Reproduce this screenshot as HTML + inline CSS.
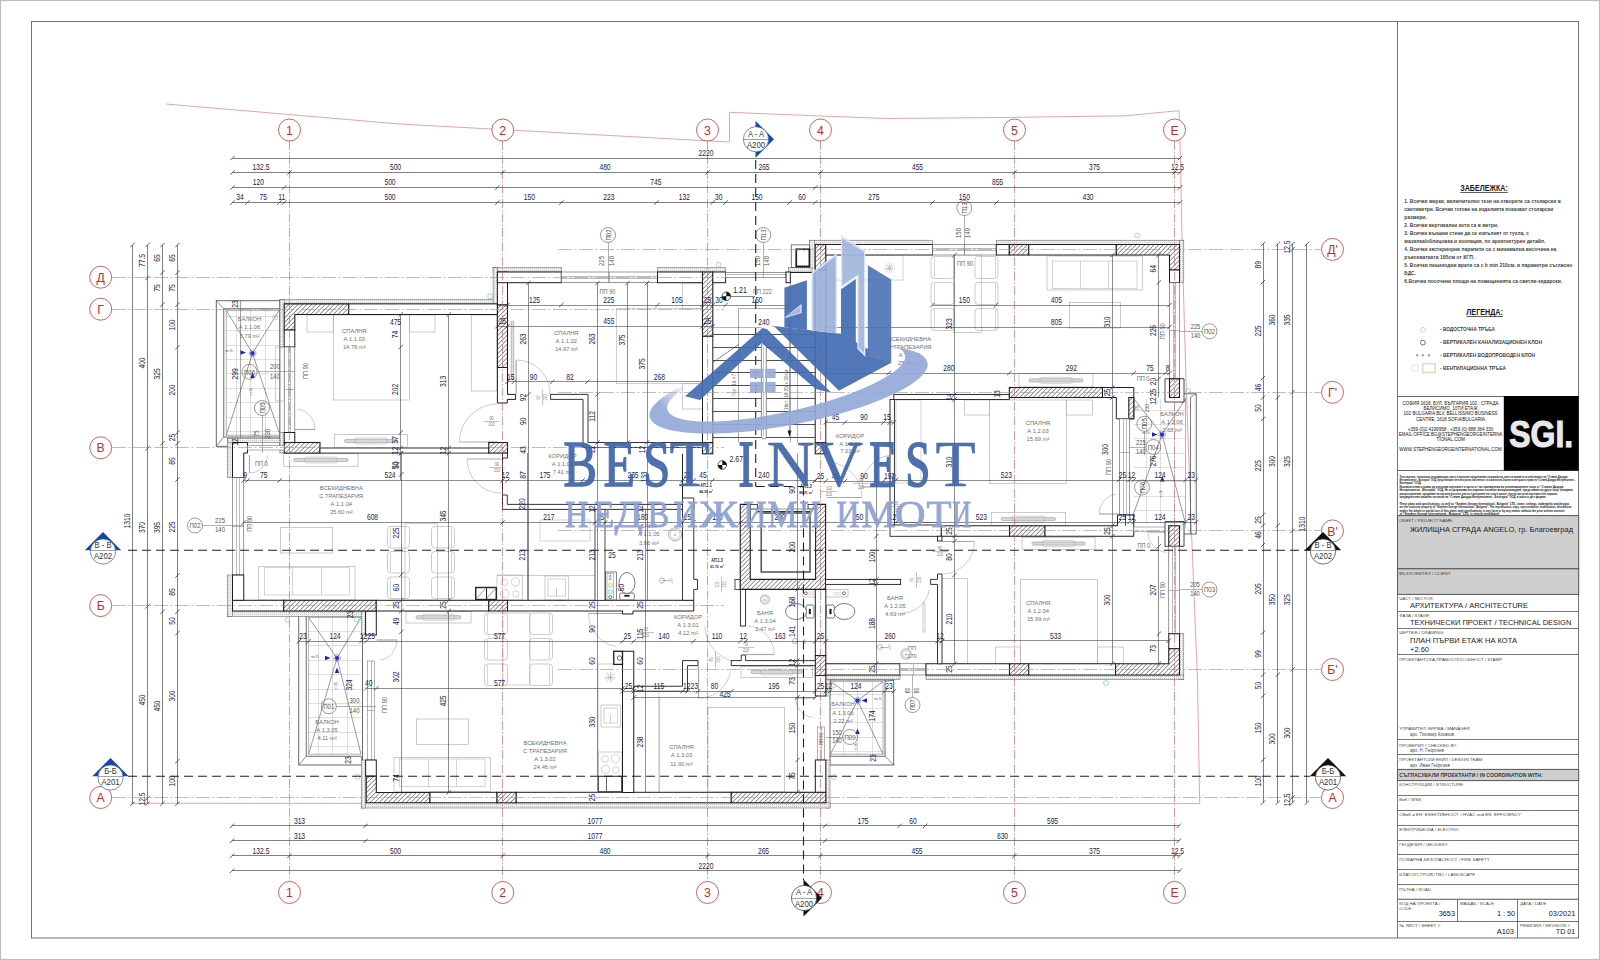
<!DOCTYPE html>
<html><head><meta charset="utf-8"><title>Plan</title>
<style>
html,body{margin:0;padding:0;background:#fff;}
body{width:1600px;height:960px;overflow:hidden;font-family:"Liberation Sans",sans-serif;}
svg{display:block;}
</style></head><body>
<svg width="1600" height="960" viewBox="0 0 1600 960">
<defs>
<pattern id="hat" width="3.2" height="3.2" patternUnits="userSpaceOnUse" patternTransform="rotate(-45)">
<rect width="3.2" height="3.2" fill="#fff"/><line x1="0" y1="0" x2="3.2" y2="0" stroke="#333" stroke-width="1"/></pattern>
<pattern id="ins" width="2" height="2" patternUnits="userSpaceOnUse"><rect width="2" height="2" fill="#f1f1f1"/><rect width="1" height="1" fill="#c8c8c8"/></pattern>
<linearGradient id="swg" x1="0" y1="0" x2="1" y2="0"><stop offset="0" stop-color="#9fb1dc"/><stop offset="1" stop-color="#8ea2d2"/></linearGradient>
</defs>
<rect width="1600" height="960" fill="#fff"/>
<rect x="0.5" y="0.5" width="1599" height="959" fill="none" stroke="#bdbdbd" stroke-width="1.2" />
<rect x="31.5" y="21.5" width="1547" height="916.5" fill="none" stroke="#757575" stroke-width="1.0" />
<line x1="1397.5" y1="21.5" x2="1397.5" y2="938" stroke="#757575" stroke-width="1.0"/>
<path d="M166 104 L400 124 L729.5 142 L729.5 112.3 L800 115.2 L887 118.5 L1000 117.5 L1125 115.8 L1175 111 L1179 111 L1180.5 160 L1182 240 L1186 380 L1191 520 L1197.5 680 L1199.7 803.6 L131 803.3" fill="none" stroke="#d06a6a" stroke-width="0.6" stroke-linejoin="miter" />
<line x1="236.5" y1="310.5" x2="236.5" y2="437" stroke="#c9c9c9" stroke-width="0.6"/>
<line x1="250.5" y1="310.5" x2="250.5" y2="437" stroke="#c9c9c9" stroke-width="0.6"/>
<line x1="265.5" y1="310.5" x2="265.5" y2="437" stroke="#c9c9c9" stroke-width="0.6"/>
<line x1="279.5" y1="310.5" x2="279.5" y2="437" stroke="#c9c9c9" stroke-width="0.6"/>
<line x1="226.3" y1="316.5" x2="279.9" y2="316.5" stroke="#c9c9c9" stroke-width="0.6"/>
<line x1="226.3" y1="330.5" x2="279.9" y2="330.5" stroke="#c9c9c9" stroke-width="0.6"/>
<line x1="226.3" y1="345.5" x2="279.9" y2="345.5" stroke="#c9c9c9" stroke-width="0.6"/>
<line x1="226.3" y1="359.5" x2="279.9" y2="359.5" stroke="#c9c9c9" stroke-width="0.6"/>
<line x1="226.3" y1="373.5" x2="279.9" y2="373.5" stroke="#c9c9c9" stroke-width="0.6"/>
<line x1="226.3" y1="388.5" x2="279.9" y2="388.5" stroke="#c9c9c9" stroke-width="0.6"/>
<line x1="226.3" y1="402.5" x2="279.9" y2="402.5" stroke="#c9c9c9" stroke-width="0.6"/>
<line x1="226.3" y1="417.5" x2="279.9" y2="417.5" stroke="#c9c9c9" stroke-width="0.6"/>
<line x1="226.3" y1="431.5" x2="279.9" y2="431.5" stroke="#c9c9c9" stroke-width="0.6"/>
<rect x="216.25" y="300.75" width="63.65" height="145.5" fill="none" stroke="#444" stroke-width="0.8" />
<path d="M279.9 308.75 L223.75 308.75 L223.75 437 L279.9 437" fill="none" stroke="#444" stroke-width="0.8" stroke-linejoin="miter" />
<path d="M279.9 310.6 L226.3 310.6 L226.3 435.2 L279.9 435.2" fill="none" stroke="#666" stroke-width="0.5" stroke-linejoin="miter" />
<line x1="216.25" y1="300.75" x2="223.75" y2="308.75" stroke="#444" stroke-width="0.6"/>
<line x1="216.25" y1="446.25" x2="223.75" y2="437" stroke="#444" stroke-width="0.6"/>
<line x1="226.3" y1="310.6" x2="252.5" y2="353.3" stroke="#555" stroke-width="0.6"/>
<line x1="279" y1="310.6" x2="252.5" y2="353.3" stroke="#555" stroke-width="0.6"/>
<line x1="226.3" y1="435.2" x2="252.5" y2="353.3" stroke="#555" stroke-width="0.6"/>
<line x1="279" y1="432.5" x2="252.5" y2="353.3" stroke="#555" stroke-width="0.6"/>
<line x1="240.5" y1="300.75" x2="240.5" y2="446.25" stroke="#4a4a4a" stroke-width="0.5"/>
<circle cx="252.5" cy="353.3" r="3.4" fill="none" stroke="#2f35c8" stroke-width="0.6" stroke-dasharray="1 0.8"/>
<circle cx="252.5" cy="353.3" r="2.1" fill="#2a30d0" stroke="#2a30d0" stroke-width="0.4" />
<path d="M246 352.5 L240.5 350.3 L240.5 354.7 Z" fill="#1c22b0" stroke="none" stroke-width="0" stroke-linejoin="miter" />
<path d="M252.5 372.5 L250.3 378 L254.7 378 Z" fill="#1c22b0" stroke="none" stroke-width="0" stroke-linejoin="miter" />
<text transform="translate(229 351.5) scale(0.78 1)" font-family="'Liberation Sans', sans-serif" font-size="2.6" fill="#2a30b0" text-anchor="middle" >min. 1%</text>
<text transform="translate(252 392) rotate(-90) scale(0.78 1)" font-family="'Liberation Sans', sans-serif" font-size="2.6" fill="#2a30b0" text-anchor="middle" >min. 1%</text>
<line x1="318.5" y1="617.5" x2="318.5" y2="754.5" stroke="#c9c9c9" stroke-width="0.6"/>
<line x1="332.5" y1="617.5" x2="332.5" y2="754.5" stroke="#c9c9c9" stroke-width="0.6"/>
<line x1="347.5" y1="617.5" x2="347.5" y2="754.5" stroke="#c9c9c9" stroke-width="0.6"/>
<line x1="308.5" y1="631.5" x2="361.3" y2="631.5" stroke="#c9c9c9" stroke-width="0.6"/>
<line x1="308.5" y1="645.5" x2="361.3" y2="645.5" stroke="#c9c9c9" stroke-width="0.6"/>
<line x1="308.5" y1="660.5" x2="361.3" y2="660.5" stroke="#c9c9c9" stroke-width="0.6"/>
<line x1="308.5" y1="674.5" x2="361.3" y2="674.5" stroke="#c9c9c9" stroke-width="0.6"/>
<line x1="308.5" y1="689.5" x2="361.3" y2="689.5" stroke="#c9c9c9" stroke-width="0.6"/>
<line x1="308.5" y1="703.5" x2="361.3" y2="703.5" stroke="#c9c9c9" stroke-width="0.6"/>
<line x1="308.5" y1="717.5" x2="361.3" y2="717.5" stroke="#c9c9c9" stroke-width="0.6"/>
<line x1="308.5" y1="732.5" x2="361.3" y2="732.5" stroke="#c9c9c9" stroke-width="0.6"/>
<line x1="308.5" y1="746.5" x2="361.3" y2="746.5" stroke="#c9c9c9" stroke-width="0.6"/>
<rect x="298.75" y="615.5" width="63.75" height="149.5" fill="none" stroke="#444" stroke-width="0.8" />
<path d="M306.25 615.5 L306.25 756.25 L361.3 756.25" fill="none" stroke="#444" stroke-width="0.8" stroke-linejoin="miter" />
<path d="M308.6 617.5 L308.6 754.2 L361.3 754.2" fill="none" stroke="#666" stroke-width="0.5" stroke-linejoin="miter" />
<line x1="308.6" y1="617.5" x2="361.3" y2="617.5" stroke="#666" stroke-width="0.5"/>
<line x1="298.75" y1="765" x2="306.25" y2="756.25" stroke="#444" stroke-width="0.6"/>
<line x1="362.5" y1="765" x2="361.3" y2="756.25" stroke="#444" stroke-width="0.6"/>
<line x1="308.6" y1="617.5" x2="337" y2="658" stroke="#555" stroke-width="0.6"/>
<line x1="361" y1="617.5" x2="337" y2="658" stroke="#555" stroke-width="0.6"/>
<line x1="308.6" y1="754.2" x2="337" y2="658" stroke="#555" stroke-width="0.6"/>
<line x1="361" y1="754.2" x2="337" y2="658" stroke="#555" stroke-width="0.6"/>
<circle cx="337" cy="658" r="3.4" fill="none" stroke="#2f35c8" stroke-width="0.6" stroke-dasharray="1 0.8"/>
<circle cx="337" cy="658" r="2.1" fill="#2a30d0" stroke="#2a30d0" stroke-width="0.4" />
<path d="M330.5 658 L325 655.8 L325 660.2 Z" fill="#1c22b0" stroke="none" stroke-width="0" stroke-linejoin="miter" />
<path d="M337 667.5 L334.8 673 L339.2 673 Z" fill="#1c22b0" stroke="none" stroke-width="0" stroke-linejoin="miter" />
<text transform="translate(315 657.5) scale(0.78 1)" font-family="'Liberation Sans', sans-serif" font-size="2.6" fill="#2a30b0" text-anchor="middle" >min. 1%</text>
<text transform="translate(336.5 686) rotate(-90) scale(0.78 1)" font-family="'Liberation Sans', sans-serif" font-size="2.6" fill="#2a30b0" text-anchor="middle" >min. 1%</text>
<line x1="843.5" y1="681.5" x2="843.5" y2="754.5" stroke="#c9c9c9" stroke-width="0.6"/>
<line x1="857.5" y1="681.5" x2="857.5" y2="754.5" stroke="#c9c9c9" stroke-width="0.6"/>
<line x1="872.5" y1="681.5" x2="872.5" y2="754.5" stroke="#c9c9c9" stroke-width="0.6"/>
<line x1="830" y1="694.5" x2="883" y2="694.5" stroke="#c9c9c9" stroke-width="0.6"/>
<line x1="830" y1="708.5" x2="883" y2="708.5" stroke="#c9c9c9" stroke-width="0.6"/>
<line x1="830" y1="722.5" x2="883" y2="722.5" stroke="#c9c9c9" stroke-width="0.6"/>
<line x1="830" y1="737.5" x2="883" y2="737.5" stroke="#c9c9c9" stroke-width="0.6"/>
<line x1="830" y1="751.5" x2="883" y2="751.5" stroke="#c9c9c9" stroke-width="0.6"/>
<rect x="830" y="680" width="63.75" height="85" fill="none" stroke="#444" stroke-width="0.8" />
<path d="M830 756.25 L885 756.25 L885 680" fill="none" stroke="#444" stroke-width="0.8" stroke-linejoin="miter" />
<path d="M830 754.2 L883 754.2 L883 681.6 L830 681.6" fill="none" stroke="#666" stroke-width="0.5" stroke-linejoin="miter" />
<line x1="893.75" y1="765" x2="885" y2="756.25" stroke="#444" stroke-width="0.6"/>
<line x1="893.75" y1="680" x2="885" y2="681.6" stroke="#444" stroke-width="0.6"/>
<line x1="830.5" y1="681.6" x2="857.5" y2="700.5" stroke="#555" stroke-width="0.6"/>
<line x1="883" y1="681.6" x2="857.5" y2="700.5" stroke="#555" stroke-width="0.6"/>
<line x1="830.5" y1="754.2" x2="857.5" y2="700.5" stroke="#555" stroke-width="0.6"/>
<line x1="883" y1="754.2" x2="857.5" y2="700.5" stroke="#555" stroke-width="0.6"/>
<circle cx="857.5" cy="700.5" r="3.4" fill="none" stroke="#2f35c8" stroke-width="0.6" stroke-dasharray="1 0.8"/>
<circle cx="857.5" cy="700.5" r="2.1" fill="#2a30d0" stroke="#2a30d0" stroke-width="0.4" />
<path d="M861.5 700.5 L867 698.3 L867 702.7 Z" fill="#1c22b0" stroke="none" stroke-width="0" stroke-linejoin="miter" />
<path d="M857.5 728.5 L855.3 734 L859.7 734 Z" fill="#1c22b0" stroke="none" stroke-width="0" stroke-linejoin="miter" />
<text transform="translate(878 699.5) scale(0.78 1)" font-family="'Liberation Sans', sans-serif" font-size="2.6" fill="#2a30b0" text-anchor="middle" >min. 1%</text>
<text transform="translate(857 747) rotate(-90) scale(0.78 1)" font-family="'Liberation Sans', sans-serif" font-size="2.6" fill="#2a30b0" text-anchor="middle" >min. 1%</text>
<line x1="1146.5" y1="399" x2="1146.5" y2="523.5" stroke="#c9c9c9" stroke-width="0.6"/>
<line x1="1160.5" y1="399" x2="1160.5" y2="523.5" stroke="#c9c9c9" stroke-width="0.6"/>
<line x1="1174.5" y1="399" x2="1174.5" y2="523.5" stroke="#c9c9c9" stroke-width="0.6"/>
<line x1="1133.8" y1="410.5" x2="1185.5" y2="410.5" stroke="#c9c9c9" stroke-width="0.6"/>
<line x1="1133.8" y1="424.5" x2="1185.5" y2="424.5" stroke="#c9c9c9" stroke-width="0.6"/>
<line x1="1133.8" y1="438.5" x2="1185.5" y2="438.5" stroke="#c9c9c9" stroke-width="0.6"/>
<line x1="1133.8" y1="453.5" x2="1185.5" y2="453.5" stroke="#c9c9c9" stroke-width="0.6"/>
<line x1="1133.8" y1="467.5" x2="1185.5" y2="467.5" stroke="#c9c9c9" stroke-width="0.6"/>
<line x1="1133.8" y1="481.5" x2="1185.5" y2="481.5" stroke="#c9c9c9" stroke-width="0.6"/>
<line x1="1133.8" y1="496.5" x2="1185.5" y2="496.5" stroke="#c9c9c9" stroke-width="0.6"/>
<line x1="1133.8" y1="510.5" x2="1185.5" y2="510.5" stroke="#c9c9c9" stroke-width="0.6"/>
<path d="M1183.8 393.75 L1196.25 393.75 L1196.25 534 L1183.8 534" fill="none" stroke="#444" stroke-width="0.8" stroke-linejoin="miter" />
<line x1="1190.5" y1="397.5" x2="1190.5" y2="534" stroke="#444" stroke-width="0.7"/>
<line x1="1185.5" y1="397.5" x2="1185.5" y2="525.5" stroke="#666" stroke-width="0.5"/>
<line x1="1196.25" y1="393.75" x2="1190" y2="397.5" stroke="#444" stroke-width="0.6"/>
<line x1="1134" y1="399" x2="1162" y2="434.5" stroke="#555" stroke-width="0.6"/>
<line x1="1185.5" y1="399" x2="1162" y2="434.5" stroke="#555" stroke-width="0.6"/>
<line x1="1130" y1="523.5" x2="1162" y2="434.5" stroke="#555" stroke-width="0.6"/>
<line x1="1185.5" y1="523.5" x2="1162" y2="434.5" stroke="#555" stroke-width="0.6"/>
<circle cx="1162" cy="434.5" r="3.4" fill="none" stroke="#2f35c8" stroke-width="0.6" stroke-dasharray="1 0.8"/>
<circle cx="1162" cy="434.5" r="2.1" fill="#2a30d0" stroke="#2a30d0" stroke-width="0.4" />
<path d="M1157.5 434.5 L1152 432.3 L1152 436.7 Z" fill="#1c22b0" stroke="none" stroke-width="0" stroke-linejoin="miter" />
<path d="M1162.3 476 L1160.1 481.5 L1164.5 481.5 Z" fill="#1c22b0" stroke="none" stroke-width="0" stroke-linejoin="miter" />
<text transform="translate(1146 434) scale(0.78 1)" font-family="'Liberation Sans', sans-serif" font-size="2.6" fill="#2a30b0" text-anchor="middle" >min. 1%</text>
<text transform="translate(1161.8 494) rotate(-90) scale(0.78 1)" font-family="'Liberation Sans', sans-serif" font-size="2.6" fill="#2a30b0" text-anchor="middle" >min. 1%</text>
<rect x="279.9" y="299.6" width="217.5" height="4.3" fill="url(#ins)" stroke="#555" stroke-width="0.5" />
<rect x="279.9" y="299.6" width="4.3" height="47.4" fill="url(#ins)" stroke="#555" stroke-width="0.5" />
<rect x="279.9" y="432.5" width="4.3" height="20.5" fill="url(#ins)" stroke="#555" stroke-width="0.5" />
<rect x="493.1" y="267.7" width="68.2" height="4.3" fill="url(#ins)" stroke="#555" stroke-width="0.5" />
<rect x="657.5" y="267.7" width="68.1" height="4.3" fill="url(#ins)" stroke="#555" stroke-width="0.5" />
<rect x="788.4" y="267.7" width="23.6" height="4.3" fill="url(#ins)" stroke="#555" stroke-width="0.5" />
<rect x="493.1" y="267.7" width="4.3" height="36.2" fill="url(#ins)" stroke="#555" stroke-width="0.5" />
<rect x="809.4" y="240.2" width="123.1" height="4.3" fill="url(#ins)" stroke="#555" stroke-width="0.5" />
<rect x="996.3" y="240.2" width="187.5" height="4.3" fill="url(#ins)" stroke="#555" stroke-width="0.5" />
<rect x="809.4" y="240.2" width="5.4" height="27.8" fill="url(#ins)" stroke="#555" stroke-width="0.5" />
<rect x="1179.5" y="240.2" width="4.3" height="42.3" fill="url(#ins)" stroke="#555" stroke-width="0.5" />
<rect x="1179.5" y="378.8" width="4.3" height="23.2" fill="url(#ins)" stroke="#555" stroke-width="0.5" />
<rect x="1179.5" y="521.5" width="4.3" height="24.8" fill="url(#ins)" stroke="#555" stroke-width="0.5" />
<rect x="1179.5" y="633.75" width="4.3" height="45.55" fill="url(#ins)" stroke="#555" stroke-width="0.5" />
<rect x="825.8" y="675" width="74.2" height="4.3" fill="url(#ins)" stroke="#555" stroke-width="0.5" />
<rect x="926" y="675" width="257.8" height="4.3" fill="url(#ins)" stroke="#555" stroke-width="0.5" />
<rect x="825.8" y="679.3" width="4.2" height="16.7" fill="url(#ins)" stroke="#555" stroke-width="0.5" />
<rect x="825.8" y="760" width="4.2" height="48" fill="url(#ins)" stroke="#555" stroke-width="0.5" />
<rect x="361.3" y="802.8" width="468.7" height="5.2" fill="url(#ins)" stroke="#555" stroke-width="0.5" />
<rect x="361.3" y="760" width="4.3" height="48" fill="url(#ins)" stroke="#555" stroke-width="0.5" />
<rect x="227.5" y="611" width="138.1" height="5.3" fill="url(#ins)" stroke="#555" stroke-width="0.5" />
<rect x="227.5" y="438.2" width="5" height="39.3" fill="url(#ins)" stroke="#555" stroke-width="0.5" />
<rect x="227.5" y="575" width="5" height="41.3" fill="url(#ins)" stroke="#555" stroke-width="0.5" />
<rect x="227.5" y="438.2" width="52.4" height="4.3" fill="url(#ins)" stroke="#555" stroke-width="0.5" />
<rect x="361.3" y="611" width="4.3" height="24" fill="url(#ins)" stroke="#555" stroke-width="0.5" />
<rect x="333.25" y="315" width="76.25" height="85" fill="none" stroke="#a9a9a9" stroke-width="0.6" />
<rect x="307" y="315" width="26.25" height="17" fill="none" stroke="#a9a9a9" stroke-width="0.6" />
<rect x="409.5" y="315" width="25.5" height="17" fill="none" stroke="#a9a9a9" stroke-width="0.6" />
<rect x="471.25" y="315" width="25.75" height="76" fill="none" stroke="#a9a9a9" stroke-width="0.6" />
<rect x="334.5" y="434.5" width="73" height="13" fill="none" stroke="#a9a9a9" stroke-width="0.6" />
<rect x="344.5" y="439.4" width="53" height="3.2" fill="#d8d8d8" stroke="#999" stroke-width="0.6" rx="1.5"/>
<rect x="355" y="438" width="32" height="6" fill="none" stroke="#a9a9a9" stroke-width="0.5" rx="1.5"/>
<line x1="294.8" y1="429.5" x2="315.3" y2="429.5" stroke="#a9a9a9" stroke-width="1.2"/>
<path d="M315.3 429.5 A20.5 20.5 0 0 0 297.65 409.2" fill="none" stroke="#a9a9a9" stroke-width="0.6" />
<line x1="497.4" y1="442" x2="459.4" y2="442" stroke="#a9a9a9" stroke-width="1.2"/>
<path d="M459.4 442 A38 38 0 0 1 497.4 404" fill="none" stroke="#a9a9a9" stroke-width="0.6" />
<rect x="616.25" y="308.75" width="86.25" height="75" fill="none" stroke="#a9a9a9" stroke-width="0.6" />
<rect x="682.5" y="283" width="20" height="25.75" fill="none" stroke="#a9a9a9" stroke-width="0.6" />
<rect x="682.5" y="383.75" width="20" height="25.25" fill="none" stroke="#a9a9a9" stroke-width="0.6" />
<rect x="511.2" y="321" width="2.6" height="59" fill="#ddd" stroke="#999" stroke-width="0.6" rx="1.2"/>
<line x1="516.2" y1="394" x2="516.2" y2="360" stroke="#a9a9a9" stroke-width="1.2"/>
<path d="M516.2 360 A34 34 0 0 1 550.2 394" fill="none" stroke="#a9a9a9" stroke-width="0.6" />
<rect x="283.75" y="453.75" width="74.25" height="12.5" fill="none" stroke="#a9a9a9" stroke-width="0.6" />
<rect x="293.75" y="458.4" width="54.25" height="3.2" fill="#d8d8d8" stroke="#999" stroke-width="0.6" rx="1.5"/>
<rect x="304.88" y="457" width="32" height="6" fill="none" stroke="#a9a9a9" stroke-width="0.5" rx="1.5"/>
<rect x="280.5" y="527.5" width="52" height="25.5" fill="none" stroke="#a9a9a9" stroke-width="0.6" />
<rect x="258.75" y="566.25" width="96.25" height="33.75" fill="none" stroke="#a9a9a9" stroke-width="0.6" />
<rect x="264.25" y="567.75" width="85.25" height="27.25" fill="none" stroke="#a9a9a9" stroke-width="0.5" />
<line x1="292.5" y1="567.75" x2="292.5" y2="595" stroke="#a9a9a9" stroke-width="0.5"/>
<line x1="321.5" y1="567.75" x2="321.5" y2="595" stroke="#a9a9a9" stroke-width="0.5"/>
<rect x="405" y="523.75" width="32.5" height="76.25" fill="none" stroke="#a9a9a9" stroke-width="0.6" />
<rect x="387.5" y="526.5" width="22" height="21.5" fill="none" stroke="#a9a9a9" stroke-width="0.6" rx="3.2"/>
<line x1="390.5" y1="527.5" x2="390.5" y2="547" stroke="#a9a9a9" stroke-width="0.5"/>
<rect x="431.5" y="526.5" width="23" height="21.5" fill="none" stroke="#a9a9a9" stroke-width="0.6" rx="3.2"/>
<line x1="451.5" y1="527.5" x2="451.5" y2="547" stroke="#a9a9a9" stroke-width="0.5"/>
<rect x="387.5" y="551.5" width="22" height="21.5" fill="none" stroke="#a9a9a9" stroke-width="0.6" rx="3.2"/>
<line x1="390.5" y1="552.5" x2="390.5" y2="572" stroke="#a9a9a9" stroke-width="0.5"/>
<rect x="431.5" y="551.5" width="23" height="21.5" fill="none" stroke="#a9a9a9" stroke-width="0.6" rx="3.2"/>
<line x1="451.5" y1="552.5" x2="451.5" y2="572" stroke="#a9a9a9" stroke-width="0.5"/>
<rect x="387.5" y="577" width="22" height="21.5" fill="none" stroke="#a9a9a9" stroke-width="0.6" rx="3.2"/>
<line x1="390.5" y1="578" x2="390.5" y2="597.5" stroke="#a9a9a9" stroke-width="0.5"/>
<rect x="431.5" y="577" width="23" height="21.5" fill="none" stroke="#a9a9a9" stroke-width="0.6" rx="3.2"/>
<line x1="451.5" y1="578" x2="451.5" y2="597.5" stroke="#a9a9a9" stroke-width="0.5"/>
<rect x="497" y="575" width="25.5" height="25" fill="none" stroke="#a9a9a9" stroke-width="0.6" />
<circle cx="504.14" cy="582.5" r="3.4" fill="none" stroke="#a9a9a9" stroke-width="0.5" />
<circle cx="515.36" cy="582" r="4.2" fill="none" stroke="#a9a9a9" stroke-width="0.5" />
<circle cx="504.65" cy="593.5" r="4.2" fill="none" stroke="#a9a9a9" stroke-width="0.5" />
<circle cx="515.87" cy="594" r="3.2" fill="none" stroke="#a9a9a9" stroke-width="0.5" />
<line x1="497" y1="575.5" x2="597.5" y2="575.5" stroke="#a9a9a9" stroke-width="0.6"/>
<rect x="545" y="576" width="23.75" height="24" fill="none" stroke="#a9a9a9" stroke-width="0.6" />
<rect x="548" y="579" width="17.75" height="17" fill="none" stroke="#a9a9a9" stroke-width="0.5" />
<line x1="556.5" y1="596" x2="556.5" y2="588" stroke="#a9a9a9" stroke-width="0.6"/>
<rect x="540" y="520" width="50" height="21" fill="none" stroke="#a9a9a9" stroke-width="0.5" />
<line x1="249.5" y1="455" x2="249.5" y2="473" stroke="#a9a9a9" stroke-width="1.2"/>
<path d="M249.5 473 A18 18 0 0 0 267.5 455" fill="none" stroke="#a9a9a9" stroke-width="0.6" />
<line x1="501" y1="459" x2="467" y2="459" stroke="#a9a9a9" stroke-width="1.2"/>
<path d="M467 459 A34 34 0 0 0 501 493" fill="none" stroke="#a9a9a9" stroke-width="0.6" />
<rect x="406" y="611.5" width="65" height="11.5" fill="none" stroke="#a9a9a9" stroke-width="0.6" />
<rect x="416" y="615.65" width="45" height="3.2" fill="#d8d8d8" stroke="#999" stroke-width="0.6" rx="1.5"/>
<rect x="422.5" y="614.25" width="32" height="6" fill="none" stroke="#a9a9a9" stroke-width="0.5" rx="1.5"/>
<rect x="416.5" y="719" width="52" height="25.5" fill="none" stroke="#a9a9a9" stroke-width="0.6" />
<rect x="394" y="757.5" width="96.5" height="34" fill="none" stroke="#a9a9a9" stroke-width="0.6" />
<rect x="399.5" y="759" width="85.5" height="27.5" fill="none" stroke="#a9a9a9" stroke-width="0.5" />
<line x1="428.5" y1="759" x2="428.5" y2="786.5" stroke="#a9a9a9" stroke-width="0.5"/>
<line x1="456.5" y1="759" x2="456.5" y2="786.5" stroke="#a9a9a9" stroke-width="0.5"/>
<rect x="503" y="613" width="27" height="72" fill="none" stroke="#a9a9a9" stroke-width="0.5" />
<rect x="484.5" y="613" width="23" height="21.5" fill="none" stroke="#a9a9a9" stroke-width="0.6" rx="3.2"/>
<line x1="487.5" y1="614" x2="487.5" y2="633.5" stroke="#a9a9a9" stroke-width="0.5"/>
<rect x="529.5" y="613" width="23" height="21.5" fill="none" stroke="#a9a9a9" stroke-width="0.6" rx="3.2"/>
<line x1="549.5" y1="614" x2="549.5" y2="633.5" stroke="#a9a9a9" stroke-width="0.5"/>
<rect x="484.5" y="638.5" width="23" height="21.5" fill="none" stroke="#a9a9a9" stroke-width="0.6" rx="3.2"/>
<line x1="487.5" y1="639.5" x2="487.5" y2="659" stroke="#a9a9a9" stroke-width="0.5"/>
<rect x="529.5" y="638.5" width="23" height="21.5" fill="none" stroke="#a9a9a9" stroke-width="0.6" rx="3.2"/>
<line x1="549.5" y1="639.5" x2="549.5" y2="659" stroke="#a9a9a9" stroke-width="0.5"/>
<rect x="484.5" y="664" width="23" height="21.5" fill="none" stroke="#a9a9a9" stroke-width="0.6" rx="3.2"/>
<line x1="487.5" y1="665" x2="487.5" y2="684.5" stroke="#a9a9a9" stroke-width="0.5"/>
<rect x="529.5" y="664" width="23" height="21.5" fill="none" stroke="#a9a9a9" stroke-width="0.6" rx="3.2"/>
<line x1="549.5" y1="665" x2="549.5" y2="684.5" stroke="#a9a9a9" stroke-width="0.5"/>
<rect x="598" y="664" width="24.5" height="112.5" fill="none" stroke="#a9a9a9" stroke-width="0.6" />
<line x1="604.5" y1="677.5" x2="615.5" y2="677.5" stroke="#a9a9a9" stroke-width="0.5"/>
<line x1="605.24" y1="674.25" x2="614.76" y2="679.75" stroke="#a9a9a9" stroke-width="0.5"/>
<line x1="607.25" y1="672.24" x2="612.75" y2="681.76" stroke="#a9a9a9" stroke-width="0.5"/>
<line x1="610.5" y1="671.5" x2="610.5" y2="682.5" stroke="#a9a9a9" stroke-width="0.5"/>
<line x1="612.75" y1="672.24" x2="607.25" y2="681.76" stroke="#a9a9a9" stroke-width="0.5"/>
<line x1="614.76" y1="674.25" x2="605.24" y2="679.75" stroke="#a9a9a9" stroke-width="0.5"/>
<rect x="601" y="705" width="19.5" height="22" fill="none" stroke="#a9a9a9" stroke-width="0.6" />
<rect x="604" y="708" width="13.5" height="15" fill="none" stroke="#a9a9a9" stroke-width="0.5" />
<line x1="610.5" y1="723" x2="610.5" y2="715" stroke="#a9a9a9" stroke-width="0.6"/>
<rect x="598.5" y="752" width="23.5" height="23.5" fill="none" stroke="#a9a9a9" stroke-width="0.6" />
<circle cx="605.08" cy="759.05" r="3.4" fill="none" stroke="#a9a9a9" stroke-width="0.5" />
<circle cx="615.42" cy="758.58" r="4.2" fill="none" stroke="#a9a9a9" stroke-width="0.5" />
<circle cx="605.55" cy="769.39" r="4.2" fill="none" stroke="#a9a9a9" stroke-width="0.5" />
<circle cx="615.89" cy="769.86" r="3.2" fill="none" stroke="#a9a9a9" stroke-width="0.5" />
<line x1="376.5" y1="640" x2="397" y2="640" stroke="#a9a9a9" stroke-width="1.2"/>
<path d="M397 640 A20.5 20.5 0 0 1 380.06 660.19" fill="none" stroke="#a9a9a9" stroke-width="0.6" />
<line x1="622" y1="613.5" x2="588.5" y2="613.5" stroke="#a9a9a9" stroke-width="1.2"/>
<path d="M588.5 613.5 A33.5 33.5 0 0 0 616.18 646.49" fill="none" stroke="#a9a9a9" stroke-width="0.6" />
<rect x="708" y="707.5" width="76.5" height="84.5" fill="none" stroke="#a9a9a9" stroke-width="0.6" />
<rect x="659" y="697" width="0.5" height="95" fill="none" stroke="#a9a9a9" stroke-width="0.5" />
<rect x="633.75" y="691.25" width="25.25" height="101.05" fill="none" stroke="#a9a9a9" stroke-width="0.5" />
<rect x="741" y="666.5" width="71.5" height="11" fill="none" stroke="#a9a9a9" stroke-width="0.6" />
<rect x="751" y="670.4" width="51.5" height="3.2" fill="#d8d8d8" stroke="#999" stroke-width="0.6" rx="1.5"/>
<rect x="760.75" y="669" width="32" height="6" fill="none" stroke="#a9a9a9" stroke-width="0.5" rx="1.5"/>
<line x1="698.5" y1="665.8" x2="698.5" y2="698.3" stroke="#a9a9a9" stroke-width="1.2"/>
<path d="M698.5 698.3 A32.5 32.5 0 0 0 730.51 671.44" fill="none" stroke="#a9a9a9" stroke-width="0.6" />
<line x1="815" y1="698" x2="795.5" y2="698" stroke="#a9a9a9" stroke-width="1.2"/>
<path d="M795.5 698 A19.5 19.5 0 0 0 812.62 717.35" fill="none" stroke="#a9a9a9" stroke-width="0.6" />
<path d="M705 626 A36 36 0 0 0 734.75 661.45" fill="none" stroke="#a9a9a9" stroke-width="0.6" />
<line x1="745.8" y1="654.5" x2="774.3" y2="654.5" stroke="#a9a9a9" stroke-width="1.2"/>
<path d="M774.3 654.5 A28.5 28.5 0 0 0 748.28 626.11" fill="none" stroke="#a9a9a9" stroke-width="0.6" />
<rect x="953.75" y="255" width="27.5" height="77.5" fill="none" stroke="#a9a9a9" stroke-width="0.6" />
<rect x="931" y="256.5" width="23" height="22" fill="none" stroke="#a9a9a9" stroke-width="0.6" rx="3.2"/>
<line x1="934.5" y1="257.5" x2="934.5" y2="277.5" stroke="#a9a9a9" stroke-width="0.5"/>
<rect x="975" y="256.5" width="23" height="22" fill="none" stroke="#a9a9a9" stroke-width="0.6" rx="3.2"/>
<line x1="995.5" y1="257.5" x2="995.5" y2="277.5" stroke="#a9a9a9" stroke-width="0.5"/>
<rect x="931" y="282.5" width="23" height="22" fill="none" stroke="#a9a9a9" stroke-width="0.6" rx="3.2"/>
<line x1="934.5" y1="283.5" x2="934.5" y2="303.5" stroke="#a9a9a9" stroke-width="0.5"/>
<rect x="975" y="282.5" width="23" height="22" fill="none" stroke="#a9a9a9" stroke-width="0.6" rx="3.2"/>
<line x1="995.5" y1="283.5" x2="995.5" y2="303.5" stroke="#a9a9a9" stroke-width="0.5"/>
<rect x="931" y="308.5" width="23" height="22" fill="none" stroke="#a9a9a9" stroke-width="0.6" rx="3.2"/>
<line x1="934.5" y1="309.5" x2="934.5" y2="329.5" stroke="#a9a9a9" stroke-width="0.5"/>
<rect x="975" y="308.5" width="23" height="22" fill="none" stroke="#a9a9a9" stroke-width="0.6" rx="3.2"/>
<line x1="995.5" y1="309.5" x2="995.5" y2="329.5" stroke="#a9a9a9" stroke-width="0.5"/>
<rect x="1047" y="256" width="95.5" height="34" fill="none" stroke="#a9a9a9" stroke-width="0.6" />
<rect x="1052.5" y="261" width="84.5" height="27.5" fill="none" stroke="#a9a9a9" stroke-width="0.5" />
<line x1="1080.5" y1="261" x2="1080.5" y2="288.5" stroke="#a9a9a9" stroke-width="0.5"/>
<line x1="1108.5" y1="261" x2="1108.5" y2="288.5" stroke="#a9a9a9" stroke-width="0.5"/>
<rect x="1069.5" y="302.5" width="51" height="25.5" fill="none" stroke="#a9a9a9" stroke-width="0.6" />
<rect x="1019" y="373.75" width="74" height="13.25" fill="none" stroke="#a9a9a9" stroke-width="0.6" />
<rect x="1029" y="378.77" width="54" height="3.2" fill="#d8d8d8" stroke="#999" stroke-width="0.6" rx="1.5"/>
<rect x="1040" y="377.38" width="32" height="6" fill="none" stroke="#a9a9a9" stroke-width="0.5" rx="1.5"/>
<rect x="826" y="255" width="77" height="25" fill="none" stroke="#a9a9a9" stroke-width="0.5" />
<line x1="884" y1="268.5" x2="895" y2="268.5" stroke="#a9a9a9" stroke-width="0.5"/>
<line x1="884.74" y1="265.25" x2="894.26" y2="270.75" stroke="#a9a9a9" stroke-width="0.5"/>
<line x1="886.75" y1="263.24" x2="892.25" y2="272.76" stroke="#a9a9a9" stroke-width="0.5"/>
<line x1="889.5" y1="262.5" x2="889.5" y2="273.5" stroke="#a9a9a9" stroke-width="0.5"/>
<line x1="892.25" y1="263.24" x2="886.75" y2="272.76" stroke="#a9a9a9" stroke-width="0.5"/>
<line x1="894.26" y1="265.25" x2="884.74" y2="270.75" stroke="#a9a9a9" stroke-width="0.5"/>
<rect x="989.5" y="400" width="76.75" height="83.5" fill="none" stroke="#a9a9a9" stroke-width="0.6" />
<rect x="964.5" y="400" width="25" height="15" fill="none" stroke="#a9a9a9" stroke-width="0.6" />
<rect x="1066.25" y="400" width="26.25" height="15" fill="none" stroke="#a9a9a9" stroke-width="0.6" />
<rect x="896" y="400" width="25" height="83" fill="none" stroke="#a9a9a9" stroke-width="0.5" />
<rect x="991.25" y="512.5" width="74.25" height="13" fill="none" stroke="#a9a9a9" stroke-width="0.6" />
<rect x="1001.25" y="517.4" width="54.25" height="3.2" fill="#d8d8d8" stroke="#999" stroke-width="0.6" rx="1.5"/>
<rect x="1012.38" y="516" width="32" height="6" fill="none" stroke="#a9a9a9" stroke-width="0.5" rx="1.5"/>
<line x1="1119" y1="514" x2="1099" y2="514" stroke="#a9a9a9" stroke-width="1.2"/>
<path d="M1099 514 A20 20 0 0 1 1116.22 494.19" fill="none" stroke="#a9a9a9" stroke-width="0.6" />
<rect x="1020.5" y="579.5" width="77" height="84.25" fill="none" stroke="#a9a9a9" stroke-width="0.6" />
<rect x="995.5" y="647" width="25" height="16.75" fill="none" stroke="#a9a9a9" stroke-width="0.6" />
<rect x="1097.5" y="647" width="25.75" height="16.75" fill="none" stroke="#a9a9a9" stroke-width="0.6" />
<rect x="941.25" y="578.75" width="26.25" height="85" fill="none" stroke="#a9a9a9" stroke-width="0.6" />
<rect x="1022" y="537.5" width="73" height="12" fill="none" stroke="#a9a9a9" stroke-width="0.6" />
<rect x="1032" y="541.9" width="53" height="3.2" fill="#d8d8d8" stroke="#999" stroke-width="0.6" rx="1.5"/>
<rect x="1042.5" y="540.5" width="32" height="6" fill="none" stroke="#a9a9a9" stroke-width="0.5" rx="1.5"/>
<line x1="942" y1="541.5" x2="974.5" y2="541.5" stroke="#a9a9a9" stroke-width="1.2"/>
<path d="M974.5 541.5 A32.5 32.5 0 0 1 943.13 573.98" fill="none" stroke="#a9a9a9" stroke-width="0.6" />
<line x1="1168.5" y1="532" x2="1148" y2="532" stroke="#a9a9a9" stroke-width="1.2"/>
<path d="M1148 532 A20.5 20.5 0 0 0 1166.71 552.42" fill="none" stroke="#a9a9a9" stroke-width="0.6" />
<line x1="826.5" y1="497.5" x2="862" y2="497.5" stroke="#a9a9a9" stroke-width="1.2"/>
<path d="M862 497.5 A35.5 35.5 0 0 0 833.88 462.78" fill="none" stroke="#a9a9a9" stroke-width="0.6" />
<line x1="894" y1="487" x2="862" y2="487" stroke="#a9a9a9" stroke-width="1.2"/>
<path d="M862 487 A32 32 0 0 1 889.55 455.31" fill="none" stroke="#a9a9a9" stroke-width="0.6" />
<path d="M900.8 613.5 A29 29 0 0 0 929.36 589.54" fill="none" stroke="#a9a9a9" stroke-width="0.6" />
<rect x="605.6" y="572" width="10.7" height="28" fill="#fff" stroke="#444" stroke-width="0.7" />
<rect x="607" y="573.5" width="6.6" height="26.5" fill="#fff" stroke="#777" stroke-width="0.5" />
<circle cx="610.3" cy="576" r="0.9" fill="none" stroke="#444" stroke-width="0.5" />
<circle cx="610.3" cy="579" r="0.9" fill="none" stroke="#444" stroke-width="0.5" />
<circle cx="610.3" cy="585.3" r="2.3" fill="#f3ecd2" stroke="#d8c890" stroke-width="0.6" />
<circle cx="610.3" cy="592" r="2.3" fill="#cfeef2" stroke="#7fd0dc" stroke-width="0.6" />
<circle cx="610.3" cy="597.3" r="1.6" fill="none" stroke="#333" stroke-width="0.7" />
<rect x="619.7" y="593" width="14.6" height="7" fill="#fff" stroke="#444" stroke-width="0.7" rx="1.5"/>
<ellipse cx="627" cy="583" rx="8" ry="10.5" fill="#fff" stroke="#444" stroke-width="0.7"/>
<rect x="624.5" y="595" width="5" height="1.6" fill="#222" stroke="#222" stroke-width="0.3" />
<circle cx="675" cy="534.4" r="6.6" fill="none" stroke="#777" stroke-width="0.6" />
<circle cx="675" cy="534.4" r="5" fill="none" stroke="#999" stroke-width="0.5" />
<circle cx="675" cy="534.9" r="0.7" fill="#888" stroke="#888" stroke-width="0.3" />
<circle cx="662" cy="580.5" r="2.6" fill="none" stroke="#888" stroke-width="0.6" />
<line x1="662" y1="580.5" x2="670" y2="580.5" stroke="#888" stroke-width="0.6"/>
<line x1="670" y1="577.7" x2="673" y2="580.3" stroke="#999" stroke-width="0.5"/>
<line x1="670" y1="579.2" x2="673" y2="581.8" stroke="#999" stroke-width="0.5"/>
<line x1="670" y1="580.7" x2="673" y2="583.3" stroke="#999" stroke-width="0.5"/>
<circle cx="765" cy="599.5" r="4.6" fill="none" stroke="#777" stroke-width="0.6" />
<circle cx="765" cy="599.5" r="3" fill="none" stroke="#999" stroke-width="0.5" />
<circle cx="765" cy="600" r="0.7" fill="#888" stroke="#888" stroke-width="0.3" />
<rect x="806" y="605" width="8" height="13" fill="#fff" stroke="#444" stroke-width="0.7" rx="1.5"/>
<ellipse cx="796" cy="611.5" rx="10.5" ry="8" fill="#fff" stroke="#444" stroke-width="0.7"/>
<rect x="809" y="609" width="1.8" height="5" fill="#222" stroke="#222" stroke-width="0.3" />
<rect x="826.4" y="605" width="8" height="13" fill="#fff" stroke="#444" stroke-width="0.7" rx="1.5"/>
<ellipse cx="844.4" cy="611.5" rx="10.5" ry="8" fill="#fff" stroke="#444" stroke-width="0.7"/>
<rect x="829.6" y="609" width="1.8" height="5" fill="#222" stroke="#222" stroke-width="0.3" />
<rect x="803" y="589.6" width="45" height="7.4" fill="#fff" stroke="#888" stroke-width="0.5" />
<circle cx="806" cy="593.3" r="1.5" fill="none" stroke="#222" stroke-width="0.6" />
<circle cx="809.5" cy="593.3" r="1.5" fill="none" stroke="#e8b8a0" stroke-width="0.6" />
<circle cx="813" cy="593.3" r="1.5" fill="none" stroke="#e8b8a0" stroke-width="0.6" />
<circle cx="836" cy="593.3" r="1.5" fill="none" stroke="#e8b8a0" stroke-width="0.6" />
<circle cx="840" cy="593.3" r="1.5" fill="none" stroke="#e8b8a0" stroke-width="0.6" />
<circle cx="844" cy="593.3" r="1.5" fill="none" stroke="#222" stroke-width="0.6" />
<circle cx="906" cy="654" r="5.2" fill="none" stroke="#777" stroke-width="0.6" />
<circle cx="906" cy="654" r="3.6" fill="none" stroke="#999" stroke-width="0.5" />
<circle cx="906" cy="654.5" r="0.7" fill="#888" stroke="#888" stroke-width="0.3" />
<circle cx="880" cy="647" r="2.6" fill="none" stroke="#888" stroke-width="0.6" />
<line x1="880" y1="647.5" x2="888" y2="647.5" stroke="#888" stroke-width="0.6"/>
<line x1="888" y1="644.2" x2="891" y2="646.8" stroke="#999" stroke-width="0.5"/>
<line x1="888" y1="645.7" x2="891" y2="648.3" stroke="#999" stroke-width="0.5"/>
<line x1="888" y1="647.2" x2="891" y2="649.8" stroke="#999" stroke-width="0.5"/>
<circle cx="795" cy="641" r="2.6" fill="none" stroke="#888" stroke-width="0.6" />
<line x1="795" y1="641.5" x2="803" y2="641.5" stroke="#888" stroke-width="0.6"/>
<line x1="803" y1="638.2" x2="806" y2="640.8" stroke="#999" stroke-width="0.5"/>
<line x1="803" y1="639.7" x2="806" y2="642.3" stroke="#999" stroke-width="0.5"/>
<line x1="803" y1="641.2" x2="806" y2="643.8" stroke="#999" stroke-width="0.5"/>
<rect x="923" y="603" width="2" height="29" fill="#fff" stroke="#999" stroke-width="0.5" />
<line x1="712.8" y1="334.5" x2="761.4" y2="334.5" stroke="#3c3c3c" stroke-width="0.9"/>
<line x1="766.3" y1="334.5" x2="815.2" y2="334.5" stroke="#3c3c3c" stroke-width="0.9"/>
<line x1="712.8" y1="347.5" x2="761.4" y2="347.5" stroke="#3c3c3c" stroke-width="0.9"/>
<line x1="766.3" y1="347.5" x2="815.2" y2="347.5" stroke="#3c3c3c" stroke-width="0.9"/>
<line x1="712.8" y1="360.5" x2="761.4" y2="360.5" stroke="#3c3c3c" stroke-width="0.9"/>
<line x1="766.3" y1="360.5" x2="815.2" y2="360.5" stroke="#3c3c3c" stroke-width="0.9"/>
<line x1="712.8" y1="372.5" x2="761.4" y2="372.5" stroke="#3c3c3c" stroke-width="0.9"/>
<line x1="766.3" y1="372.5" x2="815.2" y2="372.5" stroke="#3c3c3c" stroke-width="0.9"/>
<line x1="712.8" y1="385.5" x2="761.4" y2="385.5" stroke="#3c3c3c" stroke-width="0.9"/>
<line x1="766.3" y1="385.5" x2="815.2" y2="385.5" stroke="#3c3c3c" stroke-width="0.9"/>
<line x1="712.8" y1="398.5" x2="761.4" y2="398.5" stroke="#3c3c3c" stroke-width="0.9"/>
<line x1="766.3" y1="398.5" x2="815.2" y2="398.5" stroke="#3c3c3c" stroke-width="0.9"/>
<line x1="712.8" y1="411.5" x2="761.4" y2="411.5" stroke="#3c3c3c" stroke-width="0.9"/>
<line x1="766.3" y1="411.5" x2="815.2" y2="411.5" stroke="#3c3c3c" stroke-width="0.9"/>
<line x1="712.8" y1="424.5" x2="761.4" y2="424.5" stroke="#3c3c3c" stroke-width="0.9"/>
<line x1="766.3" y1="424.5" x2="815.2" y2="424.5" stroke="#3c3c3c" stroke-width="0.9"/>
<line x1="712.8" y1="437.5" x2="761.4" y2="437.5" stroke="#3c3c3c" stroke-width="0.9"/>
<line x1="766.3" y1="437.5" x2="815.2" y2="437.5" stroke="#3c3c3c" stroke-width="0.9"/>
<line x1="712.8" y1="327.5" x2="761.4" y2="327.5" stroke="#666" stroke-width="0.5"/>
<line x1="738.5" y1="308.6" x2="738.5" y2="442.5" stroke="#555" stroke-width="0.5"/>
<line x1="738.6" y1="308.5" x2="790" y2="308.5" stroke="#666" stroke-width="0.5"/>
<line x1="790.5" y1="283" x2="790.5" y2="442.5" stroke="#555" stroke-width="0.5"/>
<line x1="797.5" y1="334.4" x2="797.5" y2="442.5" stroke="#666" stroke-width="0.5"/>
<rect x="761.4" y="343.8" width="4.9" height="95" fill="#fff" stroke="#555" stroke-width="0.7" rx="2"/>
<line x1="763.5" y1="346" x2="763.5" y2="436.5" stroke="#888" stroke-width="0.5"/>
<line x1="712.8" y1="362.5" x2="738.6" y2="344.5" stroke="#3c3c3c" stroke-width="0.6"/>
<line x1="789.5" y1="320" x2="789.5" y2="434" stroke="#555" stroke-width="0.5"/>
<path d="M789.5 437 L787.5 430.5 L791.5 430.5 Z" fill="#222" stroke="none" stroke-width="0" stroke-linejoin="miter" />
<text transform="translate(735.5 385) rotate(-90) scale(0.9 1)" font-family="'Liberation Sans', sans-serif" font-size="5.4" fill="#777" text-anchor="middle" >Пот. 16.47</text>
<text transform="translate(787.5 390) rotate(-90) scale(0.9 1)" font-family="'Liberation Sans', sans-serif" font-size="5.4" fill="#666" text-anchor="middle" >16ст. 16.25 x 30см</text>
<circle cx="726.3" cy="296.3" r="4.3" fill="#fff" stroke="#111" stroke-width="0.7" />
<path d="M726.3 296.3 L726.3 292 A4.3 4.3 0 0 1 730.6 296.3 Z" fill="#111" stroke="none" stroke-width="0" />
<path d="M726.3 296.3 L726.3 300.6 A4.3 4.3 0 0 1 722 296.3 Z" fill="#111" stroke="none" stroke-width="0" />
<text transform="translate(740 293) scale(0.85 1)" font-family="'Liberation Sans', sans-serif" font-size="8.2" fill="#222" text-anchor="middle" >1.21</text>
<circle cx="722.3" cy="465" r="4.3" fill="#fff" stroke="#111" stroke-width="0.7" />
<path d="M722.3 465 L722.3 460.7 A4.3 4.3 0 0 1 726.6 465 Z" fill="#111" stroke="none" stroke-width="0" />
<path d="M722.3 465 L722.3 469.3 A4.3 4.3 0 0 1 718 465 Z" fill="#111" stroke="none" stroke-width="0" />
<text transform="translate(736.3 461.5) scale(0.85 1)" font-family="'Liberation Sans', sans-serif" font-size="8.2" fill="#222" text-anchor="middle" >2.67</text>
<line x1="730" y1="296.5" x2="755" y2="296.5" stroke="#333" stroke-width="0.6"/>
<path d="M284.2 303.9 L348.8 303.9 L348.8 314.5 L294.8 314.5 L294.8 330 L284.2 330 Z" fill="url(#hat)" stroke="#1e1e1e" stroke-width="1.1" stroke-linejoin="miter" />
<rect x="348.8" y="303.9" width="148.6" height="10.6" fill="#fff" stroke="#1e1e1e" stroke-width="1.0" />
<rect x="284.2" y="330" width="10.6" height="17" fill="#fff" stroke="#1e1e1e" stroke-width="1.0" />
<rect x="284.2" y="347" width="10.6" height="85.5" fill="#fff" stroke="#555" stroke-width="0.6" />
<line x1="288.5" y1="347" x2="288.5" y2="432.5" stroke="#777" stroke-width="0.5"/>
<line x1="290.5" y1="347" x2="290.5" y2="432.5" stroke="#777" stroke-width="0.5"/>
<line x1="284.2" y1="389.5" x2="294.8" y2="389.5" stroke="#777" stroke-width="0.5"/>
<rect x="275.5" y="347" width="8.7" height="54" fill="none" stroke="#999" stroke-width="0.5" />
<rect x="284.2" y="432.5" width="10.6" height="10" fill="#fff" stroke="#1e1e1e" stroke-width="1.0" />
<rect x="284.2" y="442.5" width="35.8" height="10.6" fill="url(#hat)" stroke="#1e1e1e" stroke-width="1.1" />
<rect x="320" y="448" width="168.75" height="5.1" fill="#fff" stroke="#1e1e1e" stroke-width="0.9" />
<rect x="488.75" y="442.5" width="18.75" height="10.6" fill="url(#hat)" stroke="#1e1e1e" stroke-width="1.1" />
<rect x="497.4" y="272" width="10.1" height="33" fill="#fff" stroke="#1e1e1e" stroke-width="1.0" />
<rect x="497.4" y="305" width="10.1" height="62.5" fill="url(#hat)" stroke="#1e1e1e" stroke-width="1.1" />
<path d="M497.4 367.5 L507.5 367.5 L507.5 394.4 L515.6 394.4 L515.6 399.4 L507.3 399.4 L507.3 403 L497.4 403 Z" fill="#fff" stroke="#1e1e1e" stroke-width="1.0" stroke-linejoin="miter" />
<rect x="497.4" y="272" width="63.9" height="10.7" fill="#fff" stroke="#1e1e1e" stroke-width="1.0" />
<rect x="561.3" y="272" width="96.2" height="10.7" fill="#fff" stroke="#555" stroke-width="0.6" />
<line x1="561.3" y1="276.5" x2="657.5" y2="276.5" stroke="#777" stroke-width="0.5"/>
<line x1="561.3" y1="278.5" x2="657.5" y2="278.5" stroke="#777" stroke-width="0.5"/>
<line x1="609.5" y1="272" x2="609.5" y2="282.7" stroke="#777" stroke-width="0.5"/>
<rect x="657.5" y="272" width="45" height="10.7" fill="#fff" stroke="#1e1e1e" stroke-width="1.0" />
<rect x="702.5" y="272" width="10.3" height="64.3" fill="url(#hat)" stroke="#1e1e1e" stroke-width="1.1" />
<rect x="702.5" y="336.3" width="10.3" height="106.2" fill="#fff" stroke="#1e1e1e" stroke-width="1.0" />
<rect x="702.5" y="442.5" width="10.3" height="11.3" fill="url(#hat)" stroke="#1e1e1e" stroke-width="1.1" />
<rect x="712.8" y="272" width="12.8" height="10.7" fill="#fff" stroke="#1e1e1e" stroke-width="1.0" />
<rect x="725.6" y="272.3" width="60.4" height="5" fill="#fff" stroke="#555" stroke-width="0.6" />
<line x1="725.6" y1="274.5" x2="786" y2="274.5" stroke="#777" stroke-width="0.5"/>
<rect x="786" y="272" width="4.3" height="10.7" fill="#fff" stroke="#1e1e1e" stroke-width="1.0" />
<line x1="790.3" y1="272.5" x2="812" y2="272.5" stroke="#1e1e1e" stroke-width="1.0"/>
<rect x="791.25" y="244.9" width="18.15" height="22.6" fill="#fff" stroke="#444" stroke-width="0.7" />
<rect x="796.25" y="249.25" width="13.15" height="17.15" fill="#fff" stroke="#1e1e1e" stroke-width="1.7" />
<rect x="815.2" y="244.5" width="10.6" height="25.5" fill="url(#hat)" stroke="#1e1e1e" stroke-width="1.1" />
<rect x="815.2" y="270" width="10.6" height="172.5" fill="#fff" stroke="#1e1e1e" stroke-width="1.0" />
<rect x="815.2" y="442.5" width="10.6" height="11.3" fill="url(#hat)" stroke="#1e1e1e" stroke-width="1.1" />
<rect x="825.8" y="244.5" width="106.7" height="10.5" fill="#fff" stroke="#1e1e1e" stroke-width="1.0" />
<rect x="932.5" y="244.5" width="63.8" height="10.5" fill="#fff" stroke="#555" stroke-width="0.6" />
<line x1="932.5" y1="248.5" x2="996.3" y2="248.5" stroke="#777" stroke-width="0.5"/>
<line x1="932.5" y1="250.5" x2="996.3" y2="250.5" stroke="#777" stroke-width="0.5"/>
<line x1="964.5" y1="244.5" x2="964.5" y2="255" stroke="#777" stroke-width="0.5"/>
<rect x="996.3" y="244.5" width="13" height="10.5" fill="#fff" stroke="#1e1e1e" stroke-width="1.0" />
<rect x="1009.3" y="244.5" width="19.5" height="10.5" fill="url(#hat)" stroke="#1e1e1e" stroke-width="1.1" />
<rect x="1028.8" y="244.5" width="87.5" height="10.5" fill="#fff" stroke="#1e1e1e" stroke-width="1.0" />
<path d="M1116.3 244.5 L1179.5 244.5 L1179.5 270 L1169.5 270 L1169.5 255 L1116.3 255 Z" fill="url(#hat)" stroke="#1e1e1e" stroke-width="1.1" stroke-linejoin="miter" />
<rect x="1169.5" y="270" width="10" height="12.5" fill="#fff" stroke="#1e1e1e" stroke-width="1.0" />
<rect x="1169.5" y="282.5" width="10" height="96.3" fill="#fff" stroke="#555" stroke-width="0.6" />
<line x1="1173.5" y1="282.5" x2="1173.5" y2="378.8" stroke="#777" stroke-width="0.5"/>
<line x1="1175.5" y1="282.5" x2="1175.5" y2="378.8" stroke="#777" stroke-width="0.5"/>
<line x1="1169.5" y1="330.5" x2="1179.5" y2="330.5" stroke="#777" stroke-width="0.5"/>
<path d="M1165 378.8 L1184 378.8 L1184 402 L1165 402 Z" fill="#fff" stroke="#1e1e1e" stroke-width="0.8" stroke-linejoin="miter" />
<rect x="1169.5" y="378.8" width="10" height="18.7" fill="url(#hat)" stroke="#1e1e1e" stroke-width="1.1" />
<rect x="893.8" y="394.5" width="115.5" height="5" fill="#fff" stroke="#1e1e1e" stroke-width="0.9" />
<rect x="1009.3" y="387.5" width="93.2" height="10" fill="url(#hat)" stroke="#1e1e1e" stroke-width="1.1" />
<path d="M1102.5 387.5 L1133.8 387.5 L1133.8 418.8 L1116.3 418.8 L1116.3 397.5 L1102.5 397.5 Z" fill="#fff" stroke="#1e1e1e" stroke-width="1.0" stroke-linejoin="miter" />
<rect x="1128.8" y="397.5" width="5" height="21.3" fill="url(#hat)" stroke="#1e1e1e" stroke-width="1.1" />
<rect x="1119.5" y="418.8" width="10" height="96.2" fill="#fff" stroke="#555" stroke-width="0.6" />
<line x1="1123.5" y1="418.8" x2="1123.5" y2="515" stroke="#777" stroke-width="0.5"/>
<line x1="1126.5" y1="418.8" x2="1126.5" y2="515" stroke="#777" stroke-width="0.5"/>
<line x1="1119.5" y1="452.5" x2="1129.5" y2="452.5" stroke="#777" stroke-width="0.5"/>
<rect x="890" y="525" width="51.3" height="11.3" fill="#fff" stroke="#1e1e1e" stroke-width="0.9" />
<rect x="941.3" y="525.75" width="68.2" height="10.5" fill="#fff" stroke="#1e1e1e" stroke-width="1.0" />
<rect x="1009.5" y="525.75" width="35.5" height="10.5" fill="url(#hat)" stroke="#1e1e1e" stroke-width="1.1" />
<path d="M1045 525.75 L1117.5 525.75 L1117.5 515 L1133.75 515 L1133.75 536.25 L1045 536.25 Z" fill="#fff" stroke="#1e1e1e" stroke-width="1.0" stroke-linejoin="miter" />
<line x1="1125.5" y1="515" x2="1125.5" y2="525.75" stroke="#1e1e1e" stroke-width="0.8"/>
<rect x="1133.75" y="527" width="35" height="4.5" fill="#fff" stroke="#666" stroke-width="0.5" />
<path d="M1165 521.5 L1184 521.5 L1184 546.3 L1165 546.3 Z" fill="#fff" stroke="#1e1e1e" stroke-width="0.8" stroke-linejoin="miter" />
<rect x="1168.75" y="525.75" width="10.75" height="20.55" fill="url(#hat)" stroke="#1e1e1e" stroke-width="1.1" />
<rect x="1168.75" y="546.3" width="10.75" height="87.45" fill="#fff" stroke="#555" stroke-width="0.6" />
<line x1="1172.5" y1="546.3" x2="1172.5" y2="633.75" stroke="#777" stroke-width="0.5"/>
<line x1="1175.5" y1="546.3" x2="1175.5" y2="633.75" stroke="#777" stroke-width="0.5"/>
<line x1="1168.75" y1="590.5" x2="1179.5" y2="590.5" stroke="#777" stroke-width="0.5"/>
<rect x="1168.75" y="633.75" width="10.75" height="15" fill="#fff" stroke="#1e1e1e" stroke-width="1.0" />
<path d="M1168.75 648.75 L1179.5 648.75 L1179.5 675 L1115.5 675 L1115.5 663.75 L1168.75 663.75 Z" fill="url(#hat)" stroke="#1e1e1e" stroke-width="1.1" stroke-linejoin="miter" />
<rect x="825.6" y="663.75" width="74.4" height="11.25" fill="#fff" stroke="#1e1e1e" stroke-width="1.0" />
<rect x="900" y="663.75" width="26" height="11.25" fill="#fff" stroke="#555" stroke-width="0.6" />
<line x1="900" y1="668.5" x2="926" y2="668.5" stroke="#777" stroke-width="0.5"/>
<line x1="900" y1="670.5" x2="926" y2="670.5" stroke="#777" stroke-width="0.5"/>
<line x1="913.5" y1="663.75" x2="913.5" y2="675" stroke="#777" stroke-width="0.5"/>
<rect x="926" y="663.75" width="83.5" height="11.25" fill="#fff" stroke="#1e1e1e" stroke-width="1.0" />
<rect x="1009.5" y="663.75" width="19.25" height="11.25" fill="url(#hat)" stroke="#1e1e1e" stroke-width="1.1" />
<rect x="1028.75" y="663.75" width="86.75" height="11.25" fill="#fff" stroke="#1e1e1e" stroke-width="1.0" />
<rect x="815.3" y="589.4" width="10.5" height="66.2" fill="#fff" stroke="#1e1e1e" stroke-width="1.0" />
<rect x="815.3" y="655.6" width="10.5" height="20" fill="url(#hat)" stroke="#1e1e1e" stroke-width="1.1" />
<rect x="815.3" y="675.6" width="10.5" height="20.4" fill="#fff" stroke="#1e1e1e" stroke-width="1.0" />
<rect x="817.5" y="727" width="7" height="33" fill="#fff" stroke="#666" stroke-width="0.5" />
<line x1="821.5" y1="727" x2="821.5" y2="760" stroke="#777" stroke-width="0.5"/>
<rect x="815.3" y="760" width="10.5" height="32.5" fill="#fff" stroke="#1e1e1e" stroke-width="1.0" />
<path d="M366.25 776 L376.3 776 L376.3 792.5 L430 792.5 L430 802.8 L366.25 802.8 Z" fill="url(#hat)" stroke="#1e1e1e" stroke-width="1.1" stroke-linejoin="miter" />
<rect x="430" y="792.3" width="67" height="10.5" fill="#fff" stroke="#1e1e1e" stroke-width="1.0" />
<rect x="497" y="792.3" width="19.25" height="10.5" fill="url(#hat)" stroke="#1e1e1e" stroke-width="1.1" />
<rect x="516.25" y="792.3" width="215" height="10.5" fill="#fff" stroke="#1e1e1e" stroke-width="1.0" />
<rect x="731.25" y="792.3" width="94.55" height="10.5" fill="url(#hat)" stroke="#1e1e1e" stroke-width="1.1" />
<rect x="365.6" y="611" width="10.7" height="24" fill="#fff" stroke="#1e1e1e" stroke-width="1.0" />
<rect x="367.5" y="661" width="7" height="99" fill="#fff" stroke="#666" stroke-width="0.5" />
<line x1="371.5" y1="661" x2="371.5" y2="760" stroke="#777" stroke-width="0.5"/>
<line x1="367.5" y1="710.5" x2="374.5" y2="710.5" stroke="#777" stroke-width="0.5"/>
<rect x="365.6" y="760" width="10.7" height="16" fill="#fff" stroke="#1e1e1e" stroke-width="1.0" />
<rect x="232.5" y="600.3" width="51.25" height="10.7" fill="#fff" stroke="#1e1e1e" stroke-width="1.0" />
<rect x="283.75" y="600.3" width="92.5" height="10.7" fill="url(#hat)" stroke="#1e1e1e" stroke-width="1.1" />
<rect x="376.25" y="600.3" width="112.5" height="10.7" fill="#fff" stroke="#1e1e1e" stroke-width="1.0" />
<rect x="488.75" y="600.3" width="18.75" height="10.7" fill="url(#hat)" stroke="#1e1e1e" stroke-width="1.1" />
<path d="M507.5 600.3 L693.75 600.3 L693.75 611 L633 611 L633 614 L622.5 614 L622.5 611 L507.5 611 Z" fill="#fff" stroke="#1e1e1e" stroke-width="1.0" stroke-linejoin="miter" />
<path d="M232.5 442.5 L247.5 442.5 L247.5 453 L243.75 453 L243.75 477.5 L232.5 477.5 Z" fill="#fff" stroke="#1e1e1e" stroke-width="1.0" stroke-linejoin="miter" />
<rect x="232.5" y="477.5" width="11.25" height="97.5" fill="#fff" stroke="#555" stroke-width="0.6" />
<line x1="236.5" y1="477.5" x2="236.5" y2="575" stroke="#777" stroke-width="0.5"/>
<line x1="239.5" y1="477.5" x2="239.5" y2="575" stroke="#777" stroke-width="0.5"/>
<line x1="232.5" y1="526.5" x2="243.75" y2="526.5" stroke="#777" stroke-width="0.5"/>
<rect x="232.5" y="575" width="11.25" height="25.3" fill="#fff" stroke="#1e1e1e" stroke-width="1.0" />
<rect x="247.5" y="445.5" width="36.7" height="4.5" fill="#fff" stroke="#666" stroke-width="0.5" />
<path d="M550.6 394.4 L588 394.4 L588 442.5 L702.5 442.5 L702.5 447.5 L583 447.5 L583 399.4 L550.6 399.4 Z" fill="#fff" stroke="#1e1e1e" stroke-width="0.9" stroke-linejoin="miter" />
<path d="M502.5 495 L507.3 495 L507.3 504.4 L693.75 504.4 L693.75 509.4 L502.5 509.4 Z" fill="#fff" stroke="#1e1e1e" stroke-width="0.9" stroke-linejoin="miter" />
<line x1="502.5" y1="453.1" x2="502.5" y2="509.4" stroke="#1e1e1e" stroke-width="1.0"/>
<rect x="502.5" y="453.1" width="5" height="4.9" fill="#fff" stroke="#1e1e1e" stroke-width="0.9" />
<rect x="595" y="509.4" width="10" height="90.9" fill="#fff" stroke="#1e1e1e" stroke-width="0.8" />
<path d="M682.5 498 L693.75 498 L693.75 579.4 L697.5 579.4 L697.5 589.4 L693.75 589.4 L693.75 600.3 L682.5 600.3 Z" fill="#fff" stroke="#1e1e1e" stroke-width="0.9" stroke-linejoin="miter" />
<line x1="682.5" y1="453.8" x2="682.5" y2="498" stroke="#1e1e1e" stroke-width="1.0"/>
<rect x="735" y="579.4" width="5.25" height="10" fill="#fff" stroke="#1e1e1e" stroke-width="0.8" />
<path d="M740.25 504.4 L750.25 504.4 L750.25 579.4 L815.6 579.4 L815.6 504.4 L825.6 504.4 L825.6 589.4 L740.25 589.4 Z" fill="url(#hat)" stroke="#1e1e1e" stroke-width="1.1" stroke-linejoin="miter" />
<rect x="750.25" y="504.4" width="7.25" height="4.6" fill="#fff" stroke="#1e1e1e" stroke-width="0.8" />
<rect x="808" y="504.4" width="7.6" height="4.6" fill="#fff" stroke="#1e1e1e" stroke-width="0.8" />
<rect x="757.5" y="509" width="52.5" height="4" fill="#fff" stroke="#555" stroke-width="0.6" />
<line x1="757.5" y1="511.5" x2="810" y2="511.5" stroke="#333" stroke-width="1.0"/>
<rect x="761.25" y="513" width="48.75" height="59" fill="none" stroke="#5a5a5a" stroke-width="1.6" />
<rect x="622.5" y="651.25" width="11.25" height="141.25" fill="#fff" stroke="#1e1e1e" stroke-width="1.0" />
<rect x="613.75" y="651.25" width="8.75" height="13.15" fill="#fff" stroke="#1e1e1e" stroke-width="1.3" />
<circle cx="619.5" cy="658" r="2.2" fill="none" stroke="#333" stroke-width="0.7" />
<path d="M682.5 660.6 L698 660.6 L698 665.6 L687.5 665.6 L687.5 691.25 L633.75 691.25 L633.75 686.25 L682.5 686.25 Z" fill="#fff" stroke="#1e1e1e" stroke-width="0.9" stroke-linejoin="miter" />
<rect x="740.4" y="589.4" width="5.2" height="36.6" fill="#fff" stroke="#1e1e1e" stroke-width="0.9" />
<path d="M731.25 660.6 L741.25 660.6 L741.25 655 L745.6 655 L745.6 660.6 L815.3 660.6 L815.3 665.6 L731.25 665.6 Z" fill="#fff" stroke="#1e1e1e" stroke-width="0.9" stroke-linejoin="miter" />
<rect x="890" y="399.5" width="4.4" height="125.5" fill="#fff" stroke="#1e1e1e" stroke-width="0.9" />
<rect x="825.6" y="579.4" width="75" height="5" fill="#fff" stroke="#1e1e1e" stroke-width="0.9" />
<path d="M937.5 574 L942 574 L942 663.75 L937.5 663.75 L937.5 584.4 L930.6 584.4 L930.6 579.4 L937.5 579.4 Z" fill="#fff" stroke="#1e1e1e" stroke-width="0.9" stroke-linejoin="miter" />
<rect x="937.5" y="536.25" width="4.5" height="4.75" fill="#fff" stroke="#1e1e1e" stroke-width="0.9" />
<rect x="475.75" y="587.5" width="20.5" height="12" fill="#fff" stroke="#222" stroke-width="1.4" />
<line x1="486.5" y1="587.5" x2="486.5" y2="599.5" stroke="#222" stroke-width="1.0"/>
<line x1="477" y1="598" x2="485" y2="589" stroke="#555" stroke-width="0.6"/>
<line x1="487" y1="598" x2="495" y2="589" stroke="#555" stroke-width="0.6"/>
<rect x="598.5" y="776.5" width="23" height="15" fill="#fff" stroke="#444" stroke-width="0.9" />
<line x1="606.5" y1="776.5" x2="606.5" y2="791.5" stroke="#444" stroke-width="0.8"/>
<circle cx="608" cy="235" r="7.5" fill="none" stroke="#555" stroke-width="0.6" />
<text transform="translate(610.7 235) rotate(-90) scale(0.8 1)" font-family="'Liberation Sans', sans-serif" font-size="7.6" fill="#555" text-anchor="middle" >П02</text>
<line x1="608.5" y1="242.5" x2="608.5" y2="283" stroke="#666" stroke-width="0.5"/>
<text transform="translate(604 261) rotate(-90) scale(0.78 1)" font-family="'Liberation Sans', sans-serif" font-size="7.6" fill="#555" text-anchor="middle" >225</text>
<text transform="translate(613.5 261) rotate(-90) scale(0.78 1)" font-family="'Liberation Sans', sans-serif" font-size="7.6" fill="#555" text-anchor="middle" >140</text>
<circle cx="763.3" cy="235" r="7.5" fill="none" stroke="#555" stroke-width="0.6" />
<text transform="translate(766 235) rotate(-90) scale(0.8 1)" font-family="'Liberation Sans', sans-serif" font-size="7.6" fill="#555" text-anchor="middle" >П13</text>
<line x1="763.5" y1="242.5" x2="763.5" y2="277" stroke="#666" stroke-width="0.5"/>
<text transform="translate(759.5 261) rotate(-90) scale(0.78 1)" font-family="'Liberation Sans', sans-serif" font-size="7.6" fill="#555" text-anchor="middle" >150</text>
<text transform="translate(769 261) rotate(-90) scale(0.78 1)" font-family="'Liberation Sans', sans-serif" font-size="7.6" fill="#555" text-anchor="middle" >140</text>
<circle cx="964.3" cy="208" r="7.5" fill="none" stroke="#555" stroke-width="0.6" />
<text transform="translate(967 208) rotate(-90) scale(0.8 1)" font-family="'Liberation Sans', sans-serif" font-size="7.6" fill="#555" text-anchor="middle" >П13</text>
<line x1="964.5" y1="215.5" x2="964.5" y2="255" stroke="#666" stroke-width="0.5"/>
<text transform="translate(960.5 233) rotate(-90) scale(0.78 1)" font-family="'Liberation Sans', sans-serif" font-size="7.6" fill="#555" text-anchor="middle" >150</text>
<text transform="translate(970 233) rotate(-90) scale(0.78 1)" font-family="'Liberation Sans', sans-serif" font-size="7.6" fill="#555" text-anchor="middle" >140</text>
<circle cx="195" cy="525.5" r="7.5" fill="none" stroke="#555" stroke-width="0.6" />
<text transform="translate(195 528.2) scale(0.8 1)" font-family="'Liberation Sans', sans-serif" font-size="7.6" fill="#555" text-anchor="middle" >П02</text>
<line x1="202.5" y1="525.5" x2="243.75" y2="525.5" stroke="#666" stroke-width="0.5"/>
<text transform="translate(220 522.5) scale(0.78 1)" font-family="'Liberation Sans', sans-serif" font-size="7.6" fill="#555" text-anchor="middle" >225</text>
<text transform="translate(220 532.3) scale(0.78 1)" font-family="'Liberation Sans', sans-serif" font-size="7.6" fill="#555" text-anchor="middle" >140</text>
<circle cx="249.5" cy="371.8" r="7.5" fill="none" stroke="#555" stroke-width="0.6" />
<text transform="translate(249.5 374.5) scale(0.8 1)" font-family="'Liberation Sans', sans-serif" font-size="7.6" fill="#555" text-anchor="middle" >П06</text>
<line x1="257" y1="371.5" x2="294.8" y2="371.5" stroke="#666" stroke-width="0.5"/>
<text transform="translate(275 368.8) scale(0.78 1)" font-family="'Liberation Sans', sans-serif" font-size="7.6" fill="#555" text-anchor="middle" >200</text>
<text transform="translate(275 378.6) scale(0.78 1)" font-family="'Liberation Sans', sans-serif" font-size="7.6" fill="#555" text-anchor="middle" >140</text>
<circle cx="262" cy="408" r="7.5" fill="none" stroke="#555" stroke-width="0.6" />
<text transform="translate(264.7 408) rotate(-90) scale(0.8 1)" font-family="'Liberation Sans', sans-serif" font-size="7.6" fill="#555" text-anchor="middle" >П05</text>
<line x1="262.5" y1="415.5" x2="262.5" y2="453" stroke="#666" stroke-width="0.5"/>
<text transform="translate(258.8 433.8) rotate(-90) scale(0.78 1)" font-family="'Liberation Sans', sans-serif" font-size="7.6" fill="#555" text-anchor="middle" >75</text>
<text transform="translate(269.5 433.8) rotate(-90) scale(0.78 1)" font-family="'Liberation Sans', sans-serif" font-size="7.6" fill="#555" text-anchor="middle" >230</text>
<circle cx="328.8" cy="706.3" r="7.5" fill="none" stroke="#555" stroke-width="0.6" />
<text transform="translate(328.8 709) scale(0.8 1)" font-family="'Liberation Sans', sans-serif" font-size="7.6" fill="#555" text-anchor="middle" >П01</text>
<line x1="336.3" y1="706.5" x2="376.3" y2="706.5" stroke="#666" stroke-width="0.5"/>
<text transform="translate(354.5 703.3) scale(0.78 1)" font-family="'Liberation Sans', sans-serif" font-size="7.6" fill="#555" text-anchor="middle" >300</text>
<text transform="translate(354.5 713) scale(0.78 1)" font-family="'Liberation Sans', sans-serif" font-size="7.6" fill="#555" text-anchor="middle" >140</text>
<circle cx="1209.5" cy="331.3" r="7.5" fill="none" stroke="#555" stroke-width="0.6" />
<text transform="translate(1209.5 334) scale(0.8 1)" font-family="'Liberation Sans', sans-serif" font-size="7.6" fill="#555" text-anchor="middle" >П02</text>
<line x1="1179.5" y1="331.5" x2="1202" y2="331.5" stroke="#666" stroke-width="0.5"/>
<text transform="translate(1195.5 328.8) scale(0.78 1)" font-family="'Liberation Sans', sans-serif" font-size="7.4" fill="#555" text-anchor="middle" >225</text>
<text transform="translate(1195.5 338) scale(0.78 1)" font-family="'Liberation Sans', sans-serif" font-size="7.4" fill="#555" text-anchor="middle" >140</text>
<circle cx="1209.5" cy="589.5" r="7.5" fill="none" stroke="#555" stroke-width="0.6" />
<text transform="translate(1209.5 592.2) scale(0.8 1)" font-family="'Liberation Sans', sans-serif" font-size="7.6" fill="#555" text-anchor="middle" >П03</text>
<line x1="1179.5" y1="589.5" x2="1202" y2="589.5" stroke="#666" stroke-width="0.5"/>
<text transform="translate(1195 586.8) scale(0.78 1)" font-family="'Liberation Sans', sans-serif" font-size="7.4" fill="#555" text-anchor="middle" >205</text>
<text transform="translate(1195 596) scale(0.78 1)" font-family="'Liberation Sans', sans-serif" font-size="7.4" fill="#555" text-anchor="middle" >140</text>
<circle cx="1144.3" cy="423.8" r="7.5" fill="none" stroke="#555" stroke-width="0.6" />
<text transform="translate(1147 423.8) rotate(-90) scale(0.8 1)" font-family="'Liberation Sans', sans-serif" font-size="7.6" fill="#555" text-anchor="middle" >П05</text>
<line x1="1144.5" y1="431.3" x2="1144.5" y2="455" stroke="#666" stroke-width="0.5"/>
<text transform="translate(1138.5 408) rotate(-90) scale(0.78 1)" font-family="'Liberation Sans', sans-serif" font-size="6" fill="#555" text-anchor="middle" >75</text>
<text transform="translate(1149 408) rotate(-90) scale(0.78 1)" font-family="'Liberation Sans', sans-serif" font-size="6" fill="#555" text-anchor="middle" >230</text>
<circle cx="1153.3" cy="447" r="7.5" fill="none" stroke="#555" stroke-width="0.6" />
<text transform="translate(1153.3 449.7) scale(0.8 1)" font-family="'Liberation Sans', sans-serif" font-size="7.6" fill="#555" text-anchor="middle" >П04</text>
<line x1="1129.5" y1="447.5" x2="1145.8" y2="447.5" stroke="#666" stroke-width="0.5"/>
<text transform="translate(1140.8 445) scale(0.78 1)" font-family="'Liberation Sans', sans-serif" font-size="7.4" fill="#555" text-anchor="middle" >225</text>
<text transform="translate(1140.8 453.5) scale(0.78 1)" font-family="'Liberation Sans', sans-serif" font-size="7.4" fill="#555" text-anchor="middle" >140</text>
<circle cx="1142" cy="487.5" r="7.5" fill="none" stroke="#555" stroke-width="0.6" />
<text transform="translate(1144.7 487.5) rotate(-90) scale(0.8 1)" font-family="'Liberation Sans', sans-serif" font-size="7.6" fill="#555" text-anchor="middle" >П06</text>
<circle cx="850" cy="737" r="7.5" fill="none" stroke="#555" stroke-width="0.6" />
<text transform="translate(850 739.7) scale(0.8 1)" font-family="'Liberation Sans', sans-serif" font-size="7.6" fill="#555" text-anchor="middle" >П09</text>
<line x1="825.8" y1="737.5" x2="842.5" y2="737.5" stroke="#666" stroke-width="0.5"/>
<text transform="translate(837 734.5) scale(0.78 1)" font-family="'Liberation Sans', sans-serif" font-size="7.4" fill="#555" text-anchor="middle" >150</text>
<text transform="translate(837 743.3) scale(0.78 1)" font-family="'Liberation Sans', sans-serif" font-size="7.4" fill="#555" text-anchor="middle" >140</text>
<circle cx="912.5" cy="705" r="7.5" fill="none" stroke="#555" stroke-width="0.6" />
<text transform="translate(915.2 705) rotate(-90) scale(0.8 1)" font-family="'Liberation Sans', sans-serif" font-size="7.6" fill="#555" text-anchor="middle" >П07</text>
<line x1="912.5" y1="675" x2="912.5" y2="697.5" stroke="#666" stroke-width="0.5"/>
<text transform="translate(909.5 690.5) rotate(-90) scale(0.78 1)" font-family="'Liberation Sans', sans-serif" font-size="6.4" fill="#555" text-anchor="middle" >60</text>
<text transform="translate(918.5 690.5) rotate(-90) scale(0.78 1)" font-family="'Liberation Sans', sans-serif" font-size="6.4" fill="#555" text-anchor="middle" >60</text>
<circle cx="490" cy="296.3" r="2.4" fill="none" stroke="#7fd8c6" stroke-width="0.8" />
<circle cx="718.5" cy="264.8" r="2.4" fill="none" stroke="#7fd8c6" stroke-width="0.8" />
<circle cx="1137" cy="235.5" r="2.4" fill="none" stroke="#7fd8c6" stroke-width="0.8" />
<circle cx="1188" cy="390.8" r="2.4" fill="none" stroke="#7fd8c6" stroke-width="0.8" />
<circle cx="1106" cy="683" r="2.4" fill="none" stroke="#7fd8c6" stroke-width="0.8" />
<circle cx="834" cy="777" r="2.4" fill="none" stroke="#7fd8c6" stroke-width="0.8" />
<circle cx="357.5" cy="777" r="2.4" fill="none" stroke="#7fd8c6" stroke-width="0.8" />
<circle cx="287.5" cy="620" r="2.4" fill="none" stroke="#7fd8c6" stroke-width="0.8" />
<circle cx="356.5" cy="619.5" r="2.4" fill="none" stroke="#7fd8c6" stroke-width="0.8" />
<circle cx="275" cy="317.5" r="2.4" fill="none" stroke="#7fd8c6" stroke-width="0.8" />
<circle cx="833" cy="685.5" r="2.4" fill="none" stroke="#7fd8c6" stroke-width="0.8" />
<circle cx="1183" cy="527" r="2.4" fill="none" stroke="#7fd8c6" stroke-width="0.8" />
<line x1="289.5" y1="141" x2="289.5" y2="881" stroke="#b06060" stroke-width="0.6" stroke-dasharray="9 2 1.5 2"/>
<circle cx="289.5" cy="130" r="11" fill="#fff" stroke="#b8403a" stroke-width="0.8" />
<text transform="translate(289.5 134.6) scale(0.95 1)" font-family="'Liberation Sans', sans-serif" font-size="13" fill="#c0302a" text-anchor="middle" >1</text>
<circle cx="289.5" cy="892.5" r="11" fill="#fff" stroke="#b8403a" stroke-width="0.8" />
<text transform="translate(289.5 897.1) scale(0.95 1)" font-family="'Liberation Sans', sans-serif" font-size="13" fill="#c0302a" text-anchor="middle" >1</text>
<line x1="502.5" y1="141" x2="502.5" y2="881" stroke="#b06060" stroke-width="0.6" stroke-dasharray="9 2 1.5 2"/>
<circle cx="502.75" cy="130" r="11" fill="#fff" stroke="#b8403a" stroke-width="0.8" />
<text transform="translate(502.75 134.6) scale(0.95 1)" font-family="'Liberation Sans', sans-serif" font-size="13" fill="#c0302a" text-anchor="middle" >2</text>
<circle cx="502.75" cy="892.5" r="11" fill="#fff" stroke="#b8403a" stroke-width="0.8" />
<text transform="translate(502.75 897.1) scale(0.95 1)" font-family="'Liberation Sans', sans-serif" font-size="13" fill="#c0302a" text-anchor="middle" >2</text>
<line x1="707.5" y1="141" x2="707.5" y2="881" stroke="#b06060" stroke-width="0.6" stroke-dasharray="9 2 1.5 2"/>
<circle cx="707.5" cy="130" r="11" fill="#fff" stroke="#b8403a" stroke-width="0.8" />
<text transform="translate(707.5 134.6) scale(0.95 1)" font-family="'Liberation Sans', sans-serif" font-size="13" fill="#c0302a" text-anchor="middle" >3</text>
<circle cx="707.5" cy="892.5" r="11" fill="#fff" stroke="#b8403a" stroke-width="0.8" />
<text transform="translate(707.5 897.1) scale(0.95 1)" font-family="'Liberation Sans', sans-serif" font-size="13" fill="#c0302a" text-anchor="middle" >3</text>
<line x1="820.5" y1="141" x2="820.5" y2="881" stroke="#b06060" stroke-width="0.6" stroke-dasharray="9 2 1.5 2"/>
<circle cx="820.5" cy="130" r="11" fill="#fff" stroke="#b8403a" stroke-width="0.8" />
<text transform="translate(820.5 134.6) scale(0.95 1)" font-family="'Liberation Sans', sans-serif" font-size="13" fill="#c0302a" text-anchor="middle" >4</text>
<circle cx="820.5" cy="892.5" r="11" fill="#fff" stroke="#b8403a" stroke-width="0.8" />
<text transform="translate(820.5 897.1) scale(0.95 1)" font-family="'Liberation Sans', sans-serif" font-size="13" fill="#c0302a" text-anchor="middle" >4</text>
<line x1="1014.5" y1="141" x2="1014.5" y2="881" stroke="#b06060" stroke-width="0.6" stroke-dasharray="9 2 1.5 2"/>
<circle cx="1014.5" cy="130" r="11" fill="#fff" stroke="#b8403a" stroke-width="0.8" />
<text transform="translate(1014.5 134.6) scale(0.95 1)" font-family="'Liberation Sans', sans-serif" font-size="13" fill="#c0302a" text-anchor="middle" >5</text>
<circle cx="1014.5" cy="892.5" r="11" fill="#fff" stroke="#b8403a" stroke-width="0.8" />
<text transform="translate(1014.5 897.1) scale(0.95 1)" font-family="'Liberation Sans', sans-serif" font-size="13" fill="#c0302a" text-anchor="middle" >5</text>
<line x1="1174.5" y1="141" x2="1174.5" y2="881" stroke="#b06060" stroke-width="0.6" stroke-dasharray="9 2 1.5 2"/>
<circle cx="1174.5" cy="130" r="11" fill="#fff" stroke="#b8403a" stroke-width="0.8" />
<text transform="translate(1174.5 134.6) scale(0.95 1)" font-family="'Liberation Sans', sans-serif" font-size="13" fill="#c0302a" text-anchor="middle" >E</text>
<circle cx="1174.5" cy="892.5" r="11" fill="#fff" stroke="#b8403a" stroke-width="0.8" />
<text transform="translate(1174.5 897.1) scale(0.95 1)" font-family="'Liberation Sans', sans-serif" font-size="13" fill="#c0302a" text-anchor="middle" >E</text>
<circle cx="100.7" cy="277.2" r="11" fill="#fff" stroke="#b8403a" stroke-width="0.8" />
<text transform="translate(100.7 281.8) scale(0.95 1)" font-family="'Liberation Sans', sans-serif" font-size="13" fill="#c0302a" text-anchor="middle" >Д</text>
<circle cx="100.7" cy="309.2" r="11" fill="#fff" stroke="#b8403a" stroke-width="0.8" />
<text transform="translate(100.7 313.8) scale(0.95 1)" font-family="'Liberation Sans', sans-serif" font-size="13" fill="#c0302a" text-anchor="middle" >Г</text>
<circle cx="100.7" cy="447.8" r="11" fill="#fff" stroke="#b8403a" stroke-width="0.8" />
<text transform="translate(100.7 452.4) scale(0.95 1)" font-family="'Liberation Sans', sans-serif" font-size="13" fill="#c0302a" text-anchor="middle" >В</text>
<circle cx="100.7" cy="605.6" r="11" fill="#fff" stroke="#b8403a" stroke-width="0.8" />
<text transform="translate(100.7 610.2) scale(0.95 1)" font-family="'Liberation Sans', sans-serif" font-size="13" fill="#c0302a" text-anchor="middle" >Б</text>
<circle cx="100.7" cy="797.5" r="11" fill="#fff" stroke="#b8403a" stroke-width="0.8" />
<text transform="translate(100.7 802.1) scale(0.95 1)" font-family="'Liberation Sans', sans-serif" font-size="13" fill="#c0302a" text-anchor="middle" >А</text>
<circle cx="1332.5" cy="249.4" r="11" fill="#fff" stroke="#b8403a" stroke-width="0.8" />
<text transform="translate(1332.5 254) scale(0.95 1)" font-family="'Liberation Sans', sans-serif" font-size="13" fill="#c0302a" text-anchor="middle" >Д'</text>
<circle cx="1332.5" cy="392.3" r="11" fill="#fff" stroke="#b8403a" stroke-width="0.8" />
<text transform="translate(1332.5 396.9) scale(0.95 1)" font-family="'Liberation Sans', sans-serif" font-size="13" fill="#c0302a" text-anchor="middle" >Г'</text>
<circle cx="1332.5" cy="530.9" r="11" fill="#fff" stroke="#b8403a" stroke-width="0.8" />
<text transform="translate(1332.5 535.5) scale(0.95 1)" font-family="'Liberation Sans', sans-serif" font-size="13" fill="#c0302a" text-anchor="middle" >В'</text>
<circle cx="1332.5" cy="669.5" r="11" fill="#fff" stroke="#b8403a" stroke-width="0.8" />
<text transform="translate(1332.5 674.1) scale(0.95 1)" font-family="'Liberation Sans', sans-serif" font-size="13" fill="#c0302a" text-anchor="middle" >Б'</text>
<circle cx="1332.5" cy="797.5" r="11" fill="#fff" stroke="#b8403a" stroke-width="0.8" />
<text transform="translate(1332.5 802.1) scale(0.95 1)" font-family="'Liberation Sans', sans-serif" font-size="13" fill="#c0302a" text-anchor="middle" >А</text>
<line x1="112" y1="277.5" x2="726" y2="277.5" stroke="#9a8f8f" stroke-width="0.6" stroke-dasharray="14 2.5 2 2.5"/>
<line x1="112" y1="309.5" x2="724" y2="309.5" stroke="#9a8f8f" stroke-width="0.6" stroke-dasharray="14 2.5 2 2.5"/>
<line x1="112" y1="447.5" x2="724" y2="447.5" stroke="#9a8f8f" stroke-width="0.6" stroke-dasharray="14 2.5 2 2.5"/>
<line x1="112" y1="605.5" x2="724" y2="605.5" stroke="#9a8f8f" stroke-width="0.6" stroke-dasharray="14 2.5 2 2.5"/>
<line x1="112" y1="797.5" x2="1321" y2="797.5" stroke="#b08888" stroke-width="0.6" stroke-dasharray="14 2.5 2 2.5"/>
<line x1="558" y1="249.5" x2="1321" y2="249.5" stroke="#9a8f8f" stroke-width="0.6" stroke-dasharray="14 2.5 2 2.5"/>
<line x1="558" y1="392.5" x2="1321" y2="392.5" stroke="#9a8f8f" stroke-width="0.6" stroke-dasharray="14 2.5 2 2.5"/>
<line x1="558" y1="530.5" x2="1321" y2="530.5" stroke="#9a8f8f" stroke-width="0.6" stroke-dasharray="14 2.5 2 2.5"/>
<line x1="558" y1="669.5" x2="1321" y2="669.5" stroke="#9a8f8f" stroke-width="0.6" stroke-dasharray="14 2.5 2 2.5"/>
<line x1="232.5" y1="158.5" x2="1180" y2="158.5" stroke="#4a4a4a" stroke-width="0.7"/>
<line x1="230.3" y1="160.2" x2="234.7" y2="155.8" stroke="#333" stroke-width="0.8"/>
<line x1="1177.8" y1="160.2" x2="1182.2" y2="155.8" stroke="#333" stroke-width="0.8"/>
<text transform="translate(706 155.7) scale(0.78 1)" font-family="'Liberation Sans', sans-serif" font-size="8.6" fill="#1b1b4d" text-anchor="middle" >2220</text>
<line x1="232.5" y1="172.5" x2="1180" y2="172.5" stroke="#4a4a4a" stroke-width="0.7"/>
<line x1="230.3" y1="174.7" x2="234.7" y2="170.3" stroke="#333" stroke-width="0.8"/>
<line x1="287.3" y1="174.7" x2="291.7" y2="170.3" stroke="#333" stroke-width="0.8"/>
<line x1="500.55" y1="174.7" x2="504.95" y2="170.3" stroke="#333" stroke-width="0.8"/>
<line x1="705.3" y1="174.7" x2="709.7" y2="170.3" stroke="#333" stroke-width="0.8"/>
<line x1="818.3" y1="174.7" x2="822.7" y2="170.3" stroke="#333" stroke-width="0.8"/>
<line x1="1012.3" y1="174.7" x2="1016.7" y2="170.3" stroke="#333" stroke-width="0.8"/>
<line x1="1172.3" y1="174.7" x2="1176.7" y2="170.3" stroke="#333" stroke-width="0.8"/>
<line x1="1177.8" y1="174.7" x2="1182.2" y2="170.3" stroke="#333" stroke-width="0.8"/>
<text transform="translate(261 170.2) scale(0.78 1)" font-family="'Liberation Sans', sans-serif" font-size="8.6" fill="#1b1b4d" text-anchor="middle" >132.5</text>
<text transform="translate(395.5 170.2) scale(0.78 1)" font-family="'Liberation Sans', sans-serif" font-size="8.6" fill="#1b1b4d" text-anchor="middle" >500</text>
<text transform="translate(605 170.2) scale(0.78 1)" font-family="'Liberation Sans', sans-serif" font-size="8.6" fill="#1b1b4d" text-anchor="middle" >480</text>
<text transform="translate(764 170.2) scale(0.78 1)" font-family="'Liberation Sans', sans-serif" font-size="8.6" fill="#1b1b4d" text-anchor="middle" >265</text>
<text transform="translate(917.5 170.2) scale(0.78 1)" font-family="'Liberation Sans', sans-serif" font-size="8.6" fill="#1b1b4d" text-anchor="middle" >455</text>
<text transform="translate(1094.5 170.2) scale(0.78 1)" font-family="'Liberation Sans', sans-serif" font-size="8.6" fill="#1b1b4d" text-anchor="middle" >375</text>
<text transform="translate(1177.5 170.2) scale(0.78 1)" font-family="'Liberation Sans', sans-serif" font-size="8.6" fill="#1b1b4d" text-anchor="middle" >12.5</text>
<line x1="232.5" y1="187.5" x2="1180" y2="187.5" stroke="#4a4a4a" stroke-width="0.7"/>
<line x1="230.3" y1="189.7" x2="234.7" y2="185.3" stroke="#333" stroke-width="0.8"/>
<line x1="282" y1="189.7" x2="286.4" y2="185.3" stroke="#333" stroke-width="0.8"/>
<line x1="495.2" y1="189.7" x2="499.6" y2="185.3" stroke="#333" stroke-width="0.8"/>
<line x1="813" y1="189.7" x2="817.4" y2="185.3" stroke="#333" stroke-width="0.8"/>
<line x1="1177.8" y1="189.7" x2="1182.2" y2="185.3" stroke="#333" stroke-width="0.8"/>
<text transform="translate(258.3 185.2) scale(0.78 1)" font-family="'Liberation Sans', sans-serif" font-size="8.6" fill="#1b1b4d" text-anchor="middle" >120</text>
<text transform="translate(390 185.2) scale(0.78 1)" font-family="'Liberation Sans', sans-serif" font-size="8.6" fill="#1b1b4d" text-anchor="middle" >500</text>
<text transform="translate(655.8 185.2) scale(0.78 1)" font-family="'Liberation Sans', sans-serif" font-size="8.6" fill="#1b1b4d" text-anchor="middle" >745</text>
<text transform="translate(997.5 185.2) scale(0.78 1)" font-family="'Liberation Sans', sans-serif" font-size="8.6" fill="#1b1b4d" text-anchor="middle" >855</text>
<line x1="232.5" y1="202.5" x2="1180" y2="202.5" stroke="#4a4a4a" stroke-width="0.7"/>
<line x1="230.3" y1="204.7" x2="234.7" y2="200.3" stroke="#333" stroke-width="0.8"/>
<line x1="245.3" y1="204.7" x2="249.7" y2="200.3" stroke="#333" stroke-width="0.8"/>
<line x1="277.3" y1="204.7" x2="281.7" y2="200.3" stroke="#333" stroke-width="0.8"/>
<line x1="282" y1="204.7" x2="286.4" y2="200.3" stroke="#333" stroke-width="0.8"/>
<line x1="495.2" y1="204.7" x2="499.6" y2="200.3" stroke="#333" stroke-width="0.8"/>
<line x1="559.2" y1="204.7" x2="563.6" y2="200.3" stroke="#333" stroke-width="0.8"/>
<line x1="654.3" y1="204.7" x2="658.7" y2="200.3" stroke="#333" stroke-width="0.8"/>
<line x1="710.6" y1="204.7" x2="715" y2="200.3" stroke="#333" stroke-width="0.8"/>
<line x1="723.4" y1="204.7" x2="727.8" y2="200.3" stroke="#333" stroke-width="0.8"/>
<line x1="787.4" y1="204.7" x2="791.8" y2="200.3" stroke="#333" stroke-width="0.8"/>
<line x1="813" y1="204.7" x2="817.4" y2="200.3" stroke="#333" stroke-width="0.8"/>
<line x1="930.3" y1="204.7" x2="934.7" y2="200.3" stroke="#333" stroke-width="0.8"/>
<line x1="994.3" y1="204.7" x2="998.7" y2="200.3" stroke="#333" stroke-width="0.8"/>
<line x1="1177.8" y1="204.7" x2="1182.2" y2="200.3" stroke="#333" stroke-width="0.8"/>
<text transform="translate(240 200.2) scale(0.78 1)" font-family="'Liberation Sans', sans-serif" font-size="8.6" fill="#1b1b4d" text-anchor="middle" >34</text>
<text transform="translate(263.3 200.2) scale(0.78 1)" font-family="'Liberation Sans', sans-serif" font-size="8.6" fill="#1b1b4d" text-anchor="middle" >75</text>
<text transform="translate(281.8 200.2) scale(0.78 1)" font-family="'Liberation Sans', sans-serif" font-size="8.6" fill="#1b1b4d" text-anchor="middle" >11</text>
<text transform="translate(390 200.2) scale(0.78 1)" font-family="'Liberation Sans', sans-serif" font-size="8.6" fill="#1b1b4d" text-anchor="middle" >500</text>
<text transform="translate(529.3 200.2) scale(0.78 1)" font-family="'Liberation Sans', sans-serif" font-size="8.6" fill="#1b1b4d" text-anchor="middle" >150</text>
<text transform="translate(608.8 200.2) scale(0.78 1)" font-family="'Liberation Sans', sans-serif" font-size="8.6" fill="#1b1b4d" text-anchor="middle" >223</text>
<text transform="translate(684.3 200.2) scale(0.78 1)" font-family="'Liberation Sans', sans-serif" font-size="8.6" fill="#1b1b4d" text-anchor="middle" >132</text>
<text transform="translate(718.8 200.2) scale(0.78 1)" font-family="'Liberation Sans', sans-serif" font-size="8.6" fill="#1b1b4d" text-anchor="middle" >30</text>
<text transform="translate(757 200.2) scale(0.78 1)" font-family="'Liberation Sans', sans-serif" font-size="8.6" fill="#1b1b4d" text-anchor="middle" >150</text>
<text transform="translate(802 200.2) scale(0.78 1)" font-family="'Liberation Sans', sans-serif" font-size="8.6" fill="#1b1b4d" text-anchor="middle" >60</text>
<text transform="translate(873.8 200.2) scale(0.78 1)" font-family="'Liberation Sans', sans-serif" font-size="8.6" fill="#1b1b4d" text-anchor="middle" >275</text>
<text transform="translate(964.3 200.2) scale(0.78 1)" font-family="'Liberation Sans', sans-serif" font-size="8.6" fill="#1b1b4d" text-anchor="middle" >150</text>
<text transform="translate(1088 200.2) scale(0.78 1)" font-family="'Liberation Sans', sans-serif" font-size="8.6" fill="#1b1b4d" text-anchor="middle" >430</text>
<line x1="232" y1="825.5" x2="1179" y2="825.5" stroke="#4a4a4a" stroke-width="0.7"/>
<line x1="229.8" y1="828" x2="234.2" y2="823.6" stroke="#333" stroke-width="0.8"/>
<line x1="363.4" y1="828" x2="367.8" y2="823.6" stroke="#333" stroke-width="0.8"/>
<line x1="822.8" y1="828" x2="827.2" y2="823.6" stroke="#333" stroke-width="0.8"/>
<line x1="897.4" y1="828" x2="901.8" y2="823.6" stroke="#333" stroke-width="0.8"/>
<line x1="923" y1="828" x2="927.4" y2="823.6" stroke="#333" stroke-width="0.8"/>
<line x1="1176.8" y1="828" x2="1181.2" y2="823.6" stroke="#333" stroke-width="0.8"/>
<text transform="translate(299.5 823.5) scale(0.78 1)" font-family="'Liberation Sans', sans-serif" font-size="8.6" fill="#1b1b4d" text-anchor="middle" >313</text>
<text transform="translate(595 823.5) scale(0.78 1)" font-family="'Liberation Sans', sans-serif" font-size="8.6" fill="#1b1b4d" text-anchor="middle" >1077</text>
<text transform="translate(863 823.5) scale(0.78 1)" font-family="'Liberation Sans', sans-serif" font-size="8.6" fill="#1b1b4d" text-anchor="middle" >175</text>
<text transform="translate(913 823.5) scale(0.78 1)" font-family="'Liberation Sans', sans-serif" font-size="8.6" fill="#1b1b4d" text-anchor="middle" >60</text>
<text transform="translate(1052.5 823.5) scale(0.78 1)" font-family="'Liberation Sans', sans-serif" font-size="8.6" fill="#1b1b4d" text-anchor="middle" >595</text>
<line x1="232" y1="840.5" x2="1179" y2="840.5" stroke="#4a4a4a" stroke-width="0.7"/>
<line x1="229.8" y1="843" x2="234.2" y2="838.6" stroke="#333" stroke-width="0.8"/>
<line x1="363.4" y1="843" x2="367.8" y2="838.6" stroke="#333" stroke-width="0.8"/>
<line x1="822.8" y1="843" x2="827.2" y2="838.6" stroke="#333" stroke-width="0.8"/>
<line x1="1176.8" y1="843" x2="1181.2" y2="838.6" stroke="#333" stroke-width="0.8"/>
<text transform="translate(299.5 838.5) scale(0.78 1)" font-family="'Liberation Sans', sans-serif" font-size="8.6" fill="#1b1b4d" text-anchor="middle" >313</text>
<text transform="translate(595 838.5) scale(0.78 1)" font-family="'Liberation Sans', sans-serif" font-size="8.6" fill="#1b1b4d" text-anchor="middle" >1077</text>
<text transform="translate(1002.5 838.5) scale(0.78 1)" font-family="'Liberation Sans', sans-serif" font-size="8.6" fill="#1b1b4d" text-anchor="middle" >830</text>
<line x1="232" y1="855.5" x2="1179.8" y2="855.5" stroke="#4a4a4a" stroke-width="0.7"/>
<line x1="229.8" y1="858" x2="234.2" y2="853.6" stroke="#333" stroke-width="0.8"/>
<line x1="287.3" y1="858" x2="291.7" y2="853.6" stroke="#333" stroke-width="0.8"/>
<line x1="500.55" y1="858" x2="504.95" y2="853.6" stroke="#333" stroke-width="0.8"/>
<line x1="705.3" y1="858" x2="709.7" y2="853.6" stroke="#333" stroke-width="0.8"/>
<line x1="818.3" y1="858" x2="822.7" y2="853.6" stroke="#333" stroke-width="0.8"/>
<line x1="1012.3" y1="858" x2="1016.7" y2="853.6" stroke="#333" stroke-width="0.8"/>
<line x1="1172.3" y1="858" x2="1176.7" y2="853.6" stroke="#333" stroke-width="0.8"/>
<line x1="1177.6" y1="858" x2="1182" y2="853.6" stroke="#333" stroke-width="0.8"/>
<text transform="translate(261 853.5) scale(0.78 1)" font-family="'Liberation Sans', sans-serif" font-size="8.6" fill="#1b1b4d" text-anchor="middle" >132.5</text>
<text transform="translate(395.5 853.5) scale(0.78 1)" font-family="'Liberation Sans', sans-serif" font-size="8.6" fill="#1b1b4d" text-anchor="middle" >500</text>
<text transform="translate(605 853.5) scale(0.78 1)" font-family="'Liberation Sans', sans-serif" font-size="8.6" fill="#1b1b4d" text-anchor="middle" >480</text>
<text transform="translate(763.5 853.5) scale(0.78 1)" font-family="'Liberation Sans', sans-serif" font-size="8.6" fill="#1b1b4d" text-anchor="middle" >265</text>
<text transform="translate(917 853.5) scale(0.78 1)" font-family="'Liberation Sans', sans-serif" font-size="8.6" fill="#1b1b4d" text-anchor="middle" >455</text>
<text transform="translate(1094.5 853.5) scale(0.78 1)" font-family="'Liberation Sans', sans-serif" font-size="8.6" fill="#1b1b4d" text-anchor="middle" >375</text>
<text transform="translate(1177.5 853.5) scale(0.78 1)" font-family="'Liberation Sans', sans-serif" font-size="8.6" fill="#1b1b4d" text-anchor="middle" >12.5</text>
<line x1="232" y1="870.5" x2="1179.8" y2="870.5" stroke="#4a4a4a" stroke-width="0.7"/>
<line x1="229.8" y1="873" x2="234.2" y2="868.6" stroke="#333" stroke-width="0.8"/>
<line x1="1177.6" y1="873" x2="1182" y2="868.6" stroke="#333" stroke-width="0.8"/>
<text transform="translate(706 868.5) scale(0.78 1)" font-family="'Liberation Sans', sans-serif" font-size="8.6" fill="#1b1b4d" text-anchor="middle" >2220</text>
<line x1="132.5" y1="245" x2="132.5" y2="803.7" stroke="#4a4a4a" stroke-width="0.7"/>
<line x1="130.3" y1="247.2" x2="134.7" y2="242.8" stroke="#333" stroke-width="0.8"/>
<line x1="130.3" y1="805.9" x2="134.7" y2="801.5" stroke="#333" stroke-width="0.8"/>
<text transform="translate(130.1 521) rotate(-90) scale(0.78 1)" font-family="'Liberation Sans', sans-serif" font-size="8.6" fill="#1b1b4d" text-anchor="middle" >1310</text>
<line x1="147.5" y1="245" x2="147.5" y2="803.7" stroke="#4a4a4a" stroke-width="0.7"/>
<line x1="145.3" y1="247.2" x2="149.7" y2="242.8" stroke="#333" stroke-width="0.8"/>
<line x1="145.3" y1="280.2" x2="149.7" y2="275.8" stroke="#333" stroke-width="0.8"/>
<line x1="145.3" y1="450.8" x2="149.7" y2="446.4" stroke="#333" stroke-width="0.8"/>
<line x1="145.3" y1="608.6" x2="149.7" y2="604.2" stroke="#333" stroke-width="0.8"/>
<line x1="145.3" y1="800.5" x2="149.7" y2="796.1" stroke="#333" stroke-width="0.8"/>
<line x1="145.3" y1="805.9" x2="149.7" y2="801.5" stroke="#333" stroke-width="0.8"/>
<text transform="translate(145.1 260.5) rotate(-90) scale(0.78 1)" font-family="'Liberation Sans', sans-serif" font-size="8.6" fill="#1b1b4d" text-anchor="middle" >77.5</text>
<text transform="translate(145.1 363) rotate(-90) scale(0.78 1)" font-family="'Liberation Sans', sans-serif" font-size="8.6" fill="#1b1b4d" text-anchor="middle" >400</text>
<text transform="translate(145.1 527.5) rotate(-90) scale(0.78 1)" font-family="'Liberation Sans', sans-serif" font-size="8.6" fill="#1b1b4d" text-anchor="middle" >370</text>
<text transform="translate(145.1 700) rotate(-90) scale(0.78 1)" font-family="'Liberation Sans', sans-serif" font-size="8.6" fill="#1b1b4d" text-anchor="middle" >450</text>
<text transform="translate(145.1 799) rotate(-90) scale(0.78 1)" font-family="'Liberation Sans', sans-serif" font-size="8.6" fill="#1b1b4d" text-anchor="middle" >12.5</text>
<line x1="162.5" y1="245" x2="162.5" y2="803.7" stroke="#4a4a4a" stroke-width="0.7"/>
<line x1="160.3" y1="247.2" x2="164.7" y2="242.8" stroke="#333" stroke-width="0.8"/>
<line x1="160.3" y1="274.9" x2="164.7" y2="270.5" stroke="#333" stroke-width="0.8"/>
<line x1="160.3" y1="306.9" x2="164.7" y2="302.5" stroke="#333" stroke-width="0.8"/>
<line x1="160.3" y1="445.5" x2="164.7" y2="441.1" stroke="#333" stroke-width="0.8"/>
<line x1="160.3" y1="614" x2="164.7" y2="609.6" stroke="#333" stroke-width="0.8"/>
<line x1="160.3" y1="805.9" x2="164.7" y2="801.5" stroke="#333" stroke-width="0.8"/>
<text transform="translate(160.1 258) rotate(-90) scale(0.78 1)" font-family="'Liberation Sans', sans-serif" font-size="8.6" fill="#1b1b4d" text-anchor="middle" >65</text>
<text transform="translate(160.1 288) rotate(-90) scale(0.78 1)" font-family="'Liberation Sans', sans-serif" font-size="8.6" fill="#1b1b4d" text-anchor="middle" >75</text>
<text transform="translate(160.1 373.8) rotate(-90) scale(0.78 1)" font-family="'Liberation Sans', sans-serif" font-size="8.6" fill="#1b1b4d" text-anchor="middle" >325</text>
<text transform="translate(160.1 527.5) rotate(-90) scale(0.78 1)" font-family="'Liberation Sans', sans-serif" font-size="8.6" fill="#1b1b4d" text-anchor="middle" >395</text>
<text transform="translate(160.1 706) rotate(-90) scale(0.78 1)" font-family="'Liberation Sans', sans-serif" font-size="8.6" fill="#1b1b4d" text-anchor="middle" >450</text>
<line x1="177.5" y1="245" x2="177.5" y2="803.7" stroke="#4a4a4a" stroke-width="0.7"/>
<line x1="175.3" y1="247.2" x2="179.7" y2="242.8" stroke="#333" stroke-width="0.8"/>
<line x1="175.3" y1="274.9" x2="179.7" y2="270.5" stroke="#333" stroke-width="0.8"/>
<line x1="175.3" y1="306.9" x2="179.7" y2="302.5" stroke="#333" stroke-width="0.8"/>
<line x1="175.3" y1="349.5" x2="179.7" y2="345.1" stroke="#333" stroke-width="0.8"/>
<line x1="175.3" y1="434.8" x2="179.7" y2="430.4" stroke="#333" stroke-width="0.8"/>
<line x1="175.3" y1="445.5" x2="179.7" y2="441.1" stroke="#333" stroke-width="0.8"/>
<line x1="175.3" y1="481.7" x2="179.7" y2="477.3" stroke="#333" stroke-width="0.8"/>
<line x1="175.3" y1="577.7" x2="179.7" y2="573.3" stroke="#333" stroke-width="0.8"/>
<line x1="175.3" y1="613.9" x2="179.7" y2="609.5" stroke="#333" stroke-width="0.8"/>
<line x1="175.3" y1="635.2" x2="179.7" y2="630.8" stroke="#333" stroke-width="0.8"/>
<line x1="175.3" y1="763.2" x2="179.7" y2="758.8" stroke="#333" stroke-width="0.8"/>
<line x1="175.3" y1="805.9" x2="179.7" y2="801.5" stroke="#333" stroke-width="0.8"/>
<text transform="translate(175.1 258) rotate(-90) scale(0.78 1)" font-family="'Liberation Sans', sans-serif" font-size="8.6" fill="#1b1b4d" text-anchor="middle" >65</text>
<text transform="translate(175.1 288) rotate(-90) scale(0.78 1)" font-family="'Liberation Sans', sans-serif" font-size="8.6" fill="#1b1b4d" text-anchor="middle" >75</text>
<text transform="translate(175.1 325) rotate(-90) scale(0.78 1)" font-family="'Liberation Sans', sans-serif" font-size="8.6" fill="#1b1b4d" text-anchor="middle" >100</text>
<text transform="translate(175.1 390) rotate(-90) scale(0.78 1)" font-family="'Liberation Sans', sans-serif" font-size="8.6" fill="#1b1b4d" text-anchor="middle" >200</text>
<text transform="translate(175.1 437.5) rotate(-90) scale(0.78 1)" font-family="'Liberation Sans', sans-serif" font-size="8.6" fill="#1b1b4d" text-anchor="middle" >25</text>
<text transform="translate(175.1 461) rotate(-90) scale(0.78 1)" font-family="'Liberation Sans', sans-serif" font-size="8.6" fill="#1b1b4d" text-anchor="middle" >85</text>
<text transform="translate(175.1 527) rotate(-90) scale(0.78 1)" font-family="'Liberation Sans', sans-serif" font-size="8.6" fill="#1b1b4d" text-anchor="middle" >225</text>
<text transform="translate(175.1 592) rotate(-90) scale(0.78 1)" font-family="'Liberation Sans', sans-serif" font-size="8.6" fill="#1b1b4d" text-anchor="middle" >85</text>
<text transform="translate(175.1 621) rotate(-90) scale(0.78 1)" font-family="'Liberation Sans', sans-serif" font-size="8.6" fill="#1b1b4d" text-anchor="middle" >50</text>
<text transform="translate(175.1 696) rotate(-90) scale(0.78 1)" font-family="'Liberation Sans', sans-serif" font-size="8.6" fill="#1b1b4d" text-anchor="middle" >300</text>
<text transform="translate(175.1 781) rotate(-90) scale(0.78 1)" font-family="'Liberation Sans', sans-serif" font-size="8.6" fill="#1b1b4d" text-anchor="middle" >100</text>
<line x1="1263.5" y1="244" x2="1263.5" y2="802.7" stroke="#4a4a4a" stroke-width="0.7"/>
<line x1="1260.8" y1="246.2" x2="1265.2" y2="241.8" stroke="#333" stroke-width="0.8"/>
<line x1="1260.8" y1="284.2" x2="1265.2" y2="279.8" stroke="#333" stroke-width="0.8"/>
<line x1="1260.8" y1="380.2" x2="1265.2" y2="375.8" stroke="#333" stroke-width="0.8"/>
<line x1="1260.8" y1="399.8" x2="1265.2" y2="395.4" stroke="#333" stroke-width="0.8"/>
<line x1="1260.8" y1="421.1" x2="1265.2" y2="416.7" stroke="#333" stroke-width="0.8"/>
<line x1="1260.8" y1="517.1" x2="1265.2" y2="512.7" stroke="#333" stroke-width="0.8"/>
<line x1="1260.8" y1="527.7" x2="1265.2" y2="523.3" stroke="#333" stroke-width="0.8"/>
<line x1="1260.8" y1="547.2" x2="1265.2" y2="542.8" stroke="#333" stroke-width="0.8"/>
<line x1="1260.8" y1="634.8" x2="1265.2" y2="630.4" stroke="#333" stroke-width="0.8"/>
<line x1="1260.8" y1="677" x2="1265.2" y2="672.6" stroke="#333" stroke-width="0.8"/>
<line x1="1260.8" y1="698.2" x2="1265.2" y2="693.8" stroke="#333" stroke-width="0.8"/>
<line x1="1260.8" y1="762.2" x2="1265.2" y2="757.8" stroke="#333" stroke-width="0.8"/>
<line x1="1260.8" y1="804.9" x2="1265.2" y2="800.5" stroke="#333" stroke-width="0.8"/>
<text transform="translate(1260.6 264.7) rotate(-90) scale(0.78 1)" font-family="'Liberation Sans', sans-serif" font-size="8.6" fill="#1b1b4d" text-anchor="middle" >89</text>
<text transform="translate(1260.6 331) rotate(-90) scale(0.78 1)" font-family="'Liberation Sans', sans-serif" font-size="8.6" fill="#1b1b4d" text-anchor="middle" >225</text>
<text transform="translate(1260.6 387.5) rotate(-90) scale(0.78 1)" font-family="'Liberation Sans', sans-serif" font-size="8.6" fill="#1b1b4d" text-anchor="middle" >46</text>
<text transform="translate(1260.6 408) rotate(-90) scale(0.78 1)" font-family="'Liberation Sans', sans-serif" font-size="8.6" fill="#1b1b4d" text-anchor="middle" >50</text>
<text transform="translate(1260.6 465.6) rotate(-90) scale(0.78 1)" font-family="'Liberation Sans', sans-serif" font-size="8.6" fill="#1b1b4d" text-anchor="middle" >225</text>
<text transform="translate(1260.6 520) rotate(-90) scale(0.78 1)" font-family="'Liberation Sans', sans-serif" font-size="8.6" fill="#1b1b4d" text-anchor="middle" >25</text>
<text transform="translate(1260.6 535) rotate(-90) scale(0.78 1)" font-family="'Liberation Sans', sans-serif" font-size="8.6" fill="#1b1b4d" text-anchor="middle" >46</text>
<text transform="translate(1260.6 588.8) rotate(-90) scale(0.78 1)" font-family="'Liberation Sans', sans-serif" font-size="8.6" fill="#1b1b4d" text-anchor="middle" >205</text>
<text transform="translate(1260.6 654) rotate(-90) scale(0.78 1)" font-family="'Liberation Sans', sans-serif" font-size="8.6" fill="#1b1b4d" text-anchor="middle" >99</text>
<text transform="translate(1260.6 685.6) rotate(-90) scale(0.78 1)" font-family="'Liberation Sans', sans-serif" font-size="8.6" fill="#1b1b4d" text-anchor="middle" >50</text>
<text transform="translate(1260.6 728) rotate(-90) scale(0.78 1)" font-family="'Liberation Sans', sans-serif" font-size="8.6" fill="#1b1b4d" text-anchor="middle" >150</text>
<text transform="translate(1260.6 781) rotate(-90) scale(0.78 1)" font-family="'Liberation Sans', sans-serif" font-size="8.6" fill="#1b1b4d" text-anchor="middle" >100</text>
<line x1="1277.5" y1="244" x2="1277.5" y2="802.7" stroke="#4a4a4a" stroke-width="0.7"/>
<line x1="1275.6" y1="246.2" x2="1280" y2="241.8" stroke="#333" stroke-width="0.8"/>
<line x1="1275.6" y1="399.7" x2="1280" y2="395.3" stroke="#333" stroke-width="0.8"/>
<line x1="1275.6" y1="527.7" x2="1280" y2="523.3" stroke="#333" stroke-width="0.8"/>
<line x1="1275.6" y1="676.9" x2="1280" y2="672.5" stroke="#333" stroke-width="0.8"/>
<line x1="1275.6" y1="804.9" x2="1280" y2="800.5" stroke="#333" stroke-width="0.8"/>
<text transform="translate(1275.4 320) rotate(-90) scale(0.78 1)" font-family="'Liberation Sans', sans-serif" font-size="8.6" fill="#1b1b4d" text-anchor="middle" >360</text>
<text transform="translate(1275.4 461.5) rotate(-90) scale(0.78 1)" font-family="'Liberation Sans', sans-serif" font-size="8.6" fill="#1b1b4d" text-anchor="middle" >300</text>
<text transform="translate(1275.4 599.7) rotate(-90) scale(0.78 1)" font-family="'Liberation Sans', sans-serif" font-size="8.6" fill="#1b1b4d" text-anchor="middle" >350</text>
<text transform="translate(1275.4 738.8) rotate(-90) scale(0.78 1)" font-family="'Liberation Sans', sans-serif" font-size="8.6" fill="#1b1b4d" text-anchor="middle" >300</text>
<line x1="1292.5" y1="244" x2="1292.5" y2="802.7" stroke="#4a4a4a" stroke-width="0.7"/>
<line x1="1290.3" y1="246.2" x2="1294.7" y2="241.8" stroke="#333" stroke-width="0.8"/>
<line x1="1290.3" y1="251.5" x2="1294.7" y2="247.1" stroke="#333" stroke-width="0.8"/>
<line x1="1290.3" y1="394.4" x2="1294.7" y2="390" stroke="#333" stroke-width="0.8"/>
<line x1="1290.3" y1="533" x2="1294.7" y2="528.6" stroke="#333" stroke-width="0.8"/>
<line x1="1290.3" y1="671.6" x2="1294.7" y2="667.2" stroke="#333" stroke-width="0.8"/>
<line x1="1290.3" y1="799.6" x2="1294.7" y2="795.2" stroke="#333" stroke-width="0.8"/>
<line x1="1290.3" y1="804.9" x2="1294.7" y2="800.5" stroke="#333" stroke-width="0.8"/>
<text transform="translate(1290.1 247) rotate(-90) scale(0.78 1)" font-family="'Liberation Sans', sans-serif" font-size="8.6" fill="#1b1b4d" text-anchor="middle" >12.5</text>
<text transform="translate(1290.1 320) rotate(-90) scale(0.78 1)" font-family="'Liberation Sans', sans-serif" font-size="8.6" fill="#1b1b4d" text-anchor="middle" >335</text>
<text transform="translate(1290.1 461.5) rotate(-90) scale(0.78 1)" font-family="'Liberation Sans', sans-serif" font-size="8.6" fill="#1b1b4d" text-anchor="middle" >325</text>
<text transform="translate(1290.1 599.7) rotate(-90) scale(0.78 1)" font-family="'Liberation Sans', sans-serif" font-size="8.6" fill="#1b1b4d" text-anchor="middle" >325</text>
<text transform="translate(1290.1 733) rotate(-90) scale(0.78 1)" font-family="'Liberation Sans', sans-serif" font-size="8.6" fill="#1b1b4d" text-anchor="middle" >300</text>
<text transform="translate(1290.1 800) rotate(-90) scale(0.78 1)" font-family="'Liberation Sans', sans-serif" font-size="8.6" fill="#1b1b4d" text-anchor="middle" >12.5</text>
<line x1="1306.5" y1="244" x2="1306.5" y2="802.7" stroke="#4a4a4a" stroke-width="0.7"/>
<line x1="1304.7" y1="246.2" x2="1309.1" y2="241.8" stroke="#333" stroke-width="0.8"/>
<line x1="1304.7" y1="804.9" x2="1309.1" y2="800.5" stroke="#333" stroke-width="0.8"/>
<text transform="translate(1304.5 524) rotate(-90) scale(0.78 1)" font-family="'Liberation Sans', sans-serif" font-size="8.6" fill="#1b1b4d" text-anchor="middle" >1310</text>
<line x1="128" y1="550.3" x2="1310" y2="550.3" stroke="#222" stroke-width="1.1" stroke-dasharray="9 5"/>
<line x1="128" y1="776.3" x2="1310" y2="776.3" stroke="#222" stroke-width="1.1" stroke-dasharray="9 5"/>
<path d="M84.8 550.3 L103 531.9 L121.2 550.3 Z" fill="#1747a6" stroke="none" stroke-width="0" stroke-linejoin="miter" />
<circle cx="103" cy="551.5" r="12.6" fill="#fff" stroke="#3a5f9e" stroke-width="0.7" />
<line x1="90.4" y1="550.5" x2="115.6" y2="550.5" stroke="#445" stroke-width="0.5"/>
<text transform="translate(103 547.7) scale(0.85 1)" font-family="'Liberation Sans', sans-serif" font-size="9" fill="#333" text-anchor="middle" >В - В</text>
<text transform="translate(103 558.9) scale(0.85 1)" font-family="'Liberation Sans', sans-serif" font-size="9.2" fill="#333" text-anchor="middle" >A202</text>
<path d="M92.3 776.3 L110.5 757.9 L128.7 776.3 Z" fill="#1747a6" stroke="none" stroke-width="0" stroke-linejoin="miter" />
<circle cx="110.5" cy="777.5" r="12.6" fill="#fff" stroke="#3a5f9e" stroke-width="0.7" />
<line x1="97.9" y1="776.5" x2="123.1" y2="776.5" stroke="#445" stroke-width="0.5"/>
<text transform="translate(110.5 773.7) scale(0.85 1)" font-family="'Liberation Sans', sans-serif" font-size="9" fill="#333" text-anchor="middle" >Б-Б</text>
<text transform="translate(110.5 784.9) scale(0.85 1)" font-family="'Liberation Sans', sans-serif" font-size="9.2" fill="#333" text-anchor="middle" >A201</text>
<path d="M1304.8 550.3 L1323 531.9 L1341.2 550.3 Z" fill="#111" stroke="none" stroke-width="0" stroke-linejoin="miter" />
<circle cx="1323" cy="551.5" r="12.6" fill="#fff" stroke="#333" stroke-width="0.7" />
<line x1="1310.4" y1="550.5" x2="1335.6" y2="550.5" stroke="#445" stroke-width="0.5"/>
<text transform="translate(1323 547.7) scale(0.85 1)" font-family="'Liberation Sans', sans-serif" font-size="9" fill="#333" text-anchor="middle" >В - В</text>
<text transform="translate(1323 558.9) scale(0.85 1)" font-family="'Liberation Sans', sans-serif" font-size="9.2" fill="#333" text-anchor="middle" >A202</text>
<path d="M1309.8 776.3 L1328 757.9 L1346.2 776.3 Z" fill="#111" stroke="none" stroke-width="0" stroke-linejoin="miter" />
<circle cx="1328" cy="777.5" r="12.6" fill="#fff" stroke="#333" stroke-width="0.7" />
<line x1="1315.4" y1="776.5" x2="1340.6" y2="776.5" stroke="#445" stroke-width="0.5"/>
<text transform="translate(1328 773.7) scale(0.85 1)" font-family="'Liberation Sans', sans-serif" font-size="9" fill="#333" text-anchor="middle" >Б-Б</text>
<text transform="translate(1328 784.9) scale(0.85 1)" font-family="'Liberation Sans', sans-serif" font-size="9.2" fill="#333" text-anchor="middle" >A201</text>
<line x1="755.7" y1="160" x2="755.7" y2="486.5" stroke="#222" stroke-width="1.1" stroke-dasharray="9 5"/>
<line x1="755.7" y1="486.5" x2="803.5" y2="486.5" stroke="#222" stroke-width="1.1" stroke-dasharray="9 5"/>
<line x1="803.5" y1="486.5" x2="803.5" y2="880" stroke="#222" stroke-width="1.1" stroke-dasharray="9 5"/>
<path d="M755.5 120.9 L774 139.3 L755.5 157.7 Z" fill="#1747a6" stroke="none" stroke-width="0" stroke-linejoin="miter" />
<circle cx="756" cy="139.3" r="12.6" fill="#fff" stroke="#3a5f9e" stroke-width="0.7" />
<line x1="743.4" y1="139.5" x2="768.6" y2="139.5" stroke="#445" stroke-width="0.5"/>
<text transform="translate(756 136.7) scale(0.85 1)" font-family="'Liberation Sans', sans-serif" font-size="9" fill="#333" text-anchor="middle" >A - A</text>
<text transform="translate(756 147.9) scale(0.85 1)" font-family="'Liberation Sans', sans-serif" font-size="9.2" fill="#333" text-anchor="middle" >A200</text>
<path d="M803.5 879.6 L822 898 L803.5 916.4 Z" fill="#111" stroke="none" stroke-width="0" stroke-linejoin="miter" />
<circle cx="804" cy="898" r="12.6" fill="#fff" stroke="#333" stroke-width="0.7" />
<line x1="791.4" y1="898.5" x2="816.6" y2="898.5" stroke="#445" stroke-width="0.5"/>
<text transform="translate(804 895.4) scale(0.85 1)" font-family="'Liberation Sans', sans-serif" font-size="9" fill="#333" text-anchor="middle" >A - A</text>
<text transform="translate(804 906.6) scale(0.85 1)" font-family="'Liberation Sans', sans-serif" font-size="9.2" fill="#333" text-anchor="middle" >A200</text>
<text transform="translate(249.5 321.3) scale(0.95 1)" font-family="'Liberation Sans', sans-serif" font-size="6.1" fill="#6f6f6f" text-anchor="middle" >БАЛКОН</text>
<text transform="translate(249.5 329.3) scale(0.95 1)" font-family="'Liberation Sans', sans-serif" font-size="6.1" fill="#6f6f6f" text-anchor="middle" >А 1.1.06</text>
<text transform="translate(249.5 337.5) scale(0.95 1)" font-family="'Liberation Sans', sans-serif" font-size="6.1" fill="#6f6f6f" text-anchor="middle" >3.79 m²</text>
<text transform="translate(354.3 333) scale(0.95 1)" font-family="'Liberation Sans', sans-serif" font-size="6.1" fill="#6f6f6f" text-anchor="middle" >СПАЛНЯ</text>
<text transform="translate(354.3 341) scale(0.95 1)" font-family="'Liberation Sans', sans-serif" font-size="6.1" fill="#6f6f6f" text-anchor="middle" >А 1.1.03</text>
<text transform="translate(354.3 349.3) scale(0.95 1)" font-family="'Liberation Sans', sans-serif" font-size="6.1" fill="#6f6f6f" text-anchor="middle" >14.76 m²</text>
<text transform="translate(566.3 334.5) scale(0.95 1)" font-family="'Liberation Sans', sans-serif" font-size="6.1" fill="#6f6f6f" text-anchor="middle" >СПАЛНЯ</text>
<text transform="translate(566.3 342.5) scale(0.95 1)" font-family="'Liberation Sans', sans-serif" font-size="6.1" fill="#6f6f6f" text-anchor="middle" >А 1.1.02</text>
<text transform="translate(566.3 350.8) scale(0.95 1)" font-family="'Liberation Sans', sans-serif" font-size="6.1" fill="#6f6f6f" text-anchor="middle" >14.97 m²</text>
<text transform="translate(341.3 489.5) scale(0.95 1)" font-family="'Liberation Sans', sans-serif" font-size="6.1" fill="#6f6f6f" text-anchor="middle" >ВСЕКИДНЕВНА</text>
<text transform="translate(341.3 498) scale(0.95 1)" font-family="'Liberation Sans', sans-serif" font-size="6.1" fill="#6f6f6f" text-anchor="middle" >С ТРАПЕЗАРИЯ</text>
<text transform="translate(341.3 506.3) scale(0.95 1)" font-family="'Liberation Sans', sans-serif" font-size="6.1" fill="#6f6f6f" text-anchor="middle" >А 1.1.04</text>
<text transform="translate(341.3 514.3) scale(0.95 1)" font-family="'Liberation Sans', sans-serif" font-size="6.1" fill="#6f6f6f" text-anchor="middle" >25.60 m²</text>
<text transform="translate(562.5 458) scale(0.95 1)" font-family="'Liberation Sans', sans-serif" font-size="6.1" fill="#6f6f6f" text-anchor="middle" >КОРИДОР</text>
<text transform="translate(562.5 465.8) scale(0.95 1)" font-family="'Liberation Sans', sans-serif" font-size="6.1" fill="#6f6f6f" text-anchor="middle" >А 1.1.01</text>
<text transform="translate(562.5 473.8) scale(0.95 1)" font-family="'Liberation Sans', sans-serif" font-size="6.1" fill="#6f6f6f" text-anchor="middle" >7.41 m²</text>
<text transform="translate(648.8 528) scale(0.95 1)" font-family="'Liberation Sans', sans-serif" font-size="6.1" fill="#6f6f6f" text-anchor="middle" >БАНЯ</text>
<text transform="translate(648.8 536.3) scale(0.95 1)" font-family="'Liberation Sans', sans-serif" font-size="6.1" fill="#6f6f6f" text-anchor="middle" >А 1.1.05</text>
<text transform="translate(648.8 544.5) scale(0.95 1)" font-family="'Liberation Sans', sans-serif" font-size="6.1" fill="#6f6f6f" text-anchor="middle" >3.66 m²</text>
<text transform="translate(688 618.8) scale(0.95 1)" font-family="'Liberation Sans', sans-serif" font-size="6.1" fill="#6f6f6f" text-anchor="middle" >КОРИДОР</text>
<text transform="translate(688 627) scale(0.95 1)" font-family="'Liberation Sans', sans-serif" font-size="6.1" fill="#6f6f6f" text-anchor="middle" >А 1.3.01</text>
<text transform="translate(688 635) scale(0.95 1)" font-family="'Liberation Sans', sans-serif" font-size="6.1" fill="#6f6f6f" text-anchor="middle" >4.12 m²</text>
<text transform="translate(765 615) scale(0.95 1)" font-family="'Liberation Sans', sans-serif" font-size="6.1" fill="#6f6f6f" text-anchor="middle" >БАНЯ</text>
<text transform="translate(765 623.3) scale(0.95 1)" font-family="'Liberation Sans', sans-serif" font-size="6.1" fill="#6f6f6f" text-anchor="middle" >А 1.3.04</text>
<text transform="translate(765 631.3) scale(0.95 1)" font-family="'Liberation Sans', sans-serif" font-size="6.1" fill="#6f6f6f" text-anchor="middle" >2.47 m²</text>
<text transform="translate(895 600) scale(0.95 1)" font-family="'Liberation Sans', sans-serif" font-size="6.1" fill="#6f6f6f" text-anchor="middle" >БАНЯ</text>
<text transform="translate(895 608.3) scale(0.95 1)" font-family="'Liberation Sans', sans-serif" font-size="6.1" fill="#6f6f6f" text-anchor="middle" >А 1.2.05</text>
<text transform="translate(895 616.3) scale(0.95 1)" font-family="'Liberation Sans', sans-serif" font-size="6.1" fill="#6f6f6f" text-anchor="middle" >4.69 m²</text>
<text transform="translate(912 650) scale(0.95 1)" font-family="'Liberation Sans', sans-serif" font-size="6.1" fill="#6f6f6f" text-anchor="middle" >ПП</text>
<text transform="translate(912 658.3) scale(0.95 1)" font-family="'Liberation Sans', sans-serif" font-size="6.1" fill="#6f6f6f" text-anchor="middle" >170</text>
<text transform="translate(327 723.8) scale(0.95 1)" font-family="'Liberation Sans', sans-serif" font-size="6.1" fill="#6f6f6f" text-anchor="middle" >БАЛКОН</text>
<text transform="translate(327 731.8) scale(0.95 1)" font-family="'Liberation Sans', sans-serif" font-size="6.1" fill="#6f6f6f" text-anchor="middle" >А 1.3.05</text>
<text transform="translate(327 740) scale(0.95 1)" font-family="'Liberation Sans', sans-serif" font-size="6.1" fill="#6f6f6f" text-anchor="middle" >4.11 m²</text>
<text transform="translate(545 744.5) scale(0.95 1)" font-family="'Liberation Sans', sans-serif" font-size="6.1" fill="#6f6f6f" text-anchor="middle" >ВСЕКИДНЕВНА</text>
<text transform="translate(545 752.5) scale(0.95 1)" font-family="'Liberation Sans', sans-serif" font-size="6.1" fill="#6f6f6f" text-anchor="middle" >С ТРАПЕЗАРИЯ</text>
<text transform="translate(545 760.5) scale(0.95 1)" font-family="'Liberation Sans', sans-serif" font-size="6.1" fill="#6f6f6f" text-anchor="middle" >А 1.3.02</text>
<text transform="translate(545 769) scale(0.95 1)" font-family="'Liberation Sans', sans-serif" font-size="6.1" fill="#6f6f6f" text-anchor="middle" >24.46 m²</text>
<text transform="translate(681.5 749) scale(0.95 1)" font-family="'Liberation Sans', sans-serif" font-size="6.1" fill="#6f6f6f" text-anchor="middle" >СПАЛНЯ</text>
<text transform="translate(681.5 757.3) scale(0.95 1)" font-family="'Liberation Sans', sans-serif" font-size="6.1" fill="#6f6f6f" text-anchor="middle" >А 1.3.03</text>
<text transform="translate(681.5 765.5) scale(0.95 1)" font-family="'Liberation Sans', sans-serif" font-size="6.1" fill="#6f6f6f" text-anchor="middle" >11.90 m²</text>
<text transform="translate(843 706.3) scale(0.95 1)" font-family="'Liberation Sans', sans-serif" font-size="6.1" fill="#6f6f6f" text-anchor="middle" >БАЛКОН</text>
<text transform="translate(843 714.5) scale(0.95 1)" font-family="'Liberation Sans', sans-serif" font-size="6.1" fill="#6f6f6f" text-anchor="middle" >А 1.3.06</text>
<text transform="translate(843 722.5) scale(0.95 1)" font-family="'Liberation Sans', sans-serif" font-size="6.1" fill="#6f6f6f" text-anchor="middle" >2.22 m²</text>
<text transform="translate(909.5 340.8) scale(0.95 1)" font-family="'Liberation Sans', sans-serif" font-size="6.1" fill="#6f6f6f" text-anchor="middle" >ВСЕКИДНЕВНА</text>
<text transform="translate(909.5 348.8) scale(0.95 1)" font-family="'Liberation Sans', sans-serif" font-size="6.1" fill="#6f6f6f" text-anchor="middle" >С ТРАПЕЗАРИЯ</text>
<text transform="translate(909.5 356.8) scale(0.95 1)" font-family="'Liberation Sans', sans-serif" font-size="6.1" fill="#6f6f6f" text-anchor="middle" >А 1.2.02</text>
<text transform="translate(909.5 365) scale(0.95 1)" font-family="'Liberation Sans', sans-serif" font-size="6.1" fill="#6f6f6f" text-anchor="middle" >25.82 m²</text>
<text transform="translate(850 437.5) scale(0.95 1)" font-family="'Liberation Sans', sans-serif" font-size="6.1" fill="#6f6f6f" text-anchor="middle" >КОРИДОР</text>
<text transform="translate(850 445.5) scale(0.95 1)" font-family="'Liberation Sans', sans-serif" font-size="6.1" fill="#6f6f6f" text-anchor="middle" >А 1.2.01</text>
<text transform="translate(850 453.3) scale(0.95 1)" font-family="'Liberation Sans', sans-serif" font-size="6.1" fill="#6f6f6f" text-anchor="middle" >7.03 m²</text>
<text transform="translate(1038 425) scale(0.95 1)" font-family="'Liberation Sans', sans-serif" font-size="6.1" fill="#6f6f6f" text-anchor="middle" >СПАЛНЯ</text>
<text transform="translate(1038 433) scale(0.95 1)" font-family="'Liberation Sans', sans-serif" font-size="6.1" fill="#6f6f6f" text-anchor="middle" >А 1.2.03</text>
<text transform="translate(1038 441.3) scale(0.95 1)" font-family="'Liberation Sans', sans-serif" font-size="6.1" fill="#6f6f6f" text-anchor="middle" >15.69 m²</text>
<text transform="translate(1038.3 605) scale(0.95 1)" font-family="'Liberation Sans', sans-serif" font-size="6.1" fill="#6f6f6f" text-anchor="middle" >СПАЛНЯ</text>
<text transform="translate(1038.3 613.3) scale(0.95 1)" font-family="'Liberation Sans', sans-serif" font-size="6.1" fill="#6f6f6f" text-anchor="middle" >А 1.2.04</text>
<text transform="translate(1038.3 621.3) scale(0.95 1)" font-family="'Liberation Sans', sans-serif" font-size="6.1" fill="#6f6f6f" text-anchor="middle" >15.99 m²</text>
<text transform="translate(1172 416.3) scale(0.95 1)" font-family="'Liberation Sans', sans-serif" font-size="6.1" fill="#6f6f6f" text-anchor="middle" >БАЛКОН</text>
<text transform="translate(1172 424.3) scale(0.95 1)" font-family="'Liberation Sans', sans-serif" font-size="6.1" fill="#6f6f6f" text-anchor="middle" >А 1.2.06</text>
<text transform="translate(1172 432) scale(0.95 1)" font-family="'Liberation Sans', sans-serif" font-size="6.1" fill="#6f6f6f" text-anchor="middle" >2.68 m²</text>
<text transform="translate(706 486.5) scale(0.78 1)" font-family="'Liberation Sans', sans-serif" font-size="4.7" fill="#223" text-anchor="middle" font-weight="bold" >АП.1.1</text>
<text transform="translate(706 492.5) scale(0.78 1)" font-family="'Liberation Sans', sans-serif" font-size="4.4" fill="#223" text-anchor="middle" font-weight="bold" >84.39 m²</text>
<text transform="translate(806 487.8) scale(0.78 1)" font-family="'Liberation Sans', sans-serif" font-size="4.7" fill="#223" text-anchor="middle" font-weight="bold" >АП.1.2</text>
<text transform="translate(806 493.8) scale(0.78 1)" font-family="'Liberation Sans', sans-serif" font-size="4.4" fill="#223" text-anchor="middle" font-weight="bold" >89.21 m²</text>
<text transform="translate(717 561.5) scale(0.78 1)" font-family="'Liberation Sans', sans-serif" font-size="4.7" fill="#223" text-anchor="middle" font-weight="bold" >АП.1.3</text>
<text transform="translate(717 568) scale(0.78 1)" font-family="'Liberation Sans', sans-serif" font-size="4.4" fill="#223" text-anchor="middle" font-weight="bold" >61.72 m²</text>
<text transform="translate(607.5 294) scale(0.85 1)" font-family="'Liberation Sans', sans-serif" font-size="6.6" fill="#666" text-anchor="middle" >ПП 90</text>
<text transform="translate(762.5 294) scale(0.85 1)" font-family="'Liberation Sans', sans-serif" font-size="6.6" fill="#666" text-anchor="middle" >ПП 222</text>
<text transform="translate(965 265.5) scale(0.85 1)" font-family="'Liberation Sans', sans-serif" font-size="6.6" fill="#666" text-anchor="middle" >ПП 90</text>
<text transform="translate(261.3 466) scale(0.85 1)" font-family="'Liberation Sans', sans-serif" font-size="6.6" fill="#666" text-anchor="middle" >ПП 0</text>
<text transform="translate(1143 381) scale(0.85 1)" font-family="'Liberation Sans', sans-serif" font-size="6.6" fill="#666" text-anchor="middle" >ПП 0</text>
<text transform="translate(1143.8 548) scale(0.85 1)" font-family="'Liberation Sans', sans-serif" font-size="6.6" fill="#666" text-anchor="middle" >ПП 0</text>
<text transform="translate(307.5 371) rotate(-90) scale(0.85 1)" font-family="'Liberation Sans', sans-serif" font-size="6.6" fill="#666" text-anchor="middle" >ПП 90</text>
<text transform="translate(252 523.8) rotate(-90) scale(0.85 1)" font-family="'Liberation Sans', sans-serif" font-size="6.6" fill="#666" text-anchor="middle" >ПП 90</text>
<text transform="translate(387 705) rotate(-90) scale(0.85 1)" font-family="'Liberation Sans', sans-serif" font-size="6.6" fill="#666" text-anchor="middle" >ПП 90</text>
<text transform="translate(1164.5 331.3) rotate(-90) scale(0.85 1)" font-family="'Liberation Sans', sans-serif" font-size="6.6" fill="#666" text-anchor="middle" >ПП 90</text>
<text transform="translate(1164.5 590) rotate(-90) scale(0.85 1)" font-family="'Liberation Sans', sans-serif" font-size="6.6" fill="#666" text-anchor="middle" >ПП 90</text>
<text transform="translate(1110.5 467) rotate(-90) scale(0.85 1)" font-family="'Liberation Sans', sans-serif" font-size="6.6" fill="#666" text-anchor="middle" >ПП 90</text>
<text transform="translate(823 739) rotate(-90) scale(0.85 1)" font-family="'Liberation Sans', sans-serif" font-size="5" fill="#666" text-anchor="middle" >ПП 90</text>
<line x1="400.5" y1="314.5" x2="400.5" y2="480" stroke="#484848" stroke-width="0.62"/>
<line x1="398.6" y1="316.7" x2="403" y2="312.3" stroke="#333" stroke-width="0.8"/>
<line x1="398.6" y1="349.2" x2="403" y2="344.8" stroke="#333" stroke-width="0.8"/>
<line x1="398.6" y1="434.7" x2="403" y2="430.3" stroke="#333" stroke-width="0.8"/>
<line x1="398.6" y1="450.2" x2="403" y2="445.8" stroke="#333" stroke-width="0.8"/>
<line x1="398.6" y1="455.3" x2="403" y2="450.9" stroke="#333" stroke-width="0.8"/>
<text transform="translate(398.4 334.5) rotate(-90) scale(0.78 1)" font-family="'Liberation Sans', sans-serif" font-size="8.6" fill="#1b1b4d" text-anchor="middle" >74</text>
<text transform="translate(398.4 389.3) rotate(-90) scale(0.78 1)" font-family="'Liberation Sans', sans-serif" font-size="8.6" fill="#1b1b4d" text-anchor="middle" >202</text>
<text transform="translate(398.4 440) rotate(-90) scale(0.78 1)" font-family="'Liberation Sans', sans-serif" font-size="8.6" fill="#1b1b4d" text-anchor="middle" >37</text>
<text transform="translate(398.4 450.5) rotate(-90) scale(0.78 1)" font-family="'Liberation Sans', sans-serif" font-size="8.6" fill="#1b1b4d" text-anchor="middle" >12</text>
<text transform="translate(398.4 465.5) rotate(-90) scale(0.78 1)" font-family="'Liberation Sans', sans-serif" font-size="8.6" fill="#1b1b4d" text-anchor="middle" >50</text>
<line x1="448.5" y1="314.5" x2="448.5" y2="600.3" stroke="#484848" stroke-width="0.62"/>
<line x1="446.6" y1="316.7" x2="451" y2="312.3" stroke="#333" stroke-width="0.8"/>
<line x1="446.6" y1="450.2" x2="451" y2="445.8" stroke="#333" stroke-width="0.8"/>
<line x1="446.6" y1="455.3" x2="451" y2="450.9" stroke="#333" stroke-width="0.8"/>
<line x1="446.6" y1="602.5" x2="451" y2="598.1" stroke="#333" stroke-width="0.8"/>
<text transform="translate(446.4 381.3) rotate(-90) scale(0.78 1)" font-family="'Liberation Sans', sans-serif" font-size="8.6" fill="#1b1b4d" text-anchor="middle" >313</text>
<text transform="translate(446.4 450.5) rotate(-90) scale(0.78 1)" font-family="'Liberation Sans', sans-serif" font-size="8.6" fill="#1b1b4d" text-anchor="middle" >12</text>
<text transform="translate(446.4 516) rotate(-90) scale(0.78 1)" font-family="'Liberation Sans', sans-serif" font-size="8.6" fill="#1b1b4d" text-anchor="middle" >345</text>
<text transform="translate(395.5 325) scale(0.78 1)" font-family="'Liberation Sans', sans-serif" font-size="8.6" fill="#1b1b4d" text-anchor="middle" >475</text>
<text transform="translate(238 373.8) rotate(-90) scale(0.78 1)" font-family="'Liberation Sans', sans-serif" font-size="8.6" fill="#1b1b4d" text-anchor="middle" >299</text>
<text transform="translate(238 304) rotate(-90) scale(0.78 1)" font-family="'Liberation Sans', sans-serif" font-size="8.6" fill="#1b1b4d" text-anchor="middle" >23</text>
<text transform="translate(238 442) rotate(-90) scale(0.78 1)" font-family="'Liberation Sans', sans-serif" font-size="8.6" fill="#1b1b4d" text-anchor="middle" >12</text>
<line x1="507.5" y1="305.5" x2="790" y2="305.5" stroke="#484848" stroke-width="0.62"/>
<line x1="505.3" y1="307.2" x2="509.7" y2="302.8" stroke="#333" stroke-width="0.8"/>
<line x1="559.1" y1="307.2" x2="563.5" y2="302.8" stroke="#333" stroke-width="0.8"/>
<line x1="655.3" y1="307.2" x2="659.7" y2="302.8" stroke="#333" stroke-width="0.8"/>
<line x1="700.3" y1="307.2" x2="704.7" y2="302.8" stroke="#333" stroke-width="0.8"/>
<line x1="710.6" y1="307.2" x2="715" y2="302.8" stroke="#333" stroke-width="0.8"/>
<line x1="723.4" y1="307.2" x2="727.8" y2="302.8" stroke="#333" stroke-width="0.8"/>
<line x1="787.8" y1="307.2" x2="792.2" y2="302.8" stroke="#333" stroke-width="0.8"/>
<text transform="translate(534.5 302.8) scale(0.78 1)" font-family="'Liberation Sans', sans-serif" font-size="8.6" fill="#1b1b4d" text-anchor="middle" >125</text>
<text transform="translate(608.8 302.8) scale(0.78 1)" font-family="'Liberation Sans', sans-serif" font-size="8.6" fill="#1b1b4d" text-anchor="middle" >225</text>
<text transform="translate(676.8 302.8) scale(0.78 1)" font-family="'Liberation Sans', sans-serif" font-size="8.6" fill="#1b1b4d" text-anchor="middle" >105</text>
<text transform="translate(707.5 302.8) scale(0.78 1)" font-family="'Liberation Sans', sans-serif" font-size="8.6" fill="#1b1b4d" text-anchor="middle" >25</text>
<text transform="translate(719 302.8) scale(0.78 1)" font-family="'Liberation Sans', sans-serif" font-size="8.6" fill="#1b1b4d" text-anchor="middle" >30</text>
<text transform="translate(757 302.8) scale(0.78 1)" font-family="'Liberation Sans', sans-serif" font-size="8.6" fill="#1b1b4d" text-anchor="middle" >150</text>
<line x1="497.4" y1="326.5" x2="712.8" y2="326.5" stroke="#484848" stroke-width="0.62"/>
<line x1="495.2" y1="328.5" x2="499.6" y2="324.1" stroke="#333" stroke-width="0.8"/>
<line x1="505.3" y1="328.5" x2="509.7" y2="324.1" stroke="#333" stroke-width="0.8"/>
<line x1="700.3" y1="328.5" x2="704.7" y2="324.1" stroke="#333" stroke-width="0.8"/>
<line x1="710.6" y1="328.5" x2="715" y2="324.1" stroke="#333" stroke-width="0.8"/>
<text transform="translate(608.8 324) scale(0.78 1)" font-family="'Liberation Sans', sans-serif" font-size="8.6" fill="#1b1b4d" text-anchor="middle" >455</text>
<text transform="translate(502.5 324) scale(0.78 1)" font-family="'Liberation Sans', sans-serif" font-size="8.6" fill="#1b1b4d" text-anchor="middle" >25</text>
<text transform="translate(707.5 324) scale(0.78 1)" font-family="'Liberation Sans', sans-serif" font-size="8.6" fill="#1b1b4d" text-anchor="middle" >25</text>
<text transform="translate(763.8 324.8) scale(0.78 1)" font-family="'Liberation Sans', sans-serif" font-size="8.6" fill="#1b1b4d" text-anchor="middle" >240</text>
<line x1="528.5" y1="283" x2="528.5" y2="600.3" stroke="#484848" stroke-width="0.62"/>
<line x1="526.1" y1="285.2" x2="530.5" y2="280.8" stroke="#333" stroke-width="0.8"/>
<line x1="526.1" y1="396.6" x2="530.5" y2="392.2" stroke="#333" stroke-width="0.8"/>
<text transform="translate(525.9 339) rotate(-90) scale(0.78 1)" font-family="'Liberation Sans', sans-serif" font-size="8.6" fill="#1b1b4d" text-anchor="middle" >263</text>
<text transform="translate(525.9 397.5) rotate(-90) scale(0.78 1)" font-family="'Liberation Sans', sans-serif" font-size="8.6" fill="#1b1b4d" text-anchor="middle" >92</text>
<text transform="translate(525.9 421.3) rotate(-90) scale(0.78 1)" font-family="'Liberation Sans', sans-serif" font-size="8.6" fill="#1b1b4d" text-anchor="middle" >90</text>
<text transform="translate(525.9 450) rotate(-90) scale(0.78 1)" font-family="'Liberation Sans', sans-serif" font-size="8.6" fill="#1b1b4d" text-anchor="middle" >43</text>
<text transform="translate(525.9 475) rotate(-90) scale(0.78 1)" font-family="'Liberation Sans', sans-serif" font-size="8.6" fill="#1b1b4d" text-anchor="middle" >87</text>
<line x1="597.5" y1="283" x2="597.5" y2="792.3" stroke="#484848" stroke-width="0.62"/>
<line x1="595.3" y1="285.2" x2="599.7" y2="280.8" stroke="#333" stroke-width="0.8"/>
<line x1="595.3" y1="396.6" x2="599.7" y2="392.2" stroke="#333" stroke-width="0.8"/>
<line x1="595.3" y1="444.7" x2="599.7" y2="440.3" stroke="#333" stroke-width="0.8"/>
<text transform="translate(595.1 339) rotate(-90) scale(0.78 1)" font-family="'Liberation Sans', sans-serif" font-size="8.6" fill="#1b1b4d" text-anchor="middle" >263</text>
<text transform="translate(595.1 416.3) rotate(-90) scale(0.78 1)" font-family="'Liberation Sans', sans-serif" font-size="8.6" fill="#1b1b4d" text-anchor="middle" >112</text>
<text transform="translate(595.1 449.5) rotate(-90) scale(0.78 1)" font-family="'Liberation Sans', sans-serif" font-size="8.6" fill="#1b1b4d" text-anchor="middle" >12</text>
<line x1="627.5" y1="283" x2="627.5" y2="442.5" stroke="#484848" stroke-width="0.62"/>
<line x1="625.3" y1="285.2" x2="629.7" y2="280.8" stroke="#333" stroke-width="0.8"/>
<line x1="625.3" y1="444.7" x2="629.7" y2="440.3" stroke="#333" stroke-width="0.8"/>
<text transform="translate(625.1 340) rotate(-90) scale(0.78 1)" font-family="'Liberation Sans', sans-serif" font-size="8.6" fill="#1b1b4d" text-anchor="middle" >375</text>
<line x1="647.5" y1="283" x2="647.5" y2="600.3" stroke="#484848" stroke-width="0.62"/>
<line x1="644.8" y1="285.2" x2="649.2" y2="280.8" stroke="#333" stroke-width="0.8"/>
<line x1="644.8" y1="444.7" x2="649.2" y2="440.3" stroke="#333" stroke-width="0.8"/>
<text transform="translate(644.6 363.8) rotate(-90) scale(0.78 1)" font-family="'Liberation Sans', sans-serif" font-size="8.6" fill="#1b1b4d" text-anchor="middle" >375</text>
<text transform="translate(644.6 449.5) rotate(-90) scale(0.78 1)" font-family="'Liberation Sans', sans-serif" font-size="8.6" fill="#1b1b4d" text-anchor="middle" >12</text>
<line x1="507.5" y1="381.5" x2="702.5" y2="381.5" stroke="#484848" stroke-width="0.62"/>
<line x1="505.3" y1="384" x2="509.7" y2="379.6" stroke="#333" stroke-width="0.8"/>
<line x1="511.8" y1="384" x2="516.2" y2="379.6" stroke="#333" stroke-width="0.8"/>
<line x1="550.1" y1="384" x2="554.5" y2="379.6" stroke="#333" stroke-width="0.8"/>
<line x1="585.1" y1="384" x2="589.5" y2="379.6" stroke="#333" stroke-width="0.8"/>
<line x1="700.3" y1="384" x2="704.7" y2="379.6" stroke="#333" stroke-width="0.8"/>
<text transform="translate(510.8 379.5) scale(0.78 1)" font-family="'Liberation Sans', sans-serif" font-size="8.6" fill="#1b1b4d" text-anchor="middle" >15</text>
<text transform="translate(533.5 379.5) scale(0.78 1)" font-family="'Liberation Sans', sans-serif" font-size="8.6" fill="#1b1b4d" text-anchor="middle" >90</text>
<text transform="translate(570 379.5) scale(0.78 1)" font-family="'Liberation Sans', sans-serif" font-size="8.6" fill="#1b1b4d" text-anchor="middle" >82</text>
<text transform="translate(659.3 379.5) scale(0.78 1)" font-family="'Liberation Sans', sans-serif" font-size="8.6" fill="#1b1b4d" text-anchor="middle" >268</text>
<line x1="243.75" y1="480.5" x2="815" y2="480.5" stroke="#484848" stroke-width="0.62"/>
<line x1="241.55" y1="482.7" x2="245.95" y2="478.3" stroke="#333" stroke-width="0.8"/>
<line x1="245.4" y1="482.7" x2="249.8" y2="478.3" stroke="#333" stroke-width="0.8"/>
<line x1="277.3" y1="482.7" x2="281.7" y2="478.3" stroke="#333" stroke-width="0.8"/>
<line x1="500.3" y1="482.7" x2="504.7" y2="478.3" stroke="#333" stroke-width="0.8"/>
<line x1="505.3" y1="482.7" x2="509.7" y2="478.3" stroke="#333" stroke-width="0.8"/>
<line x1="580.3" y1="482.7" x2="584.7" y2="478.3" stroke="#333" stroke-width="0.8"/>
<line x1="680.3" y1="482.7" x2="684.7" y2="478.3" stroke="#333" stroke-width="0.8"/>
<line x1="691.3" y1="482.7" x2="695.7" y2="478.3" stroke="#333" stroke-width="0.8"/>
<line x1="710.3" y1="482.7" x2="714.7" y2="478.3" stroke="#333" stroke-width="0.8"/>
<line x1="812.8" y1="482.7" x2="817.2" y2="478.3" stroke="#333" stroke-width="0.8"/>
<text transform="translate(245.2 478.2) scale(0.78 1)" font-family="'Liberation Sans', sans-serif" font-size="8.6" fill="#1b1b4d" text-anchor="middle" >9</text>
<text transform="translate(263.8 478.2) scale(0.78 1)" font-family="'Liberation Sans', sans-serif" font-size="8.6" fill="#1b1b4d" text-anchor="middle" >75</text>
<text transform="translate(390 478.2) scale(0.78 1)" font-family="'Liberation Sans', sans-serif" font-size="8.6" fill="#1b1b4d" text-anchor="middle" >524</text>
<text transform="translate(505.5 478.2) scale(0.78 1)" font-family="'Liberation Sans', sans-serif" font-size="8.6" fill="#1b1b4d" text-anchor="middle" >12</text>
<text transform="translate(545 478.2) scale(0.78 1)" font-family="'Liberation Sans', sans-serif" font-size="8.6" fill="#1b1b4d" text-anchor="middle" >175</text>
<text transform="translate(633 478.2) scale(0.78 1)" font-family="'Liberation Sans', sans-serif" font-size="8.6" fill="#1b1b4d" text-anchor="middle" >235</text>
<text transform="translate(687.5 478.2) scale(0.78 1)" font-family="'Liberation Sans', sans-serif" font-size="8.6" fill="#1b1b4d" text-anchor="middle" >25</text>
<text transform="translate(703 478.2) scale(0.78 1)" font-family="'Liberation Sans', sans-serif" font-size="8.6" fill="#1b1b4d" text-anchor="middle" >45</text>
<text transform="translate(763.8 478.2) scale(0.78 1)" font-family="'Liberation Sans', sans-serif" font-size="8.6" fill="#1b1b4d" text-anchor="middle" >240</text>
<text transform="translate(647 477) rotate(-90) scale(0.78 1)" font-family="'Liberation Sans', sans-serif" font-size="8.6" fill="#1b1b4d" text-anchor="middle" >133</text>
<line x1="243.75" y1="522.5" x2="940" y2="522.5" stroke="#484848" stroke-width="0.62"/>
<line x1="241.55" y1="524.7" x2="245.95" y2="520.3" stroke="#333" stroke-width="0.8"/>
<line x1="500.3" y1="524.7" x2="504.7" y2="520.3" stroke="#333" stroke-width="0.8"/>
<line x1="592.8" y1="524.7" x2="597.2" y2="520.3" stroke="#333" stroke-width="0.8"/>
<line x1="602.8" y1="524.7" x2="607.2" y2="520.3" stroke="#333" stroke-width="0.8"/>
<line x1="680.3" y1="524.7" x2="684.7" y2="520.3" stroke="#333" stroke-width="0.8"/>
<line x1="691.3" y1="524.7" x2="695.7" y2="520.3" stroke="#333" stroke-width="0.8"/>
<line x1="738.3" y1="524.7" x2="742.7" y2="520.3" stroke="#333" stroke-width="0.8"/>
<text transform="translate(372.5 520.2) scale(0.78 1)" font-family="'Liberation Sans', sans-serif" font-size="8.6" fill="#1b1b4d" text-anchor="middle" >608</text>
<text transform="translate(548.8 520.2) scale(0.78 1)" font-family="'Liberation Sans', sans-serif" font-size="8.6" fill="#1b1b4d" text-anchor="middle" >217</text>
<text transform="translate(600.5 520.2) scale(0.78 1)" font-family="'Liberation Sans', sans-serif" font-size="8.6" fill="#1b1b4d" text-anchor="middle" >25</text>
<text transform="translate(642.5 520.2) scale(0.78 1)" font-family="'Liberation Sans', sans-serif" font-size="8.6" fill="#1b1b4d" text-anchor="middle" >180</text>
<text transform="translate(687.5 520.2) scale(0.78 1)" font-family="'Liberation Sans', sans-serif" font-size="8.6" fill="#1b1b4d" text-anchor="middle" >25</text>
<text transform="translate(717.5 520.2) scale(0.78 1)" font-family="'Liberation Sans', sans-serif" font-size="8.6" fill="#1b1b4d" text-anchor="middle" >110</text>
<text transform="translate(780 520.2) scale(0.78 1)" font-family="'Liberation Sans', sans-serif" font-size="8.6" fill="#1b1b4d" text-anchor="middle" >200</text>
<text transform="translate(859.5 520.2) scale(0.78 1)" font-family="'Liberation Sans', sans-serif" font-size="8.6" fill="#1b1b4d" text-anchor="middle" >50</text>
<text transform="translate(892.5 520.2) scale(0.78 1)" font-family="'Liberation Sans', sans-serif" font-size="8.6" fill="#1b1b4d" text-anchor="middle" >12</text>
<line x1="401.5" y1="453.1" x2="401.5" y2="792.3" stroke="#484848" stroke-width="0.62"/>
<line x1="399.1" y1="455.3" x2="403.5" y2="450.9" stroke="#333" stroke-width="0.8"/>
<line x1="399.1" y1="476.6" x2="403.5" y2="472.2" stroke="#333" stroke-width="0.8"/>
<line x1="399.1" y1="576.7" x2="403.5" y2="572.3" stroke="#333" stroke-width="0.8"/>
<line x1="399.1" y1="602.5" x2="403.5" y2="598.1" stroke="#333" stroke-width="0.8"/>
<line x1="399.1" y1="613.2" x2="403.5" y2="608.8" stroke="#333" stroke-width="0.8"/>
<line x1="399.1" y1="634.2" x2="403.5" y2="629.8" stroke="#333" stroke-width="0.8"/>
<text transform="translate(398.9 465) rotate(-90) scale(0.78 1)" font-family="'Liberation Sans', sans-serif" font-size="8.6" fill="#1b1b4d" text-anchor="middle" >50</text>
<text transform="translate(398.9 533) rotate(-90) scale(0.78 1)" font-family="'Liberation Sans', sans-serif" font-size="8.6" fill="#1b1b4d" text-anchor="middle" >225</text>
<text transform="translate(398.9 587.5) rotate(-90) scale(0.78 1)" font-family="'Liberation Sans', sans-serif" font-size="8.6" fill="#1b1b4d" text-anchor="middle" >60</text>
<text transform="translate(398.9 605) rotate(-90) scale(0.78 1)" font-family="'Liberation Sans', sans-serif" font-size="8.6" fill="#1b1b4d" text-anchor="middle" >25</text>
<text transform="translate(398.9 621.3) rotate(-90) scale(0.78 1)" font-family="'Liberation Sans', sans-serif" font-size="8.6" fill="#1b1b4d" text-anchor="middle" >49</text>
<text transform="translate(446.4 605) rotate(-90) scale(0.78 1)" font-family="'Liberation Sans', sans-serif" font-size="8.6" fill="#1b1b4d" text-anchor="middle" >25</text>
<line x1="527.5" y1="453.1" x2="527.5" y2="600.3" stroke="#484848" stroke-width="0.62"/>
<text transform="translate(525.1 503.8) rotate(-90) scale(0.78 1)" font-family="'Liberation Sans', sans-serif" font-size="8.6" fill="#1b1b4d" text-anchor="middle" >220</text>
<text transform="translate(525.1 555) rotate(-90) scale(0.78 1)" font-family="'Liberation Sans', sans-serif" font-size="8.6" fill="#1b1b4d" text-anchor="middle" >213</text>
<text transform="translate(595.1 555) rotate(-90) scale(0.78 1)" font-family="'Liberation Sans', sans-serif" font-size="8.6" fill="#1b1b4d" text-anchor="middle" >213</text>
<text transform="translate(595.1 605) rotate(-90) scale(0.78 1)" font-family="'Liberation Sans', sans-serif" font-size="8.6" fill="#1b1b4d" text-anchor="middle" >25</text>
<text transform="translate(595.1 629) rotate(-90) scale(0.78 1)" font-family="'Liberation Sans', sans-serif" font-size="8.6" fill="#1b1b4d" text-anchor="middle" >90</text>
<text transform="translate(642.5 555) rotate(-90) scale(0.78 1)" font-family="'Liberation Sans', sans-serif" font-size="8.6" fill="#1b1b4d" text-anchor="middle" >213</text>
<line x1="645.5" y1="509.4" x2="645.5" y2="792.3" stroke="#484848" stroke-width="0.62"/>
<text transform="translate(642.5 605) rotate(-90) scale(0.78 1)" font-family="'Liberation Sans', sans-serif" font-size="8.6" fill="#1b1b4d" text-anchor="middle" >25</text>
<text transform="translate(642.5 633.8) rotate(-90) scale(0.78 1)" font-family="'Liberation Sans', sans-serif" font-size="8.6" fill="#1b1b4d" text-anchor="middle" >115</text>
<text transform="translate(612 558) scale(0.78 1)" font-family="'Liberation Sans', sans-serif" font-size="8.6" fill="#1b1b4d" text-anchor="middle" >25</text>
<text transform="translate(624 587.5) rotate(-90) scale(0.78 1)" font-family="'Liberation Sans', sans-serif" font-size="8.6" fill="#1b1b4d" text-anchor="middle" >60</text>
<text transform="translate(595.1 509) rotate(-90) scale(0.78 1)" font-family="'Liberation Sans', sans-serif" font-size="8.6" fill="#1b1b4d" text-anchor="middle" >12</text>
<text transform="translate(642.5 509) rotate(-90) scale(0.78 1)" font-family="'Liberation Sans', sans-serif" font-size="8.6" fill="#1b1b4d" text-anchor="middle" >12</text>
<line x1="298" y1="641.5" x2="376.3" y2="641.5" stroke="#484848" stroke-width="0.62"/>
<line x1="296.6" y1="643.5" x2="301" y2="639.1" stroke="#333" stroke-width="0.8"/>
<line x1="306.3" y1="643.5" x2="310.7" y2="639.1" stroke="#333" stroke-width="0.8"/>
<line x1="359.1" y1="643.5" x2="363.5" y2="639.1" stroke="#333" stroke-width="0.8"/>
<line x1="364.1" y1="643.5" x2="368.5" y2="639.1" stroke="#333" stroke-width="0.8"/>
<text transform="translate(303 639) scale(0.78 1)" font-family="'Liberation Sans', sans-serif" font-size="8.6" fill="#1b1b4d" text-anchor="middle" >23</text>
<text transform="translate(335 639) scale(0.78 1)" font-family="'Liberation Sans', sans-serif" font-size="8.6" fill="#1b1b4d" text-anchor="middle" >124</text>
<text transform="translate(363.5 639) scale(0.78 1)" font-family="'Liberation Sans', sans-serif" font-size="8.6" fill="#1b1b4d" text-anchor="middle" >12</text>
<text transform="translate(371.3 639) scale(0.78 1)" font-family="'Liberation Sans', sans-serif" font-size="8.6" fill="#1b1b4d" text-anchor="middle" >25</text>
<text transform="translate(352.4 685) rotate(-90) scale(0.78 1)" font-family="'Liberation Sans', sans-serif" font-size="8.6" fill="#1b1b4d" text-anchor="middle" >324</text>
<text transform="translate(351 760) rotate(-90) scale(0.78 1)" font-family="'Liberation Sans', sans-serif" font-size="8.6" fill="#1b1b4d" text-anchor="middle" >23</text>
<text transform="translate(353 614.5) rotate(-90) scale(0.78 1)" font-family="'Liberation Sans', sans-serif" font-size="8.6" fill="#1b1b4d" text-anchor="middle" >23</text>
<line x1="366.3" y1="688.5" x2="633.75" y2="688.5" stroke="#484848" stroke-width="0.62"/>
<line x1="364.1" y1="690.5" x2="368.5" y2="686.1" stroke="#333" stroke-width="0.8"/>
<line x1="374.1" y1="690.5" x2="378.5" y2="686.1" stroke="#333" stroke-width="0.8"/>
<line x1="620.3" y1="690.5" x2="624.7" y2="686.1" stroke="#333" stroke-width="0.8"/>
<line x1="631.55" y1="690.5" x2="635.95" y2="686.1" stroke="#333" stroke-width="0.8"/>
<text transform="translate(368.8 686) scale(0.78 1)" font-family="'Liberation Sans', sans-serif" font-size="8.6" fill="#1b1b4d" text-anchor="middle" >40</text>
<text transform="translate(499.5 686) scale(0.78 1)" font-family="'Liberation Sans', sans-serif" font-size="8.6" fill="#1b1b4d" text-anchor="middle" >577</text>
<line x1="376.3" y1="641.5" x2="942" y2="641.5" stroke="#484848" stroke-width="0.62"/>
<line x1="620.3" y1="643.5" x2="624.7" y2="639.1" stroke="#333" stroke-width="0.8"/>
<line x1="631.55" y1="643.5" x2="635.95" y2="639.1" stroke="#333" stroke-width="0.8"/>
<line x1="691.3" y1="643.5" x2="695.7" y2="639.1" stroke="#333" stroke-width="0.8"/>
<line x1="738.2" y1="643.5" x2="742.6" y2="639.1" stroke="#333" stroke-width="0.8"/>
<line x1="743.4" y1="643.5" x2="747.8" y2="639.1" stroke="#333" stroke-width="0.8"/>
<line x1="813.1" y1="643.5" x2="817.5" y2="639.1" stroke="#333" stroke-width="0.8"/>
<line x1="823.6" y1="643.5" x2="828" y2="639.1" stroke="#333" stroke-width="0.8"/>
<line x1="935.3" y1="643.5" x2="939.7" y2="639.1" stroke="#333" stroke-width="0.8"/>
<line x1="939.8" y1="643.5" x2="944.2" y2="639.1" stroke="#333" stroke-width="0.8"/>
<text transform="translate(499.5 639) scale(0.78 1)" font-family="'Liberation Sans', sans-serif" font-size="8.6" fill="#1b1b4d" text-anchor="middle" >577</text>
<text transform="translate(627.5 639) scale(0.78 1)" font-family="'Liberation Sans', sans-serif" font-size="8.6" fill="#1b1b4d" text-anchor="middle" >25</text>
<text transform="translate(663.8 639) scale(0.78 1)" font-family="'Liberation Sans', sans-serif" font-size="8.6" fill="#1b1b4d" text-anchor="middle" >140</text>
<text transform="translate(717 639) scale(0.78 1)" font-family="'Liberation Sans', sans-serif" font-size="8.6" fill="#1b1b4d" text-anchor="middle" >110</text>
<text transform="translate(743.3 639) scale(0.78 1)" font-family="'Liberation Sans', sans-serif" font-size="8.6" fill="#1b1b4d" text-anchor="middle" >12</text>
<text transform="translate(780 639) scale(0.78 1)" font-family="'Liberation Sans', sans-serif" font-size="8.6" fill="#1b1b4d" text-anchor="middle" >163</text>
<text transform="translate(820.5 639) scale(0.78 1)" font-family="'Liberation Sans', sans-serif" font-size="8.6" fill="#1b1b4d" text-anchor="middle" >25</text>
<text transform="translate(890 639) scale(0.78 1)" font-family="'Liberation Sans', sans-serif" font-size="8.6" fill="#1b1b4d" text-anchor="middle" >260</text>
<text transform="translate(940 639) scale(0.78 1)" font-family="'Liberation Sans', sans-serif" font-size="8.6" fill="#1b1b4d" text-anchor="middle" >12</text>
<line x1="448.5" y1="611" x2="448.5" y2="792.3" stroke="#484848" stroke-width="0.62"/>
<line x1="446.6" y1="613.2" x2="451" y2="608.8" stroke="#333" stroke-width="0.8"/>
<line x1="446.6" y1="794.5" x2="451" y2="790.1" stroke="#333" stroke-width="0.8"/>
<text transform="translate(446.4 701) rotate(-90) scale(0.78 1)" font-family="'Liberation Sans', sans-serif" font-size="8.6" fill="#1b1b4d" text-anchor="middle" >425</text>
<text transform="translate(398.9 677) rotate(-90) scale(0.78 1)" font-family="'Liberation Sans', sans-serif" font-size="8.6" fill="#1b1b4d" text-anchor="middle" >302</text>
<text transform="translate(398.9 778) rotate(-90) scale(0.78 1)" font-family="'Liberation Sans', sans-serif" font-size="8.6" fill="#1b1b4d" text-anchor="middle" >74</text>
<text transform="translate(595.1 722) rotate(-90) scale(0.78 1)" font-family="'Liberation Sans', sans-serif" font-size="8.6" fill="#1b1b4d" text-anchor="middle" >330</text>
<text transform="translate(595.1 797.5) rotate(-90) scale(0.78 1)" font-family="'Liberation Sans', sans-serif" font-size="8.6" fill="#1b1b4d" text-anchor="middle" >25</text>
<text transform="translate(595.1 661) rotate(-90) scale(0.78 1)" font-family="'Liberation Sans', sans-serif" font-size="8.6" fill="#1b1b4d" text-anchor="middle" >60</text>
<text transform="translate(642.5 661) rotate(-90) scale(0.78 1)" font-family="'Liberation Sans', sans-serif" font-size="8.6" fill="#1b1b4d" text-anchor="middle" >60</text>
<text transform="translate(642.5 688.5) rotate(-90) scale(0.78 1)" font-family="'Liberation Sans', sans-serif" font-size="8.6" fill="#1b1b4d" text-anchor="middle" >12</text>
<text transform="translate(642.5 742) rotate(-90) scale(0.78 1)" font-family="'Liberation Sans', sans-serif" font-size="8.6" fill="#1b1b4d" text-anchor="middle" >238</text>
<line x1="622.5" y1="691.5" x2="893.75" y2="691.5" stroke="#484848" stroke-width="0.62"/>
<line x1="620.3" y1="693.5" x2="624.7" y2="689.1" stroke="#333" stroke-width="0.8"/>
<line x1="631.55" y1="693.5" x2="635.95" y2="689.1" stroke="#333" stroke-width="0.8"/>
<line x1="680.3" y1="693.5" x2="684.7" y2="689.1" stroke="#333" stroke-width="0.8"/>
<line x1="685.3" y1="693.5" x2="689.7" y2="689.1" stroke="#333" stroke-width="0.8"/>
<line x1="695.8" y1="693.5" x2="700.2" y2="689.1" stroke="#333" stroke-width="0.8"/>
<line x1="729.1" y1="693.5" x2="733.5" y2="689.1" stroke="#333" stroke-width="0.8"/>
<line x1="813.1" y1="693.5" x2="817.5" y2="689.1" stroke="#333" stroke-width="0.8"/>
<line x1="823.6" y1="693.5" x2="828" y2="689.1" stroke="#333" stroke-width="0.8"/>
<line x1="827.8" y1="693.5" x2="832.2" y2="689.1" stroke="#333" stroke-width="0.8"/>
<line x1="882.8" y1="693.5" x2="887.2" y2="689.1" stroke="#333" stroke-width="0.8"/>
<line x1="891.55" y1="693.5" x2="895.95" y2="689.1" stroke="#333" stroke-width="0.8"/>
<text transform="translate(628.5 689) scale(0.78 1)" font-family="'Liberation Sans', sans-serif" font-size="8.6" fill="#1b1b4d" text-anchor="middle" >25</text>
<text transform="translate(658.8 689) scale(0.78 1)" font-family="'Liberation Sans', sans-serif" font-size="8.6" fill="#1b1b4d" text-anchor="middle" >115</text>
<text transform="translate(690.5 689) scale(0.78 1)" font-family="'Liberation Sans', sans-serif" font-size="8.6" fill="#1b1b4d" text-anchor="middle" >1223</text>
<text transform="translate(714.5 689) scale(0.78 1)" font-family="'Liberation Sans', sans-serif" font-size="8.6" fill="#1b1b4d" text-anchor="middle" >80</text>
<text transform="translate(773.8 689) scale(0.78 1)" font-family="'Liberation Sans', sans-serif" font-size="8.6" fill="#1b1b4d" text-anchor="middle" >195</text>
<text transform="translate(820.5 689) scale(0.78 1)" font-family="'Liberation Sans', sans-serif" font-size="8.6" fill="#1b1b4d" text-anchor="middle" >25</text>
<text transform="translate(828.5 689) scale(0.78 1)" font-family="'Liberation Sans', sans-serif" font-size="8.6" fill="#1b1b4d" text-anchor="middle" >12</text>
<text transform="translate(856 689) scale(0.78 1)" font-family="'Liberation Sans', sans-serif" font-size="8.6" fill="#1b1b4d" text-anchor="middle" >124</text>
<text transform="translate(889 689) scale(0.78 1)" font-family="'Liberation Sans', sans-serif" font-size="8.6" fill="#1b1b4d" text-anchor="middle" >23</text>
<line x1="633.75" y1="697.5" x2="815.3" y2="697.5" stroke="#484848" stroke-width="0.62"/>
<line x1="631.55" y1="699.7" x2="635.95" y2="695.3" stroke="#333" stroke-width="0.8"/>
<line x1="813.1" y1="699.7" x2="817.5" y2="695.3" stroke="#333" stroke-width="0.8"/>
<text transform="translate(725 697.3) scale(0.78 1)" font-family="'Liberation Sans', sans-serif" font-size="8.6" fill="#1b1b4d" text-anchor="middle" >425</text>
<line x1="797.5" y1="589.4" x2="797.5" y2="792.3" stroke="#484848" stroke-width="0.62"/>
<line x1="795.3" y1="591.6" x2="799.7" y2="587.2" stroke="#333" stroke-width="0.8"/>
<line x1="795.3" y1="662.8" x2="799.7" y2="658.4" stroke="#333" stroke-width="0.8"/>
<line x1="795.3" y1="667.8" x2="799.7" y2="663.4" stroke="#333" stroke-width="0.8"/>
<line x1="795.3" y1="699.7" x2="799.7" y2="695.3" stroke="#333" stroke-width="0.8"/>
<line x1="795.3" y1="762.2" x2="799.7" y2="757.8" stroke="#333" stroke-width="0.8"/>
<line x1="795.3" y1="794.5" x2="799.7" y2="790.1" stroke="#333" stroke-width="0.8"/>
<text transform="translate(795.1 602) rotate(-90) scale(0.78 1)" font-family="'Liberation Sans', sans-serif" font-size="8.6" fill="#1b1b4d" text-anchor="middle" >168</text>
<text transform="translate(795.1 631.5) rotate(-90) scale(0.78 1)" font-family="'Liberation Sans', sans-serif" font-size="8.6" fill="#1b1b4d" text-anchor="middle" >141</text>
<text transform="translate(795.1 662.5) rotate(-90) scale(0.78 1)" font-family="'Liberation Sans', sans-serif" font-size="8.6" fill="#1b1b4d" text-anchor="middle" >12</text>
<text transform="translate(795.1 681) rotate(-90) scale(0.78 1)" font-family="'Liberation Sans', sans-serif" font-size="8.6" fill="#1b1b4d" text-anchor="middle" >73</text>
<text transform="translate(795.1 728) rotate(-90) scale(0.78 1)" font-family="'Liberation Sans', sans-serif" font-size="8.6" fill="#1b1b4d" text-anchor="middle" >150</text>
<text transform="translate(795.1 776) rotate(-90) scale(0.78 1)" font-family="'Liberation Sans', sans-serif" font-size="8.6" fill="#1b1b4d" text-anchor="middle" >75</text>
<text transform="translate(874.9 716) rotate(-90) scale(0.78 1)" font-family="'Liberation Sans', sans-serif" font-size="8.6" fill="#1b1b4d" text-anchor="middle" >174</text>
<text transform="translate(875.5 758) rotate(-90) scale(0.78 1)" font-family="'Liberation Sans', sans-serif" font-size="8.6" fill="#1b1b4d" text-anchor="middle" >23</text>
<text transform="translate(795.1 547) rotate(-90) scale(0.78 1)" font-family="'Liberation Sans', sans-serif" font-size="8.6" fill="#1b1b4d" text-anchor="middle" >200</text>
<line x1="932.5" y1="305.5" x2="1169.5" y2="305.5" stroke="#484848" stroke-width="0.62"/>
<line x1="930.3" y1="307.2" x2="934.7" y2="302.8" stroke="#333" stroke-width="0.8"/>
<line x1="994.1" y1="307.2" x2="998.5" y2="302.8" stroke="#333" stroke-width="0.8"/>
<line x1="1167.3" y1="307.2" x2="1171.7" y2="302.8" stroke="#333" stroke-width="0.8"/>
<text transform="translate(964.3 302.8) scale(0.78 1)" font-family="'Liberation Sans', sans-serif" font-size="8.6" fill="#1b1b4d" text-anchor="middle" >150</text>
<text transform="translate(1056.3 302.8) scale(0.78 1)" font-family="'Liberation Sans', sans-serif" font-size="8.6" fill="#1b1b4d" text-anchor="middle" >405</text>
<line x1="825.8" y1="327.5" x2="1169.5" y2="327.5" stroke="#484848" stroke-width="0.62"/>
<line x1="823.6" y1="329.2" x2="828" y2="324.8" stroke="#333" stroke-width="0.8"/>
<line x1="1167.3" y1="329.2" x2="1171.7" y2="324.8" stroke="#333" stroke-width="0.8"/>
<text transform="translate(1056.3 324.8) scale(0.78 1)" font-family="'Liberation Sans', sans-serif" font-size="8.6" fill="#1b1b4d" text-anchor="middle" >805</text>
<line x1="825.8" y1="373.5" x2="1169.5" y2="373.5" stroke="#484848" stroke-width="0.62"/>
<line x1="886.6" y1="375.2" x2="891" y2="370.8" stroke="#333" stroke-width="0.8"/>
<line x1="1007.1" y1="375.2" x2="1011.5" y2="370.8" stroke="#333" stroke-width="0.8"/>
<line x1="1131.6" y1="375.2" x2="1136" y2="370.8" stroke="#333" stroke-width="0.8"/>
<line x1="1163.3" y1="375.2" x2="1167.7" y2="370.8" stroke="#333" stroke-width="0.8"/>
<line x1="1167.3" y1="375.2" x2="1171.7" y2="370.8" stroke="#333" stroke-width="0.8"/>
<text transform="translate(948.8 370.8) scale(0.78 1)" font-family="'Liberation Sans', sans-serif" font-size="8.6" fill="#1b1b4d" text-anchor="middle" >280</text>
<text transform="translate(1071.3 370.8) scale(0.78 1)" font-family="'Liberation Sans', sans-serif" font-size="8.6" fill="#1b1b4d" text-anchor="middle" >292</text>
<text transform="translate(1150 370.8) scale(0.78 1)" font-family="'Liberation Sans', sans-serif" font-size="8.6" fill="#1b1b4d" text-anchor="middle" >75</text>
<text transform="translate(1167.5 370.8) scale(0.78 1)" font-family="'Liberation Sans', sans-serif" font-size="8.6" fill="#1b1b4d" text-anchor="middle" >8</text>
<line x1="954.5" y1="255" x2="954.5" y2="663.75" stroke="#484848" stroke-width="0.62"/>
<line x1="952.3" y1="257.2" x2="956.7" y2="252.8" stroke="#333" stroke-width="0.8"/>
<line x1="952.3" y1="396.7" x2="956.7" y2="392.3" stroke="#333" stroke-width="0.8"/>
<line x1="952.3" y1="401.7" x2="956.7" y2="397.3" stroke="#333" stroke-width="0.8"/>
<line x1="952.3" y1="527.2" x2="956.7" y2="522.8" stroke="#333" stroke-width="0.8"/>
<line x1="952.3" y1="538.45" x2="956.7" y2="534.05" stroke="#333" stroke-width="0.8"/>
<line x1="952.3" y1="543.2" x2="956.7" y2="538.8" stroke="#333" stroke-width="0.8"/>
<line x1="952.3" y1="577.2" x2="956.7" y2="572.8" stroke="#333" stroke-width="0.8"/>
<line x1="952.3" y1="665.95" x2="956.7" y2="661.55" stroke="#333" stroke-width="0.8"/>
<text transform="translate(952.1 323.8) rotate(-90) scale(0.78 1)" font-family="'Liberation Sans', sans-serif" font-size="8.6" fill="#1b1b4d" text-anchor="middle" >323</text>
<text transform="translate(952.1 397) rotate(-90) scale(0.78 1)" font-family="'Liberation Sans', sans-serif" font-size="8.6" fill="#1b1b4d" text-anchor="middle" >14</text>
<text transform="translate(952.1 462) rotate(-90) scale(0.78 1)" font-family="'Liberation Sans', sans-serif" font-size="8.6" fill="#1b1b4d" text-anchor="middle" >310</text>
<text transform="translate(952.1 531) rotate(-90) scale(0.78 1)" font-family="'Liberation Sans', sans-serif" font-size="8.6" fill="#1b1b4d" text-anchor="middle" >25</text>
<text transform="translate(952.1 557) rotate(-90) scale(0.78 1)" font-family="'Liberation Sans', sans-serif" font-size="8.6" fill="#1b1b4d" text-anchor="middle" >80</text>
<text transform="translate(952.1 619) rotate(-90) scale(0.78 1)" font-family="'Liberation Sans', sans-serif" font-size="8.6" fill="#1b1b4d" text-anchor="middle" >210</text>
<line x1="1112.5" y1="255" x2="1112.5" y2="663.75" stroke="#484848" stroke-width="0.62"/>
<line x1="1110.3" y1="257.2" x2="1114.7" y2="252.8" stroke="#333" stroke-width="0.8"/>
<line x1="1110.3" y1="389.7" x2="1114.7" y2="385.3" stroke="#333" stroke-width="0.8"/>
<line x1="1110.3" y1="399.7" x2="1114.7" y2="395.3" stroke="#333" stroke-width="0.8"/>
<line x1="1110.3" y1="527.95" x2="1114.7" y2="523.55" stroke="#333" stroke-width="0.8"/>
<line x1="1110.3" y1="538.45" x2="1114.7" y2="534.05" stroke="#333" stroke-width="0.8"/>
<line x1="1110.3" y1="665.95" x2="1114.7" y2="661.55" stroke="#333" stroke-width="0.8"/>
<text transform="translate(1110.1 322) rotate(-90) scale(0.78 1)" font-family="'Liberation Sans', sans-serif" font-size="8.6" fill="#1b1b4d" text-anchor="middle" >310</text>
<text transform="translate(1110.1 392.5) rotate(-90) scale(0.78 1)" font-family="'Liberation Sans', sans-serif" font-size="8.6" fill="#1b1b4d" text-anchor="middle" >25</text>
<text transform="translate(1110.1 531) rotate(-90) scale(0.78 1)" font-family="'Liberation Sans', sans-serif" font-size="8.6" fill="#1b1b4d" text-anchor="middle" >25</text>
<text transform="translate(1110.1 600) rotate(-90) scale(0.78 1)" font-family="'Liberation Sans', sans-serif" font-size="8.6" fill="#1b1b4d" text-anchor="middle" >300</text>
<text transform="translate(1108.2 449.5) rotate(-90) scale(0.78 1)" font-family="'Liberation Sans', sans-serif" font-size="8.6" fill="#1b1b4d" text-anchor="middle" >300</text>
<line x1="1158.5" y1="255" x2="1158.5" y2="397.5" stroke="#484848" stroke-width="0.62"/>
<line x1="1156.6" y1="257.2" x2="1161" y2="252.8" stroke="#333" stroke-width="0.8"/>
<line x1="1156.6" y1="284.7" x2="1161" y2="280.3" stroke="#333" stroke-width="0.8"/>
<line x1="1156.6" y1="381" x2="1161" y2="376.6" stroke="#333" stroke-width="0.8"/>
<text transform="translate(1156.4 268.8) rotate(-90) scale(0.78 1)" font-family="'Liberation Sans', sans-serif" font-size="8.6" fill="#1b1b4d" text-anchor="middle" >64</text>
<text transform="translate(1156.4 330.5) rotate(-90) scale(0.78 1)" font-family="'Liberation Sans', sans-serif" font-size="8.6" fill="#1b1b4d" text-anchor="middle" >226</text>
<text transform="translate(1156.4 381.5) rotate(-90) scale(0.78 1)" font-family="'Liberation Sans', sans-serif" font-size="8.6" fill="#1b1b4d" text-anchor="middle" >20</text>
<text transform="translate(1156.4 392.5) rotate(-90) scale(0.78 1)" font-family="'Liberation Sans', sans-serif" font-size="8.6" fill="#1b1b4d" text-anchor="middle" >25</text>
<text transform="translate(1156.4 401) rotate(-90) scale(0.78 1)" font-family="'Liberation Sans', sans-serif" font-size="8.6" fill="#1b1b4d" text-anchor="middle" >12</text>
<line x1="1158.5" y1="536.25" x2="1158.5" y2="663.75" stroke="#484848" stroke-width="0.62"/>
<line x1="1156.6" y1="548.5" x2="1161" y2="544.1" stroke="#333" stroke-width="0.8"/>
<line x1="1156.6" y1="635.95" x2="1161" y2="631.55" stroke="#333" stroke-width="0.8"/>
<line x1="1156.6" y1="665.95" x2="1161" y2="661.55" stroke="#333" stroke-width="0.8"/>
<text transform="translate(1156.4 590) rotate(-90) scale(0.78 1)" font-family="'Liberation Sans', sans-serif" font-size="8.6" fill="#1b1b4d" text-anchor="middle" >207</text>
<text transform="translate(1156.4 648.8) rotate(-90) scale(0.78 1)" font-family="'Liberation Sans', sans-serif" font-size="8.6" fill="#1b1b4d" text-anchor="middle" >73</text>
<text transform="translate(1156.4 461) rotate(-90) scale(0.78 1)" font-family="'Liberation Sans', sans-serif" font-size="8.6" fill="#1b1b4d" text-anchor="middle" >276</text>
<text transform="translate(1000 394) rotate(-90) scale(0.78 1)" font-family="'Liberation Sans', sans-serif" font-size="8.6" fill="#1b1b4d" text-anchor="middle" >13</text>
<line x1="896" y1="480.5" x2="1196.3" y2="480.5" stroke="#484848" stroke-width="0.62"/>
<line x1="893.8" y1="482.2" x2="898.2" y2="477.8" stroke="#333" stroke-width="0.8"/>
<line x1="1116.8" y1="482.2" x2="1121.2" y2="477.8" stroke="#333" stroke-width="0.8"/>
<line x1="1127.3" y1="482.2" x2="1131.7" y2="477.8" stroke="#333" stroke-width="0.8"/>
<line x1="1131.6" y1="482.2" x2="1136" y2="477.8" stroke="#333" stroke-width="0.8"/>
<line x1="1183.4" y1="482.2" x2="1187.8" y2="477.8" stroke="#333" stroke-width="0.8"/>
<line x1="1194.1" y1="482.2" x2="1198.5" y2="477.8" stroke="#333" stroke-width="0.8"/>
<text transform="translate(1006.3 477.8) scale(0.78 1)" font-family="'Liberation Sans', sans-serif" font-size="8.6" fill="#1b1b4d" text-anchor="middle" >523</text>
<text transform="translate(1122.5 477.8) scale(0.78 1)" font-family="'Liberation Sans', sans-serif" font-size="8.6" fill="#1b1b4d" text-anchor="middle" >25</text>
<text transform="translate(1131.5 477.8) scale(0.78 1)" font-family="'Liberation Sans', sans-serif" font-size="8.6" fill="#1b1b4d" text-anchor="middle" >12</text>
<text transform="translate(1160 477.8) scale(0.78 1)" font-family="'Liberation Sans', sans-serif" font-size="8.6" fill="#1b1b4d" text-anchor="middle" >124</text>
<text transform="translate(1191.3 477.8) scale(0.78 1)" font-family="'Liberation Sans', sans-serif" font-size="8.6" fill="#1b1b4d" text-anchor="middle" >23</text>
<line x1="896" y1="522.5" x2="1196.3" y2="522.5" stroke="#484848" stroke-width="0.62"/>
<line x1="893.8" y1="524.2" x2="898.2" y2="519.8" stroke="#333" stroke-width="0.8"/>
<line x1="1116.8" y1="524.2" x2="1121.2" y2="519.8" stroke="#333" stroke-width="0.8"/>
<line x1="1127.3" y1="524.2" x2="1131.7" y2="519.8" stroke="#333" stroke-width="0.8"/>
<line x1="1131.6" y1="524.2" x2="1136" y2="519.8" stroke="#333" stroke-width="0.8"/>
<line x1="1183.4" y1="524.2" x2="1187.8" y2="519.8" stroke="#333" stroke-width="0.8"/>
<line x1="1194.1" y1="524.2" x2="1198.5" y2="519.8" stroke="#333" stroke-width="0.8"/>
<text transform="translate(981.3 519.8) scale(0.78 1)" font-family="'Liberation Sans', sans-serif" font-size="8.6" fill="#1b1b4d" text-anchor="middle" >523</text>
<text transform="translate(1122.5 519.8) scale(0.78 1)" font-family="'Liberation Sans', sans-serif" font-size="8.6" fill="#1b1b4d" text-anchor="middle" >25</text>
<text transform="translate(1131.5 519.8) scale(0.78 1)" font-family="'Liberation Sans', sans-serif" font-size="8.6" fill="#1b1b4d" text-anchor="middle" >12</text>
<text transform="translate(1160 519.8) scale(0.78 1)" font-family="'Liberation Sans', sans-serif" font-size="8.6" fill="#1b1b4d" text-anchor="middle" >124</text>
<text transform="translate(1191.3 519.8) scale(0.78 1)" font-family="'Liberation Sans', sans-serif" font-size="8.6" fill="#1b1b4d" text-anchor="middle" >23</text>
<line x1="942" y1="640.5" x2="1168.75" y2="640.5" stroke="#484848" stroke-width="0.62"/>
<line x1="939.8" y1="643" x2="944.2" y2="638.6" stroke="#333" stroke-width="0.8"/>
<line x1="1166.55" y1="643" x2="1170.95" y2="638.6" stroke="#333" stroke-width="0.8"/>
<text transform="translate(1055.5 638.5) scale(0.78 1)" font-family="'Liberation Sans', sans-serif" font-size="8.6" fill="#1b1b4d" text-anchor="middle" >533</text>
<line x1="825.8" y1="422.5" x2="893.8" y2="422.5" stroke="#484848" stroke-width="0.62"/>
<line x1="823.6" y1="424.7" x2="828" y2="420.3" stroke="#333" stroke-width="0.8"/>
<line x1="842.8" y1="424.7" x2="847.2" y2="420.3" stroke="#333" stroke-width="0.8"/>
<line x1="881.3" y1="424.7" x2="885.7" y2="420.3" stroke="#333" stroke-width="0.8"/>
<line x1="887.8" y1="424.7" x2="892.2" y2="420.3" stroke="#333" stroke-width="0.8"/>
<line x1="891.6" y1="424.7" x2="896" y2="420.3" stroke="#333" stroke-width="0.8"/>
<text transform="translate(835.5 420.2) scale(0.78 1)" font-family="'Liberation Sans', sans-serif" font-size="8.6" fill="#1b1b4d" text-anchor="middle" >45</text>
<text transform="translate(864 420.2) scale(0.78 1)" font-family="'Liberation Sans', sans-serif" font-size="8.6" fill="#1b1b4d" text-anchor="middle" >90</text>
<text transform="translate(887 420.2) scale(0.78 1)" font-family="'Liberation Sans', sans-serif" font-size="8.6" fill="#1b1b4d" text-anchor="middle" >15</text>
<line x1="815" y1="481.5" x2="893.8" y2="481.5" stroke="#484848" stroke-width="0.62"/>
<line x1="812.8" y1="483.2" x2="817.2" y2="478.8" stroke="#333" stroke-width="0.8"/>
<line x1="823.6" y1="483.2" x2="828" y2="478.8" stroke="#333" stroke-width="0.8"/>
<line x1="842.8" y1="483.2" x2="847.2" y2="478.8" stroke="#333" stroke-width="0.8"/>
<line x1="881.3" y1="483.2" x2="885.7" y2="478.8" stroke="#333" stroke-width="0.8"/>
<text transform="translate(820.5 478.8) scale(0.78 1)" font-family="'Liberation Sans', sans-serif" font-size="8.6" fill="#1b1b4d" text-anchor="middle" >25</text>
<text transform="translate(835.5 478.8) scale(0.78 1)" font-family="'Liberation Sans', sans-serif" font-size="8.6" fill="#1b1b4d" text-anchor="middle" >45</text>
<text transform="translate(864 478.8) scale(0.78 1)" font-family="'Liberation Sans', sans-serif" font-size="8.6" fill="#1b1b4d" text-anchor="middle" >90</text>
<text transform="translate(889.5 478.8) scale(0.78 1)" font-family="'Liberation Sans', sans-serif" font-size="8.6" fill="#1b1b4d" text-anchor="middle" >192</text>
<line x1="876.5" y1="453.8" x2="876.5" y2="675" stroke="#484848" stroke-width="0.62"/>
<line x1="874.1" y1="538.5" x2="878.5" y2="534.1" stroke="#333" stroke-width="0.8"/>
<line x1="874.1" y1="581.6" x2="878.5" y2="577.2" stroke="#333" stroke-width="0.8"/>
<line x1="874.1" y1="586.6" x2="878.5" y2="582.2" stroke="#333" stroke-width="0.8"/>
<line x1="874.1" y1="665.95" x2="878.5" y2="661.55" stroke="#333" stroke-width="0.8"/>
<line x1="797.5" y1="453.8" x2="797.5" y2="589.4" stroke="#484848" stroke-width="0.62"/>
<text transform="translate(795.1 490) rotate(-90) scale(0.78 1)" font-family="'Liberation Sans', sans-serif" font-size="8.6" fill="#1b1b4d" text-anchor="middle" >90</text>
<text transform="translate(874.5 557) rotate(-90) scale(0.78 1)" font-family="'Liberation Sans', sans-serif" font-size="8.6" fill="#1b1b4d" text-anchor="middle" >100</text>
<text transform="translate(874.5 582) rotate(-90) scale(0.78 1)" font-family="'Liberation Sans', sans-serif" font-size="8.6" fill="#1b1b4d" text-anchor="middle" >12</text>
<text transform="translate(874.5 623.5) rotate(-90) scale(0.78 1)" font-family="'Liberation Sans', sans-serif" font-size="8.6" fill="#1b1b4d" text-anchor="middle" >188</text>
<text transform="translate(874.5 669) rotate(-90) scale(0.78 1)" font-family="'Liberation Sans', sans-serif" font-size="8.6" fill="#1b1b4d" text-anchor="middle" >25</text>
<text transform="translate(952.1 669) rotate(-90) scale(0.78 1)" font-family="'Liberation Sans', sans-serif" font-size="8.6" fill="#1b1b4d" text-anchor="middle" >25</text>
<text transform="translate(491.5 419.6) scale(0.78 1)" font-family="'Liberation Sans', sans-serif" font-size="4.6" fill="#777" text-anchor="middle" >90</text>
<text transform="translate(491.5 426) scale(0.78 1)" font-family="'Liberation Sans', sans-serif" font-size="4.6" fill="#777" text-anchor="middle" >210</text>
<line x1="483.5" y1="421.5" x2="499.5" y2="421.5" stroke="#888" stroke-width="0.5"/>
<text transform="translate(497 465.6) scale(0.78 1)" font-family="'Liberation Sans', sans-serif" font-size="4.6" fill="#777" text-anchor="middle" >90</text>
<text transform="translate(497 472) scale(0.78 1)" font-family="'Liberation Sans', sans-serif" font-size="4.6" fill="#777" text-anchor="middle" >210</text>
<line x1="489" y1="467.5" x2="505" y2="467.5" stroke="#888" stroke-width="0.5"/>
<text transform="translate(539.6 397.5) rotate(-90) scale(0.78 1)" font-family="'Liberation Sans', sans-serif" font-size="4.6" fill="#777" text-anchor="middle" >92</text>
<text transform="translate(546.6 397.5) rotate(-90) scale(0.78 1)" font-family="'Liberation Sans', sans-serif" font-size="4.6" fill="#777" text-anchor="middle" >210</text>
<line x1="542.5" y1="389.5" x2="542.5" y2="405.5" stroke="#888" stroke-width="0.5"/>
<text transform="translate(718.6 584.5) rotate(-90) scale(0.78 1)" font-family="'Liberation Sans', sans-serif" font-size="4.6" fill="#777" text-anchor="middle" >102</text>
<text transform="translate(725.6 584.5) rotate(-90) scale(0.78 1)" font-family="'Liberation Sans', sans-serif" font-size="4.6" fill="#777" text-anchor="middle" >210</text>
<line x1="721.5" y1="576.5" x2="721.5" y2="592.5" stroke="#888" stroke-width="0.5"/>
<text transform="translate(646 630.6) scale(0.78 1)" font-family="'Liberation Sans', sans-serif" font-size="4.6" fill="#777" text-anchor="middle" >90</text>
<text transform="translate(646 637) scale(0.78 1)" font-family="'Liberation Sans', sans-serif" font-size="4.6" fill="#777" text-anchor="middle" >210</text>
<line x1="638" y1="632.5" x2="654" y2="632.5" stroke="#888" stroke-width="0.5"/>
<text transform="translate(713.1 659.5) rotate(-90) scale(0.78 1)" font-family="'Liberation Sans', sans-serif" font-size="4.6" fill="#777" text-anchor="middle" >80</text>
<text transform="translate(720.1 659.5) rotate(-90) scale(0.78 1)" font-family="'Liberation Sans', sans-serif" font-size="4.6" fill="#777" text-anchor="middle" >210</text>
<line x1="715.5" y1="651.5" x2="715.5" y2="667.5" stroke="#888" stroke-width="0.5"/>
<text transform="translate(746 645.6) scale(0.78 1)" font-family="'Liberation Sans', sans-serif" font-size="4.6" fill="#777" text-anchor="middle" >70</text>
<text transform="translate(746 652) scale(0.78 1)" font-family="'Liberation Sans', sans-serif" font-size="4.6" fill="#777" text-anchor="middle" >210</text>
<line x1="738" y1="647.5" x2="754" y2="647.5" stroke="#888" stroke-width="0.5"/>
<text transform="translate(829 489.6) scale(0.78 1)" font-family="'Liberation Sans', sans-serif" font-size="4.6" fill="#777" text-anchor="middle" >102</text>
<text transform="translate(829 496) scale(0.78 1)" font-family="'Liberation Sans', sans-serif" font-size="4.6" fill="#777" text-anchor="middle" >210</text>
<line x1="821" y1="491.5" x2="837" y2="491.5" stroke="#888" stroke-width="0.5"/>
<text transform="translate(861 482.1) scale(0.78 1)" font-family="'Liberation Sans', sans-serif" font-size="4.6" fill="#777" text-anchor="middle" >90</text>
<text transform="translate(861 488.5) scale(0.78 1)" font-family="'Liberation Sans', sans-serif" font-size="4.6" fill="#777" text-anchor="middle" >210</text>
<line x1="853" y1="483.5" x2="869" y2="483.5" stroke="#888" stroke-width="0.5"/>
<text transform="translate(896.5 505.1) scale(0.78 1)" font-family="'Liberation Sans', sans-serif" font-size="4.6" fill="#777" text-anchor="middle" >80</text>
<text transform="translate(896.5 511.5) scale(0.78 1)" font-family="'Liberation Sans', sans-serif" font-size="4.6" fill="#777" text-anchor="middle" >210</text>
<line x1="888.5" y1="506.5" x2="904.5" y2="506.5" stroke="#888" stroke-width="0.5"/>
<text transform="translate(940 549.6) scale(0.78 1)" font-family="'Liberation Sans', sans-serif" font-size="4.6" fill="#777" text-anchor="middle" >80</text>
<text transform="translate(940 556) scale(0.78 1)" font-family="'Liberation Sans', sans-serif" font-size="4.6" fill="#777" text-anchor="middle" >210</text>
<line x1="932" y1="551.5" x2="948" y2="551.5" stroke="#888" stroke-width="0.5"/>
<text transform="translate(913.6 580) rotate(-90) scale(0.78 1)" font-family="'Liberation Sans', sans-serif" font-size="4.6" fill="#777" text-anchor="middle" >70</text>
<text transform="translate(920.6 580) rotate(-90) scale(0.78 1)" font-family="'Liberation Sans', sans-serif" font-size="4.6" fill="#777" text-anchor="middle" >210</text>
<line x1="916.5" y1="572" x2="916.5" y2="588" stroke="#888" stroke-width="0.5"/>
<text x="1484" y="191" font-family="'Liberation Sans', sans-serif" font-size="8.6" fill="#1a1a1a" text-anchor="middle" textLength="47.5" lengthAdjust="spacingAndGlyphs" font-weight="bold">ЗАБЕЛЕЖКА:</text>
<line x1="1460.3" y1="192.5" x2="1507.8" y2="192.5" stroke="#1a1a1a" stroke-width="0.7"/>
<text x="1404.3" y="202.6" font-family="'Liberation Sans', sans-serif" font-size="6.1" fill="#1a1a1a" text-anchor="start" textLength="156.5" lengthAdjust="spacingAndGlyphs" font-weight="bold" fill-opacity="0.9">1. Всички мерки, включително тези на отворите са столарски в</text>
<text x="1404.3" y="210.6" font-family="'Liberation Sans', sans-serif" font-size="6.1" fill="#1a1a1a" text-anchor="start" textLength="149" lengthAdjust="spacingAndGlyphs" font-weight="bold" fill-opacity="0.9">сантиметри. Всички готове на изделията показват столарски</text>
<text x="1404.3" y="218.6" font-family="'Liberation Sans', sans-serif" font-size="6.1" fill="#1a1a1a" text-anchor="start" textLength="22.5" lengthAdjust="spacingAndGlyphs" font-weight="bold" fill-opacity="0.9">размери.</text>
<text x="1404.3" y="226.6" font-family="'Liberation Sans', sans-serif" font-size="6.1" fill="#1a1a1a" text-anchor="start" textLength="94" lengthAdjust="spacingAndGlyphs" font-weight="bold" fill-opacity="0.9">2. Всички вертикални коти са в метри.</text>
<text x="1404.3" y="234.6" font-family="'Liberation Sans', sans-serif" font-size="6.1" fill="#1a1a1a" text-anchor="start" textLength="124.5" lengthAdjust="spacingAndGlyphs" font-weight="bold" fill-opacity="0.9">3. Всички външни стени да се изпълнят от тухла, с</text>
<text x="1404.3" y="242.6" font-family="'Liberation Sans', sans-serif" font-size="6.1" fill="#1a1a1a" text-anchor="start" textLength="141" lengthAdjust="spacingAndGlyphs" font-weight="bold" fill-opacity="0.9">мазилка/облицовка и изолация, по архитектурен детайл.</text>
<text x="1404.3" y="250.6" font-family="'Liberation Sans', sans-serif" font-size="6.1" fill="#1a1a1a" text-anchor="start" textLength="152" lengthAdjust="spacingAndGlyphs" font-weight="bold" fill-opacity="0.9">4. Всички екстериорни парапети са с минимална височина на</text>
<text x="1404.3" y="258.6" font-family="'Liberation Sans', sans-serif" font-size="6.1" fill="#1a1a1a" text-anchor="start" textLength="70" lengthAdjust="spacingAndGlyphs" font-weight="bold" fill-opacity="0.9">ръкохватката 105см от КГП.</text>
<text x="1404.3" y="266.6" font-family="'Liberation Sans', sans-serif" font-size="6.1" fill="#1a1a1a" text-anchor="start" textLength="168" lengthAdjust="spacingAndGlyphs" font-weight="bold" fill-opacity="0.9">5. Всички пешеходни врати са с h min 210см. и параметри съгласно</text>
<text x="1404.3" y="274.6" font-family="'Liberation Sans', sans-serif" font-size="6.1" fill="#1a1a1a" text-anchor="start" textLength="11.5" lengthAdjust="spacingAndGlyphs" font-weight="bold" fill-opacity="0.9">БДС.</text>
<text x="1404.3" y="282.6" font-family="'Liberation Sans', sans-serif" font-size="6.1" fill="#1a1a1a" text-anchor="start" textLength="158" lengthAdjust="spacingAndGlyphs" font-weight="bold" fill-opacity="0.9">6.Всички посочени площи на помещенията са светли-зидарски.</text>
<text x="1484.6" y="315" font-family="'Liberation Sans', sans-serif" font-size="8.6" fill="#1a1a1a" text-anchor="middle" textLength="36.5" lengthAdjust="spacingAndGlyphs" font-weight="bold">ЛЕГЕНДА:</text>
<line x1="1466.3" y1="316.5" x2="1503" y2="316.5" stroke="#1a1a1a" stroke-width="0.7"/>
<text x="1440" y="331.2" font-family="'Liberation Sans', sans-serif" font-size="6" fill="#1a1a1a" text-anchor="start" textLength="55" lengthAdjust="spacingAndGlyphs" font-weight="bold" fill-opacity="0.9">- ВОДОСТОЧНА ТРЪБА</text>
<text x="1440" y="344.2" font-family="'Liberation Sans', sans-serif" font-size="6" fill="#1a1a1a" text-anchor="start" textLength="102" lengthAdjust="spacingAndGlyphs" font-weight="bold" fill-opacity="0.9">- ВЕРТИКАЛЕН КАНАЛИЗАЦИОНЕН КЛОН</text>
<text x="1440" y="357" font-family="'Liberation Sans', sans-serif" font-size="6" fill="#1a1a1a" text-anchor="start" textLength="95" lengthAdjust="spacingAndGlyphs" font-weight="bold" fill-opacity="0.9">- ВЕРТИКАЛЕН ВОДОПРОВОДЕН КЛОН</text>
<text x="1440" y="370" font-family="'Liberation Sans', sans-serif" font-size="6" fill="#1a1a1a" text-anchor="start" textLength="66" lengthAdjust="spacingAndGlyphs" font-weight="bold" fill-opacity="0.9">- ВЕНТИЛАЦИОННА ТРЪБА</text>
<circle cx="1422.9" cy="329.7" r="2.4" fill="none" stroke="#86dccb" stroke-width="0.7" />
<circle cx="1422.9" cy="342.6" r="2.4" fill="none" stroke="#333" stroke-width="0.7" />
<circle cx="1417.3" cy="355.3" r="0.9" fill="#dde" stroke="#44448a" stroke-width="0.5" />
<circle cx="1422.8" cy="355.3" r="0.9" fill="#dde" stroke="#44448a" stroke-width="0.5" />
<circle cx="1429" cy="355.3" r="0.9" fill="#dde" stroke="#44448a" stroke-width="0.5" />
<circle cx="1415.3" cy="368" r="3.5" fill="none" stroke="#e9dcc0" stroke-width="0.8" />
<rect x="1422.8" y="363.6" width="12.4" height="8.8" fill="none" stroke="#ead3bd" stroke-width="1.4" />
<line x1="1397.5" y1="396.5" x2="1578.7" y2="396.5" stroke="#555" stroke-width="0.9"/>
<line x1="1397.5" y1="470.5" x2="1578.7" y2="470.5" stroke="#555" stroke-width="0.9"/>
<rect x="1503.8" y="396" width="74.9" height="74.6" fill="#000" stroke="none" stroke-width="0" />
<text x="1509.2" y="446.9" font-family="'Liberation Sans', sans-serif" font-size="37" font-weight="bold" fill="#e9e9e9" stroke="#e9e9e9" stroke-width="1.1" textLength="64" lengthAdjust="spacingAndGlyphs">SGI.</text>
<text x="1450.6" y="405.2" font-family="'Liberation Sans', sans-serif" font-size="5" fill="#111" text-anchor="middle" textLength="96" lengthAdjust="spacingAndGlyphs">СОФИЯ 1618, БУЛ. БЪЛГАРИЯ 102 . СГРАДА</text>
<text x="1450.6" y="410.3" font-family="'Liberation Sans', sans-serif" font-size="5" fill="#111" text-anchor="middle" textLength="54" lengthAdjust="spacingAndGlyphs">БЕЛИСИМО, 10ТИ ЕТАЖ</text>
<text x="1450.6" y="415.4" font-family="'Liberation Sans', sans-serif" font-size="5" fill="#111" text-anchor="middle" textLength="94" lengthAdjust="spacingAndGlyphs">102 BULGARIA BLV, BELLISSIMO BUSINESS</text>
<text x="1450.6" y="420.6" font-family="'Liberation Sans', sans-serif" font-size="5" fill="#111" text-anchor="middle" textLength="69" lengthAdjust="spacingAndGlyphs">CENTRE, 1618 SOFIA/BULGARIA</text>
<text x="1450.6" y="430.6" font-family="'Liberation Sans', sans-serif" font-size="5" fill="#111" text-anchor="middle" textLength="85.6" lengthAdjust="spacingAndGlyphs">+359 (0)2 4199958 ; +359 (0) 888 364 330</text>
<text x="1450.6" y="435.6" font-family="'Liberation Sans', sans-serif" font-size="5" fill="#111" text-anchor="middle" textLength="103.5" lengthAdjust="spacingAndGlyphs">EMAIL:OFFICE.BG@STEPHENGEORGEINTERNA</text>
<text x="1450.6" y="440.6" font-family="'Liberation Sans', sans-serif" font-size="5" fill="#111" text-anchor="middle" textLength="28.5" lengthAdjust="spacingAndGlyphs">TIONAL.COM</text>
<text x="1450.6" y="450.6" font-family="'Liberation Sans', sans-serif" font-size="5" fill="#111" text-anchor="middle" textLength="102.5" lengthAdjust="spacingAndGlyphs">WWW.STEPHENGEORGEINTERNATIONAL.COM</text>
<text x="1399.4" y="477.5" font-family="'Liberation Sans', sans-serif" font-size="2.9" fill="#111" text-anchor="start" textLength="168" lengthAdjust="spacingAndGlyphs" font-weight="bold">Тези чертежи, технически спецификации, както и проектни предложения и разработки, които в момента са собственост на “Стивън Джордж</text>
<text x="1399.4" y="480.93" font-family="'Liberation Sans', sans-serif" font-size="2.9" fill="#111" text-anchor="start" textLength="176" lengthAdjust="spacingAndGlyphs" font-weight="bold">Интернешънъл - България” ООД, представляват интелектуална собственост по смисъла на Закона за авторското право на “Стивън Джордж Интернешънъл -</text>
<text x="1399.4" y="484.36" font-family="'Liberation Sans', sans-serif" font-size="2.9" fill="#111" text-anchor="start" textLength="22" lengthAdjust="spacingAndGlyphs" font-weight="bold">България” ООД.</text>
<text x="1399.4" y="487.79" font-family="'Liberation Sans', sans-serif" font-size="2.9" fill="#111" text-anchor="start" textLength="164" lengthAdjust="spacingAndGlyphs" font-weight="bold">Изключителното право да използва чертежите и части от тях принадлежи на упълномощените лица от “Стивън Джордж</text>
<text x="1399.4" y="491.22" font-family="'Liberation Sans', sans-serif" font-size="2.9" fill="#111" text-anchor="start" textLength="174" lengthAdjust="spacingAndGlyphs" font-weight="bold">Интернешънъл - България” ООД. Не се разрешава без изрично съгласие възпроизвеждане, представяне на друго лице, копиране,</text>
<text x="1399.4" y="494.65" font-family="'Liberation Sans', sans-serif" font-size="2.9" fill="#111" text-anchor="start" textLength="158" lengthAdjust="spacingAndGlyphs" font-weight="bold">разпространение, предаване на хартиен носител или по електронен път или в цялост или на части на чертежите без изрично</text>
<text x="1399.4" y="498.08" font-family="'Liberation Sans', sans-serif" font-size="2.9" fill="#111" text-anchor="start" textLength="147" lengthAdjust="spacingAndGlyphs" font-weight="bold">предварително писмено съгласие на “Стивън Джордж Интернешънъл - България” ООД, в който и да е формат.</text>
<text x="1399.4" y="504.94" font-family="'Liberation Sans', sans-serif" font-size="2.9" fill="#111" text-anchor="start" textLength="170" lengthAdjust="spacingAndGlyphs" font-weight="bold">These plans and specifications, as well as “Stephen George International - Bulgaria” LTD., name, settings, trademarks and designs</text>
<text x="1399.4" y="508.37" font-family="'Liberation Sans', sans-serif" font-size="2.9" fill="#111" text-anchor="start" textLength="172" lengthAdjust="spacingAndGlyphs" font-weight="bold">are the exclusive property of “Stephen George International - Bulgaria”. The reproduction, copy, representation, modification, distribution</text>
<text x="1399.4" y="511.8" font-family="'Liberation Sans', sans-serif" font-size="2.9" fill="#111" text-anchor="start" textLength="165" lengthAdjust="spacingAndGlyphs" font-weight="bold">and/or the whole or partial use of this plans and specifications in any form or by any means without the prior written consent</text>
<text x="1399.4" y="515.23" font-family="'Liberation Sans', sans-serif" font-size="2.9" fill="#111" text-anchor="start" textLength="100" lengthAdjust="spacingAndGlyphs" font-weight="bold">of “Stephen George International - Bulgaria” LTD. is strictly prohibited.</text>
<rect x="1397.5" y="515.6" width="181.2" height="53.2" fill="#cfcfcf" stroke="#555" stroke-width="1.0" />
<rect x="1397.5" y="568.8" width="181.2" height="25.6" fill="#cfcfcf" stroke="#555" stroke-width="1.0" />
<text x="1399.3" y="521.5" font-family="'Liberation Sans', sans-serif" font-size="4.3" fill="#1c1c1c" text-anchor="start" textLength="54" lengthAdjust="spacingAndGlyphs" fill-opacity="0.9">ОБЕКТ / PROJECT NAME:</text>
<text x="1410" y="531.9" font-family="'Liberation Sans', sans-serif" font-size="7.9" fill="#1a1a1a" text-anchor="start" textLength="163" lengthAdjust="spacingAndGlyphs">ЖИЛИЩНА СГРАДА ANGELO, гр. Благоевград</text>
<text x="1399.3" y="575" font-family="'Liberation Sans', sans-serif" font-size="4.3" fill="#1c1c1c" text-anchor="start" textLength="52" lengthAdjust="spacingAndGlyphs" fill-opacity="0.9">ВЪЗЛОЖИТЕЛ / CLIENT:</text>
<text x="1399.3" y="600.3" font-family="'Liberation Sans', sans-serif" font-size="4.3" fill="#1c1c1c" text-anchor="start" textLength="34.6" lengthAdjust="spacingAndGlyphs" fill-opacity="0.9">ЧАСТ / SECTOR:</text>
<text x="1410" y="608" font-family="'Liberation Sans', sans-serif" font-size="7.9" fill="#1a1a1a" text-anchor="start" textLength="118" lengthAdjust="spacingAndGlyphs">АРХИТЕКТУРА / ARCHITECTURE</text>
<line x1="1397.5" y1="611.5" x2="1578.7" y2="611.5" stroke="#555" stroke-width="0.8"/>
<text x="1399.3" y="617.3" font-family="'Liberation Sans', sans-serif" font-size="4.3" fill="#1c1c1c" text-anchor="start" textLength="31" lengthAdjust="spacingAndGlyphs" fill-opacity="0.9">ФАЗА / STAGE:</text>
<text x="1410" y="625" font-family="'Liberation Sans', sans-serif" font-size="7.9" fill="#1a1a1a" text-anchor="start" textLength="161.3" lengthAdjust="spacingAndGlyphs">ТЕХНИЧЕСКИ ПРОЕКТ / TECHNICAL DESIGN</text>
<line x1="1397.5" y1="628.5" x2="1578.7" y2="628.5" stroke="#555" stroke-width="0.8"/>
<text x="1399.3" y="634.4" font-family="'Liberation Sans', sans-serif" font-size="4.3" fill="#1c1c1c" text-anchor="start" textLength="45" lengthAdjust="spacingAndGlyphs" fill-opacity="0.9">ЧЕРТЕЖ / DRAWING:</text>
<text x="1410" y="643.1" font-family="'Liberation Sans', sans-serif" font-size="7.9" fill="#1a1a1a" text-anchor="start" textLength="107" lengthAdjust="spacingAndGlyphs">ПЛАН ПЪРВИ ЕТАЖ НА КОТА</text>
<text x="1410" y="651.6" font-family="'Liberation Sans', sans-serif" font-size="7.9" fill="#1a1a1a" text-anchor="start" textLength="19" lengthAdjust="spacingAndGlyphs">+2.60</text>
<line x1="1397.5" y1="654.5" x2="1578.7" y2="654.5" stroke="#555" stroke-width="0.8"/>
<text x="1399.3" y="660.6" font-family="'Liberation Sans', sans-serif" font-size="4.3" fill="#1c1c1c" text-anchor="start" textLength="103" lengthAdjust="spacingAndGlyphs" fill-opacity="0.9">ПРОЕКТАНТСКА ПРАВОСПОСОБНОСТ / STAMP</text>
<text x="1399.3" y="729.8" font-family="'Liberation Sans', sans-serif" font-size="4.3" fill="#1c1c1c" text-anchor="start" textLength="70.6" lengthAdjust="spacingAndGlyphs" fill-opacity="0.9">УПРАВИТЕЛ ФИРМА / MANAGER</text>
<text x="1410" y="735.7" font-family="'Liberation Sans', sans-serif" font-size="4.6" fill="#1c1c1c" text-anchor="start" textLength="44" lengthAdjust="spacingAndGlyphs" fill-opacity="0.9">арх. Тихомир Козаков</text>
<line x1="1397.5" y1="739.5" x2="1578.7" y2="739.5" stroke="#555" stroke-width="0.8"/>
<text x="1399.3" y="746.5" font-family="'Liberation Sans', sans-serif" font-size="4.3" fill="#1c1c1c" text-anchor="start" textLength="58" lengthAdjust="spacingAndGlyphs" fill-opacity="0.9">ПРОВЕРИЛ / CHECKED BY:</text>
<text x="1410" y="752" font-family="'Liberation Sans', sans-serif" font-size="4.6" fill="#1c1c1c" text-anchor="start" textLength="33.8" lengthAdjust="spacingAndGlyphs" fill-opacity="0.9">арх. Н. Георгиев</text>
<line x1="1397.5" y1="754.5" x2="1578.7" y2="754.5" stroke="#555" stroke-width="0.8"/>
<text x="1399.3" y="760.6" font-family="'Liberation Sans', sans-serif" font-size="4.3" fill="#1c1c1c" text-anchor="start" textLength="84" lengthAdjust="spacingAndGlyphs" fill-opacity="0.9">ПРОЕКТАНТСКИ ЕКИП / DESIGN TEAM:</text>
<text x="1410" y="767.1" font-family="'Liberation Sans', sans-serif" font-size="4.6" fill="#1c1c1c" text-anchor="start" textLength="39.8" lengthAdjust="spacingAndGlyphs" fill-opacity="0.9">арх. Иван Георгиев</text>
<rect x="1397.5" y="769.4" width="181.2" height="11.2" fill="#cfcfcf" stroke="#555" stroke-width="1.0" />
<text x="1399.3" y="776.9" font-family="'Liberation Sans', sans-serif" font-size="5.4" fill="#222" text-anchor="start" textLength="143.5" lengthAdjust="spacingAndGlyphs" font-weight="bold" fill-opacity="0.9">СЪГЛАСУВАЛИ ПРОЕКТАНТИ / IN COORDINATION WITH:</text>
<text x="1399.3" y="785.9" font-family="'Liberation Sans', sans-serif" font-size="4.3" fill="#1c1c1c" text-anchor="start" textLength="65" lengthAdjust="spacingAndGlyphs" fill-opacity="0.9">КОНСТРУКЦИИ / STRUCTURE:</text>
<line x1="1397.5" y1="795.5" x2="1578.7" y2="795.5" stroke="#555" stroke-width="0.8"/>
<text x="1399.3" y="800.6" font-family="'Liberation Sans', sans-serif" font-size="4.3" fill="#1c1c1c" text-anchor="start" textLength="23" lengthAdjust="spacingAndGlyphs" fill-opacity="0.9">ВиК / WSS:</text>
<line x1="1397.5" y1="810.5" x2="1578.7" y2="810.5" stroke="#555" stroke-width="0.8"/>
<text x="1399.3" y="816" font-family="'Liberation Sans', sans-serif" font-size="4.3" fill="#1c1c1c" text-anchor="start" textLength="121.6" lengthAdjust="spacingAndGlyphs" fill-opacity="0.9">ОВиК и ЕН. ЕФЕКТИВНОСТ. / HVAC and EN. EFFICIENCY</text>
<line x1="1397.5" y1="825.5" x2="1578.7" y2="825.5" stroke="#555" stroke-width="0.8"/>
<text x="1399.3" y="830.6" font-family="'Liberation Sans', sans-serif" font-size="4.3" fill="#1c1c1c" text-anchor="start" textLength="60" lengthAdjust="spacingAndGlyphs" fill-opacity="0.9">ЕЛЕКТРИЧЕСКА / ELECTRO:</text>
<line x1="1397.5" y1="840.5" x2="1578.7" y2="840.5" stroke="#555" stroke-width="0.8"/>
<text x="1399.3" y="845.8" font-family="'Liberation Sans', sans-serif" font-size="4.3" fill="#1c1c1c" text-anchor="start" textLength="49" lengthAdjust="spacingAndGlyphs" fill-opacity="0.9">ГЕОДЕЗИЯ / GEODESY:</text>
<line x1="1397.5" y1="854.5" x2="1578.7" y2="854.5" stroke="#555" stroke-width="0.8"/>
<text x="1399.3" y="860.7" font-family="'Liberation Sans', sans-serif" font-size="4.3" fill="#1c1c1c" text-anchor="start" textLength="90.5" lengthAdjust="spacingAndGlyphs" fill-opacity="0.9">ПОЖАРНА БЕЗОПАСНОСТ / FIRE SAFETY</text>
<line x1="1397.5" y1="869.5" x2="1578.7" y2="869.5" stroke="#555" stroke-width="0.8"/>
<text x="1399.3" y="875.7" font-family="'Liberation Sans', sans-serif" font-size="4.3" fill="#1c1c1c" text-anchor="start" textLength="76" lengthAdjust="spacingAndGlyphs" fill-opacity="0.9">БЛАГОУСТРОЙСТВО / LANDSCAPE</text>
<line x1="1397.5" y1="884.5" x2="1578.7" y2="884.5" stroke="#555" stroke-width="0.8"/>
<text x="1399.3" y="890.5" font-family="'Liberation Sans', sans-serif" font-size="4.3" fill="#1c1c1c" text-anchor="start" textLength="31.8" lengthAdjust="spacingAndGlyphs" fill-opacity="0.9">ПЪТНА / ROAD</text>
<line x1="1397.5" y1="899.3" x2="1578.7" y2="899.3" stroke="#555" stroke-width="1.1"/>
<line x1="1457.5" y1="899.3" x2="1457.5" y2="921.4" stroke="#555" stroke-width="0.8"/>
<line x1="1517.5" y1="899.3" x2="1517.5" y2="938" stroke="#555" stroke-width="0.8"/>
<line x1="1397.5" y1="921.5" x2="1578.7" y2="921.5" stroke="#555" stroke-width="0.8"/>
<text x="1399.3" y="905.2" font-family="'Liberation Sans', sans-serif" font-size="4.3" fill="#1c1c1c" text-anchor="start" textLength="41" lengthAdjust="spacingAndGlyphs" fill-opacity="0.9">КОД НА ПРОЕКТА /</text>
<text x="1399.3" y="910.2" font-family="'Liberation Sans', sans-serif" font-size="4.3" fill="#1c1c1c" text-anchor="start" textLength="13" lengthAdjust="spacingAndGlyphs" fill-opacity="0.9">CODE:</text>
<text x="1455" y="916.1" font-family="'Liberation Sans', sans-serif" font-size="7.3" fill="#1a1a1a" text-anchor="end" textLength="16.3" lengthAdjust="spacingAndGlyphs">3653</text>
<text x="1460" y="905.2" font-family="'Liberation Sans', sans-serif" font-size="4.3" fill="#1c1c1c" text-anchor="start" textLength="35" lengthAdjust="spacingAndGlyphs" fill-opacity="0.9">МАЩАБ / SCALE:</text>
<text x="1515" y="916.1" font-family="'Liberation Sans', sans-serif" font-size="7.3" fill="#1a1a1a" text-anchor="end" textLength="18" lengthAdjust="spacingAndGlyphs">1 : 50</text>
<text x="1520" y="905.2" font-family="'Liberation Sans', sans-serif" font-size="4.3" fill="#1c1c1c" text-anchor="start" textLength="27.5" lengthAdjust="spacingAndGlyphs" fill-opacity="0.9">ДАТА / DATE:</text>
<text x="1575.3" y="916.1" font-family="'Liberation Sans', sans-serif" font-size="7.3" fill="#1a1a1a" text-anchor="end" textLength="26.5" lengthAdjust="spacingAndGlyphs">03/2021</text>
<text x="1399.3" y="926.6" font-family="'Liberation Sans', sans-serif" font-size="4.3" fill="#1c1c1c" text-anchor="start" textLength="42" lengthAdjust="spacingAndGlyphs" fill-opacity="0.9">№ ЛИСТ / SHEET #:</text>
<text x="1514" y="933.8" font-family="'Liberation Sans', sans-serif" font-size="7.3" fill="#1a1a1a" text-anchor="end" textLength="17.3" lengthAdjust="spacingAndGlyphs">A103</text>
<text x="1520" y="926.6" font-family="'Liberation Sans', sans-serif" font-size="4.3" fill="#1c1c1c" text-anchor="start" textLength="50" lengthAdjust="spacingAndGlyphs" fill-opacity="0.9">РЕВИЗИЯ / REVISION #</text>
<text x="1575.3" y="933.8" font-family="'Liberation Sans', sans-serif" font-size="7.3" fill="#1a1a1a" text-anchor="end" textLength="19.5" lengthAdjust="spacingAndGlyphs">TD 01</text>
<g opacity="0.92">
<defs><linearGradient id="fade" gradientUnits="userSpaceOnUse" x1="659" y1="402" x2="686" y2="384"><stop offset="0" stop-color="#fff"/><stop offset="1" stop-color="#000"/></linearGradient><mask id="swm" maskUnits="userSpaceOnUse" x="630" y="330" width="320" height="130"><path d="M630 330 H950 V460 H630 Z" fill="#000"/><path d="M630 395 L700 401 L878 364 L878 330 L950 330 L950 460 L630 460 Z" fill="#fff"/><path d="M640 380 L692 380 L700 401 L640 410 Z" fill="url(#fade)"/></mask></defs>
<g mask="url(#swm)"><path fill-rule="evenodd" fill="#95a9d8" d="M927.6 362.68 A141.6 35.2 -11 1 0 649.6 416.72 A141.6 35.2 -11 1 0 927.6 362.68 Z M905.12 354.96 A122 29.1 -12.9 1 0 667.28 409.44 A122 29.1 -12.9 1 0 905.12 354.96 Z"/></g>
<path d="M769.6 325.4 L841.6 333.75 L891.25 362.8 L838.9 390.8 L774.6 326.8 Z" fill="#446cb2"/>
<path d="M762.5 328.1 L685 396.2 L700 400 L761.9 343.1 L815.8 389 L831.3 392.8 L767.2 329.2 Z" fill="#446cb2"/>
<path d="M750 368.75 L763.1 368.75 L763.1 378.1 L750 378.1 Z" fill="#97abd9"/>
<path d="M765 368.75 L775.6 368.75 L775.6 378.1 L765 378.1 Z" fill="#97abd9"/>
<path d="M750 381.9 L763.1 381.9 L763.1 392.5 L750 392.5 Z" fill="#97abd9"/>
<path d="M765 381.9 L775.6 381.9 L775.6 392.5 L765 392.5 Z" fill="#97abd9"/>
<path d="M784.4 287.8 L806.9 280.3 L806.9 330 L784.4 327.3 Z" fill="#446cb2"/>
<path d="M785.3 316.9 L801.6 303.75 L801.6 313.1 L785.3 317.9 Z" fill="#d4def2"/>
<path d="M785.3 317.2 L800.2 306.5 L800.2 312.4 Z" fill="#9fb2dc"/>
<path d="M811.3 272.8 L836.9 253.1 L836.9 333.5 L811.3 330.5 Z" fill="#d9e2f4"/>
<path d="M812.8 273.8 L835.6 256.2 L835.6 333.2 L812.8 330.6 Z" fill="#9bafda"/>
<path d="M841 235.3 L865.4 250.3 L865.4 357 L857.3 348.8 L857.3 276.6 L841 287.8 Z" fill="#dbe4f5"/>
<path d="M842.3 238.5 L864 251.7 L864 353 L858.6 347.6 L858.6 274 L842.3 285.2 Z" fill="#a3b6de"/>
<path d="M841 289.3 L855.8 279 L855.8 347 L841 333.7 Z" fill="#446cb2"/>
<path d="M867.8 265.3 L891.25 279.4 L891.25 362.8 L867.8 356.5 Z" fill="#5075b7"/>
<text x="563.4" y="485.8" font-family="'Liberation Serif', serif" font-size="66.3" fill="#3f64a9" stroke="#3f64a9" stroke-width="1.58" textLength="33.6" lengthAdjust="spacingAndGlyphs">B</text>
<text x="603.4" y="485.8" font-family="'Liberation Serif', serif" font-size="66.3" fill="#3f64a9" stroke="#3f64a9" stroke-width="1.49" textLength="31.6" lengthAdjust="spacingAndGlyphs">E</text>
<text x="643.4" y="485.8" font-family="'Liberation Serif', serif" font-size="66.3" fill="#3f64a9" stroke="#3f64a9" stroke-width="1.76" textLength="26.6" lengthAdjust="spacingAndGlyphs">S</text>
<text x="669.4" y="485.8" font-family="'Liberation Serif', serif" font-size="66.3" fill="#3f64a9" stroke="#3f64a9" stroke-width="0.54" textLength="40.1" lengthAdjust="spacingAndGlyphs">T</text>
<text x="738.4" y="485.8" font-family="'Liberation Serif', serif" font-size="66.3" fill="#3f64a9" stroke="#3f64a9" stroke-width="1.9" textLength="15.2" lengthAdjust="spacingAndGlyphs">I</text>
<text x="766.4" y="485.8" font-family="'Liberation Serif', serif" font-size="66.3" fill="#3f64a9" stroke="#3f64a9" stroke-width="0.5" textLength="48.2" lengthAdjust="spacingAndGlyphs">N</text>
<text x="814.4" y="485.8" font-family="'Liberation Serif', serif" font-size="66.3" fill="#3f64a9" stroke="#3f64a9" stroke-width="0.5" textLength="48.6" lengthAdjust="spacingAndGlyphs">V</text>
<text x="869.4" y="485.8" font-family="'Liberation Serif', serif" font-size="66.3" fill="#3f64a9" stroke="#3f64a9" stroke-width="1.93" textLength="27.6" lengthAdjust="spacingAndGlyphs">E</text>
<text x="905.4" y="485.8" font-family="'Liberation Serif', serif" font-size="66.3" fill="#3f64a9" stroke="#3f64a9" stroke-width="2" textLength="24.6" lengthAdjust="spacingAndGlyphs">S</text>
<text x="935.4" y="485.8" font-family="'Liberation Serif', serif" font-size="66.3" fill="#3f64a9" stroke="#3f64a9" stroke-width="0.53" textLength="40.2" lengthAdjust="spacingAndGlyphs">T</text>
<text x="565.1" y="526.6" font-family="'Liberation Serif', serif" font-size="38.5" fill="#8da0d0" stroke="#8da0d0" stroke-width="0.9" textLength="23.5" lengthAdjust="spacingAndGlyphs">Н</text>
<text x="594" y="526.6" font-family="'Liberation Serif', serif" font-size="38.5" fill="#8da0d0" stroke="#8da0d0" stroke-width="0.9" textLength="20.2" lengthAdjust="spacingAndGlyphs">Е</text>
<text x="614.6" y="526.6" font-family="'Liberation Serif', serif" font-size="38.5" fill="#8da0d0" stroke="#8da0d0" stroke-width="0.9" textLength="28.5" lengthAdjust="spacingAndGlyphs">Д</text>
<text x="647.6" y="526.6" font-family="'Liberation Serif', serif" font-size="38.5" fill="#8da0d0" stroke="#8da0d0" stroke-width="0.9" textLength="21.7" lengthAdjust="spacingAndGlyphs">В</text>
<text x="673.6" y="526.6" font-family="'Liberation Serif', serif" font-size="38.5" fill="#8da0d0" stroke="#8da0d0" stroke-width="0.9" textLength="24.5" lengthAdjust="spacingAndGlyphs">И</text>
<text x="699.6" y="526.6" font-family="'Liberation Serif', serif" font-size="38.5" fill="#8da0d0" stroke="#8da0d0" stroke-width="0.9" textLength="38.4" lengthAdjust="spacingAndGlyphs">Ж</text>
<text x="743.6" y="526.6" font-family="'Liberation Serif', serif" font-size="38.5" fill="#8da0d0" stroke="#8da0d0" stroke-width="0.9" textLength="23" lengthAdjust="spacingAndGlyphs">И</text>
<text x="767.6" y="526.6" font-family="'Liberation Serif', serif" font-size="38.5" fill="#8da0d0" stroke="#8da0d0" stroke-width="0.9" textLength="30" lengthAdjust="spacingAndGlyphs">М</text>
<text x="799.6" y="526.6" font-family="'Liberation Serif', serif" font-size="38.5" fill="#8da0d0" stroke="#8da0d0" stroke-width="0.9" textLength="21" lengthAdjust="spacingAndGlyphs">И</text>
<text x="836.6" y="526.6" font-family="'Liberation Serif', serif" font-size="38.5" fill="#8da0d0" stroke="#8da0d0" stroke-width="0.9" textLength="23" lengthAdjust="spacingAndGlyphs">И</text>
<text x="861.4" y="526.6" font-family="'Liberation Serif', serif" font-size="38.5" fill="#8da0d0" stroke="#8da0d0" stroke-width="0.9" textLength="34" lengthAdjust="spacingAndGlyphs">М</text>
<text x="895.1" y="526.6" font-family="'Liberation Serif', serif" font-size="38.5" fill="#8da0d0" stroke="#8da0d0" stroke-width="0.9" textLength="30.5" lengthAdjust="spacingAndGlyphs">О</text>
<text x="926.6" y="526.6" font-family="'Liberation Serif', serif" font-size="38.5" fill="#8da0d0" stroke="#8da0d0" stroke-width="0.9" textLength="25" lengthAdjust="spacingAndGlyphs">Т</text>
<text x="952.2" y="526.6" font-family="'Liberation Serif', serif" font-size="38.5" fill="#8da0d0" stroke="#8da0d0" stroke-width="0.9" textLength="18.8" lengthAdjust="spacingAndGlyphs">И</text>
</g>
</svg>
</body></html>
